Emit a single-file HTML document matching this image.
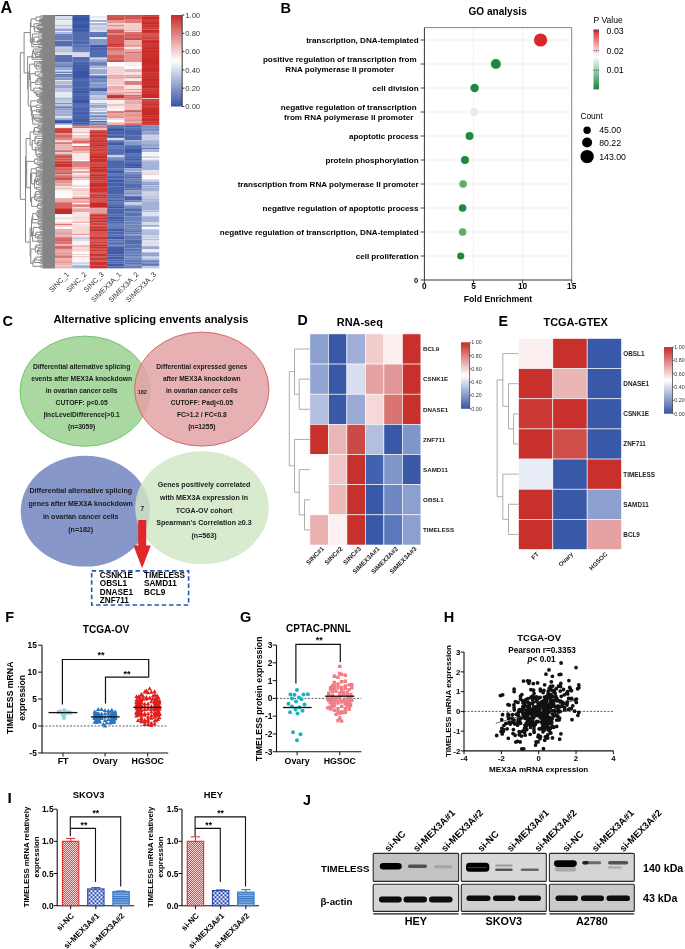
<!DOCTYPE html><html><head><meta charset="utf-8"><title>Figure</title><style>html,body{margin:0;padding:0;background:#fff;}body{width:685px;height:949px;overflow:hidden;font-family:"Liberation Sans",sans-serif;}svg{display:block;filter:blur(0.3px);}</style></head><body><svg width="685" height="949" viewBox="0 0 685 949" font-family="Liberation Sans, sans-serif" font-weight="bold"><text x="0.50" y="13.20" font-size="16.2">A</text>
<rect x="55.00" y="15.00" width="17.42" height="1.051" fill="#516bb0"/>
<rect x="55.00" y="16.00" width="17.42" height="2.052" fill="#d7dded"/>
<rect x="55.00" y="18.00" width="17.42" height="1.051" fill="#d5dbec"/>
<rect x="55.00" y="19.00" width="17.42" height="1.051" fill="#bdc7e1"/>
<rect x="55.00" y="20.01" width="17.42" height="1.051" fill="#eceff7"/>
<rect x="55.00" y="21.01" width="17.42" height="2.052" fill="#e5e9f3"/>
<rect x="55.00" y="23.01" width="17.42" height="2.052" fill="#e7eaf4"/>
<rect x="55.00" y="25.01" width="17.42" height="1.051" fill="#b7c1de"/>
<rect x="55.00" y="26.01" width="17.42" height="2.052" fill="#dee3f0"/>
<rect x="55.00" y="28.02" width="17.42" height="1.051" fill="#c0cae3"/>
<rect x="55.00" y="29.02" width="17.42" height="1.051" fill="#99a8d1"/>
<rect x="55.00" y="30.02" width="17.42" height="1.051" fill="#98a7d0"/>
<rect x="55.00" y="31.02" width="17.42" height="1.051" fill="#e9edf5"/>
<rect x="55.00" y="32.02" width="17.42" height="2.052" fill="#adb9da"/>
<rect x="55.00" y="34.02" width="17.42" height="1.051" fill="#677dba"/>
<rect x="55.00" y="35.02" width="17.42" height="1.051" fill="#6f84be"/>
<rect x="55.00" y="36.02" width="17.42" height="1.051" fill="#637ab8"/>
<rect x="55.00" y="37.03" width="17.42" height="3.054" fill="#667dba"/>
<rect x="55.00" y="40.03" width="17.42" height="1.051" fill="#95a5cf"/>
<rect x="55.00" y="41.03" width="17.42" height="5.056" fill="#536db1"/>
<rect x="55.00" y="46.04" width="17.42" height="1.051" fill="#97a7d0"/>
<rect x="55.00" y="47.04" width="17.42" height="2.052" fill="#c1cae3"/>
<rect x="55.00" y="49.04" width="17.42" height="3.054" fill="#b9c3df"/>
<rect x="55.00" y="52.04" width="17.42" height="2.052" fill="#d5dbec"/>
<rect x="55.00" y="54.05" width="17.42" height="1.051" fill="#e0e4f1"/>
<rect x="55.00" y="55.05" width="17.42" height="7.058" fill="#5770b3"/>
<rect x="55.00" y="62.06" width="17.42" height="1.051" fill="#8799c9"/>
<rect x="55.00" y="63.06" width="17.42" height="3.054" fill="#788cc2"/>
<rect x="55.00" y="66.06" width="17.42" height="1.051" fill="#5770b3"/>
<rect x="55.00" y="67.06" width="17.42" height="2.052" fill="#97a6d0"/>
<rect x="55.00" y="69.06" width="17.42" height="1.051" fill="#94a4cf"/>
<rect x="55.00" y="70.07" width="17.42" height="1.051" fill="#d1d8ea"/>
<rect x="55.00" y="71.07" width="17.42" height="1.051" fill="#b0bbdb"/>
<rect x="55.00" y="72.07" width="17.42" height="1.051" fill="#657cb9"/>
<rect x="55.00" y="73.07" width="17.42" height="1.051" fill="#c6cfe5"/>
<rect x="55.00" y="74.07" width="17.42" height="1.051" fill="#5770b3"/>
<rect x="55.00" y="75.07" width="17.42" height="2.052" fill="#6b81bc"/>
<rect x="55.00" y="77.07" width="17.42" height="1.051" fill="#99a8d1"/>
<rect x="55.00" y="78.07" width="17.42" height="2.052" fill="#8294c6"/>
<rect x="55.00" y="80.08" width="17.42" height="1.051" fill="#e6e9f4"/>
<rect x="55.00" y="81.08" width="17.42" height="3.054" fill="#b1bddc"/>
<rect x="55.00" y="84.08" width="17.42" height="1.051" fill="#c7d0e6"/>
<rect x="55.00" y="85.08" width="17.42" height="3.054" fill="#92a2ce"/>
<rect x="55.00" y="88.09" width="17.42" height="4.055" fill="#bac4e0"/>
<rect x="55.00" y="92.09" width="17.42" height="5.056" fill="#e7eaf4"/>
<rect x="55.00" y="97.10" width="17.42" height="1.051" fill="#cad2e7"/>
<rect x="55.00" y="98.10" width="17.42" height="1.051" fill="#a2b0d5"/>
<rect x="55.00" y="99.10" width="17.42" height="1.051" fill="#b8c3df"/>
<rect x="55.00" y="100.10" width="17.42" height="1.051" fill="#b4bfdd"/>
<rect x="55.00" y="101.10" width="17.42" height="2.052" fill="#c2cbe3"/>
<rect x="55.00" y="103.10" width="17.42" height="1.051" fill="#7287bf"/>
<rect x="55.00" y="104.11" width="17.42" height="2.052" fill="#b7c2de"/>
<rect x="55.00" y="106.11" width="17.42" height="1.051" fill="#7d91c4"/>
<rect x="55.00" y="107.11" width="17.42" height="1.051" fill="#6077b7"/>
<rect x="55.00" y="108.11" width="17.42" height="2.052" fill="#8d9ecb"/>
<rect x="55.00" y="110.11" width="17.42" height="3.054" fill="#a1afd4"/>
<rect x="55.00" y="113.12" width="17.42" height="1.051" fill="#9faed4"/>
<rect x="55.00" y="114.12" width="17.42" height="2.052" fill="#99a8d1"/>
<rect x="55.00" y="116.12" width="17.42" height="2.052" fill="#d9dfee"/>
<rect x="55.00" y="118.12" width="17.42" height="2.052" fill="#9baad2"/>
<rect x="55.00" y="120.12" width="17.42" height="3.054" fill="#3654a4"/>
<rect x="55.00" y="123.13" width="17.42" height="1.051" fill="#7e91c5"/>
<rect x="55.00" y="124.13" width="17.42" height="1.051" fill="#acb8d9"/>
<rect x="55.00" y="125.13" width="17.42" height="2.052" fill="#fcf5f5"/>
<rect x="55.00" y="127.13" width="17.42" height="1.051" fill="#f7dede"/>
<rect x="55.00" y="128.13" width="17.42" height="5.056" fill="#ce403c"/>
<rect x="55.00" y="133.14" width="17.42" height="2.052" fill="#e08886"/>
<rect x="55.00" y="135.14" width="17.42" height="1.051" fill="#d2504d"/>
<rect x="55.00" y="136.14" width="17.42" height="1.051" fill="#d35451"/>
<rect x="55.00" y="137.14" width="17.42" height="1.051" fill="#d76663"/>
<rect x="55.00" y="138.15" width="17.42" height="2.052" fill="#df827f"/>
<rect x="55.00" y="140.15" width="17.42" height="2.052" fill="#f4d4d3"/>
<rect x="55.00" y="142.15" width="17.42" height="1.051" fill="#dd7a78"/>
<rect x="55.00" y="143.15" width="17.42" height="1.051" fill="#d76663"/>
<rect x="55.00" y="144.15" width="17.42" height="5.056" fill="#ecb7b5"/>
<rect x="55.00" y="149.16" width="17.42" height="1.051" fill="#ecb6b4"/>
<rect x="55.00" y="150.16" width="17.42" height="2.052" fill="#da726f"/>
<rect x="55.00" y="152.16" width="17.42" height="2.052" fill="#cbd3e8"/>
<rect x="55.00" y="154.16" width="17.42" height="1.051" fill="#da726f"/>
<rect x="55.00" y="155.17" width="17.42" height="3.054" fill="#d2504d"/>
<rect x="55.00" y="158.17" width="17.42" height="1.051" fill="#d76562"/>
<rect x="55.00" y="159.17" width="17.42" height="1.051" fill="#cb3834"/>
<rect x="55.00" y="160.17" width="17.42" height="1.051" fill="#d65f5c"/>
<rect x="55.00" y="161.17" width="17.42" height="2.052" fill="#cd3c39"/>
<rect x="55.00" y="163.18" width="17.42" height="4.055" fill="#ca332f"/>
<rect x="55.00" y="167.18" width="17.42" height="1.051" fill="#d65e5b"/>
<rect x="55.00" y="168.18" width="17.42" height="2.052" fill="#d45855"/>
<rect x="55.00" y="170.18" width="17.42" height="3.054" fill="#da706d"/>
<rect x="55.00" y="173.19" width="17.42" height="1.051" fill="#cc3b37"/>
<rect x="55.00" y="174.19" width="17.42" height="1.051" fill="#e59b99"/>
<rect x="55.00" y="175.19" width="17.42" height="2.052" fill="#da716e"/>
<rect x="55.00" y="177.19" width="17.42" height="1.051" fill="#d2504d"/>
<rect x="55.00" y="178.19" width="17.42" height="1.051" fill="#cb3430"/>
<rect x="55.00" y="179.19" width="17.42" height="1.051" fill="#c9302c"/>
<rect x="55.00" y="180.20" width="17.42" height="3.054" fill="#e39290"/>
<rect x="55.00" y="183.20" width="17.42" height="3.054" fill="#e8a7a5"/>
<rect x="55.00" y="186.20" width="17.42" height="1.051" fill="#f7e1e0"/>
<rect x="55.00" y="187.20" width="17.42" height="2.052" fill="#f1cbca"/>
<rect x="55.00" y="189.21" width="17.42" height="1.051" fill="#f1c9c8"/>
<rect x="55.00" y="190.21" width="17.42" height="3.054" fill="#fcf4f3"/>
<rect x="55.00" y="193.21" width="17.42" height="2.052" fill="#ffffff"/>
<rect x="55.00" y="195.21" width="17.42" height="2.052" fill="#fefcfc"/>
<rect x="55.00" y="197.22" width="17.42" height="1.051" fill="#ffffff"/>
<rect x="55.00" y="198.22" width="17.42" height="4.055" fill="#eaacaa"/>
<rect x="55.00" y="202.22" width="17.42" height="6.057" fill="#d76461"/>
<rect x="55.00" y="208.23" width="17.42" height="6.057" fill="#c82a26"/>
<rect x="55.00" y="214.24" width="17.42" height="2.052" fill="#ffffff"/>
<rect x="55.00" y="216.24" width="17.42" height="1.051" fill="#fcf4f4"/>
<rect x="55.00" y="217.24" width="17.42" height="1.051" fill="#f7e2e1"/>
<rect x="55.00" y="218.24" width="17.42" height="1.051" fill="#f3cfcf"/>
<rect x="55.00" y="219.24" width="17.42" height="2.052" fill="#fcf3f3"/>
<rect x="55.00" y="221.24" width="17.42" height="1.051" fill="#ffffff"/>
<rect x="55.00" y="222.25" width="17.42" height="2.052" fill="#f2cccb"/>
<rect x="55.00" y="224.25" width="17.42" height="1.051" fill="#d14e4b"/>
<rect x="55.00" y="225.25" width="17.42" height="2.052" fill="#f4d4d3"/>
<rect x="55.00" y="227.25" width="17.42" height="2.052" fill="#ffffff"/>
<rect x="55.00" y="229.25" width="17.42" height="1.051" fill="#e18c8a"/>
<rect x="55.00" y="230.25" width="17.42" height="1.051" fill="#ecb5b4"/>
<rect x="55.00" y="231.26" width="17.42" height="1.051" fill="#e49896"/>
<rect x="55.00" y="232.26" width="17.42" height="2.052" fill="#e49694"/>
<rect x="55.00" y="234.26" width="17.42" height="1.051" fill="#e59c9a"/>
<rect x="55.00" y="235.26" width="17.42" height="2.052" fill="#eaadac"/>
<rect x="55.00" y="237.26" width="17.42" height="3.054" fill="#d86866"/>
<rect x="55.00" y="240.27" width="17.42" height="1.051" fill="#cd3e3a"/>
<rect x="55.00" y="241.27" width="17.42" height="2.052" fill="#d96b68"/>
<rect x="55.00" y="243.27" width="17.42" height="1.051" fill="#d6605d"/>
<rect x="55.00" y="244.27" width="17.42" height="2.052" fill="#ebb0af"/>
<rect x="55.00" y="246.27" width="17.42" height="1.051" fill="#cf4441"/>
<rect x="55.00" y="247.28" width="17.42" height="1.051" fill="#ce413d"/>
<rect x="55.00" y="248.28" width="17.42" height="1.051" fill="#d35653"/>
<rect x="55.00" y="249.28" width="17.42" height="1.051" fill="#e49694"/>
<rect x="55.00" y="250.28" width="17.42" height="1.051" fill="#e28e8b"/>
<rect x="55.00" y="251.28" width="17.42" height="4.055" fill="#e7a2a1"/>
<rect x="55.00" y="255.28" width="17.42" height="3.054" fill="#dc7774"/>
<rect x="55.00" y="258.29" width="17.42" height="3.054" fill="#ecb4b3"/>
<rect x="55.00" y="261.29" width="17.42" height="1.051" fill="#e18b89"/>
<rect x="55.00" y="262.29" width="17.42" height="1.051" fill="#e18a87"/>
<rect x="55.00" y="263.29" width="17.42" height="1.051" fill="#e7a4a2"/>
<rect x="55.00" y="264.30" width="17.42" height="1.051" fill="#e6a09e"/>
<rect x="55.00" y="265.30" width="17.42" height="1.051" fill="#eebfbd"/>
<rect x="55.00" y="266.30" width="17.42" height="2.052" fill="#ebb0af"/>
<rect x="72.37" y="15.00" width="17.42" height="1.051" fill="#3d5aa7"/>
<rect x="72.37" y="16.00" width="17.42" height="1.051" fill="#3f5ca8"/>
<rect x="72.37" y="17.00" width="17.42" height="1.051" fill="#3d5aa7"/>
<rect x="72.37" y="18.00" width="17.42" height="3.054" fill="#3654a4"/>
<rect x="72.37" y="21.01" width="17.42" height="3.054" fill="#425ea9"/>
<rect x="72.37" y="24.01" width="17.42" height="4.055" fill="#3654a4"/>
<rect x="72.37" y="28.02" width="17.42" height="2.052" fill="#4460aa"/>
<rect x="72.37" y="30.02" width="17.42" height="1.051" fill="#3654a4"/>
<rect x="72.37" y="31.02" width="17.42" height="1.051" fill="#425ea9"/>
<rect x="72.37" y="32.02" width="17.42" height="6.057" fill="#506ab0"/>
<rect x="72.37" y="38.03" width="17.42" height="1.051" fill="#516bb0"/>
<rect x="72.37" y="39.03" width="17.42" height="1.051" fill="#4c66ae"/>
<rect x="72.37" y="40.03" width="17.42" height="1.051" fill="#5770b3"/>
<rect x="72.37" y="41.03" width="17.42" height="3.054" fill="#4c67ae"/>
<rect x="72.37" y="44.03" width="17.42" height="2.052" fill="#637ab8"/>
<rect x="72.37" y="46.04" width="17.42" height="1.051" fill="#4e68af"/>
<rect x="72.37" y="47.04" width="17.42" height="3.054" fill="#677eba"/>
<rect x="72.37" y="50.04" width="17.42" height="1.051" fill="#647cb9"/>
<rect x="72.37" y="51.04" width="17.42" height="1.051" fill="#667dba"/>
<rect x="72.37" y="52.04" width="17.42" height="1.051" fill="#c7cfe6"/>
<rect x="72.37" y="53.05" width="17.42" height="1.051" fill="#d5dbec"/>
<rect x="72.37" y="54.05" width="17.42" height="3.054" fill="#d4daeb"/>
<rect x="72.37" y="57.05" width="17.42" height="3.054" fill="#4f69af"/>
<rect x="72.37" y="60.05" width="17.42" height="1.051" fill="#5972b4"/>
<rect x="72.37" y="61.05" width="17.42" height="1.051" fill="#536cb1"/>
<rect x="72.37" y="62.06" width="17.42" height="2.052" fill="#4762ac"/>
<rect x="72.37" y="64.06" width="17.42" height="6.057" fill="#425ea9"/>
<rect x="72.37" y="70.07" width="17.42" height="8.059" fill="#3956a5"/>
<rect x="72.37" y="78.07" width="17.42" height="1.051" fill="#415da9"/>
<rect x="72.37" y="79.08" width="17.42" height="1.051" fill="#4763ac"/>
<rect x="72.37" y="80.08" width="17.42" height="7.058" fill="#4863ac"/>
<rect x="72.37" y="87.09" width="17.42" height="4.055" fill="#4662ab"/>
<rect x="72.37" y="91.09" width="17.42" height="2.052" fill="#3654a4"/>
<rect x="72.37" y="93.09" width="17.42" height="2.052" fill="#4863ac"/>
<rect x="72.37" y="95.09" width="17.42" height="4.055" fill="#4561ab"/>
<rect x="72.37" y="99.10" width="17.42" height="4.055" fill="#3654a4"/>
<rect x="72.37" y="103.10" width="17.42" height="1.051" fill="#4460aa"/>
<rect x="72.37" y="104.11" width="17.42" height="1.051" fill="#425ea9"/>
<rect x="72.37" y="105.11" width="17.42" height="2.052" fill="#4f6aaf"/>
<rect x="72.37" y="107.11" width="17.42" height="4.055" fill="#4863ac"/>
<rect x="72.37" y="111.11" width="17.42" height="4.055" fill="#4460ab"/>
<rect x="72.37" y="115.12" width="17.42" height="3.054" fill="#4662ab"/>
<rect x="72.37" y="118.12" width="17.42" height="4.055" fill="#3f5ba8"/>
<rect x="72.37" y="122.13" width="17.42" height="2.052" fill="#415ea9"/>
<rect x="72.37" y="124.13" width="17.42" height="1.051" fill="#4863ac"/>
<rect x="72.37" y="125.13" width="17.42" height="1.051" fill="#d04844"/>
<rect x="72.37" y="126.13" width="17.42" height="1.051" fill="#df8381"/>
<rect x="72.37" y="127.13" width="17.42" height="1.051" fill="#d55c59"/>
<rect x="72.37" y="128.13" width="17.42" height="4.055" fill="#f7e2e1"/>
<rect x="72.37" y="132.14" width="17.42" height="1.051" fill="#ebb3b2"/>
<rect x="72.37" y="133.14" width="17.42" height="1.051" fill="#faeded"/>
<rect x="72.37" y="134.14" width="17.42" height="1.051" fill="#fefcfc"/>
<rect x="72.37" y="135.14" width="17.42" height="1.051" fill="#eebdbc"/>
<rect x="72.37" y="136.14" width="17.42" height="2.052" fill="#f3d1d0"/>
<rect x="72.37" y="138.15" width="17.42" height="2.052" fill="#e8a5a3"/>
<rect x="72.37" y="140.15" width="17.42" height="1.051" fill="#dd7a78"/>
<rect x="72.37" y="141.15" width="17.42" height="2.052" fill="#d6615e"/>
<rect x="72.37" y="143.15" width="17.42" height="1.051" fill="#eaaead"/>
<rect x="72.37" y="144.15" width="17.42" height="2.052" fill="#fefcfc"/>
<rect x="72.37" y="146.16" width="17.42" height="1.051" fill="#ce423e"/>
<rect x="72.37" y="147.16" width="17.42" height="1.051" fill="#e49694"/>
<rect x="72.37" y="148.16" width="17.42" height="2.052" fill="#e18987"/>
<rect x="72.37" y="150.16" width="17.42" height="1.051" fill="#e2918f"/>
<rect x="72.37" y="151.16" width="17.42" height="2.052" fill="#ecb5b3"/>
<rect x="72.37" y="153.16" width="17.42" height="7.058" fill="#f9e9e9"/>
<rect x="72.37" y="160.17" width="17.42" height="1.051" fill="#fffefe"/>
<rect x="72.37" y="161.17" width="17.42" height="5.056" fill="#de7e7c"/>
<rect x="72.37" y="166.18" width="17.42" height="1.051" fill="#da706e"/>
<rect x="72.37" y="167.18" width="17.42" height="2.052" fill="#e8a6a4"/>
<rect x="72.37" y="169.18" width="17.42" height="1.051" fill="#f3d1d0"/>
<rect x="72.37" y="170.18" width="17.42" height="1.051" fill="#f9e6e5"/>
<rect x="72.37" y="171.18" width="17.42" height="2.052" fill="#e59c9a"/>
<rect x="72.37" y="173.19" width="17.42" height="1.051" fill="#fdf6f6"/>
<rect x="72.37" y="174.19" width="17.42" height="1.051" fill="#f7e1e1"/>
<rect x="72.37" y="175.19" width="17.42" height="2.052" fill="#efc0bf"/>
<rect x="72.37" y="177.19" width="17.42" height="1.051" fill="#e08886"/>
<rect x="72.37" y="178.19" width="17.42" height="2.052" fill="#f1c8c7"/>
<rect x="72.37" y="180.20" width="17.42" height="1.051" fill="#f9fafc"/>
<rect x="72.37" y="181.20" width="17.42" height="1.051" fill="#fcfdfe"/>
<rect x="72.37" y="182.20" width="17.42" height="1.051" fill="#fffefe"/>
<rect x="72.37" y="183.20" width="17.42" height="2.052" fill="#f9fafc"/>
<rect x="72.37" y="185.20" width="17.42" height="2.052" fill="#f5d7d6"/>
<rect x="72.37" y="187.20" width="17.42" height="1.051" fill="#ffffff"/>
<rect x="72.37" y="188.21" width="17.42" height="1.051" fill="#f3cfce"/>
<rect x="72.37" y="189.21" width="17.42" height="2.052" fill="#f1cac9"/>
<rect x="72.37" y="191.21" width="17.42" height="4.055" fill="#f6dada"/>
<rect x="72.37" y="195.21" width="17.42" height="1.051" fill="#f9e9e9"/>
<rect x="72.37" y="196.21" width="17.42" height="1.051" fill="#f1cac9"/>
<rect x="72.37" y="197.22" width="17.42" height="1.051" fill="#e7a2a0"/>
<rect x="72.37" y="198.22" width="17.42" height="1.051" fill="#d2514e"/>
<rect x="72.37" y="199.22" width="17.42" height="1.051" fill="#e9a9a7"/>
<rect x="72.37" y="200.22" width="17.42" height="3.054" fill="#e9a8a6"/>
<rect x="72.37" y="203.22" width="17.42" height="1.051" fill="#ffffff"/>
<rect x="72.37" y="204.22" width="17.42" height="3.054" fill="#df8280"/>
<rect x="72.37" y="207.23" width="17.42" height="1.051" fill="#f6dddc"/>
<rect x="72.37" y="208.23" width="17.42" height="4.055" fill="#e8a6a5"/>
<rect x="72.37" y="212.23" width="17.42" height="4.055" fill="#f9e6e6"/>
<rect x="72.37" y="216.24" width="17.42" height="2.052" fill="#f6dbda"/>
<rect x="72.37" y="218.24" width="17.42" height="1.051" fill="#f3d1d0"/>
<rect x="72.37" y="219.24" width="17.42" height="1.051" fill="#e7ebf4"/>
<rect x="72.37" y="220.24" width="17.42" height="2.052" fill="#f4d5d4"/>
<rect x="72.37" y="222.25" width="17.42" height="1.051" fill="#e7a19f"/>
<rect x="72.37" y="223.25" width="17.42" height="1.051" fill="#ffffff"/>
<rect x="72.37" y="224.25" width="17.42" height="1.051" fill="#f6dcdb"/>
<rect x="72.37" y="225.25" width="17.42" height="1.051" fill="#f5d9d8"/>
<rect x="72.37" y="226.25" width="17.42" height="6.057" fill="#f5d8d7"/>
<rect x="72.37" y="232.26" width="17.42" height="2.052" fill="#f4d3d2"/>
<rect x="72.37" y="234.26" width="17.42" height="1.051" fill="#dc7876"/>
<rect x="72.37" y="235.26" width="17.42" height="1.051" fill="#ffffff"/>
<rect x="72.37" y="236.26" width="17.42" height="1.051" fill="#f4d4d3"/>
<rect x="72.37" y="237.26" width="17.42" height="1.051" fill="#c4cde4"/>
<rect x="72.37" y="238.26" width="17.42" height="1.051" fill="#a7b4d7"/>
<rect x="72.37" y="239.27" width="17.42" height="2.052" fill="#d8deed"/>
<rect x="72.37" y="241.27" width="17.42" height="4.055" fill="#fcf4f4"/>
<rect x="72.37" y="245.27" width="17.42" height="2.052" fill="#ecb6b4"/>
<rect x="72.37" y="247.28" width="17.42" height="1.051" fill="#f6dada"/>
<rect x="72.37" y="248.28" width="17.42" height="3.054" fill="#f3d2d2"/>
<rect x="72.37" y="251.28" width="17.42" height="1.051" fill="#fcf3f2"/>
<rect x="72.37" y="252.28" width="17.42" height="2.052" fill="#ffffff"/>
<rect x="72.37" y="254.28" width="17.42" height="1.051" fill="#edbab8"/>
<rect x="72.37" y="255.28" width="17.42" height="1.051" fill="#fffefe"/>
<rect x="72.37" y="256.29" width="17.42" height="1.051" fill="#ecb5b4"/>
<rect x="72.37" y="257.29" width="17.42" height="5.056" fill="#fcf3f2"/>
<rect x="72.37" y="262.29" width="17.42" height="1.051" fill="#ced6e9"/>
<rect x="72.37" y="263.29" width="17.42" height="1.051" fill="#bbc5e0"/>
<rect x="72.37" y="264.30" width="17.42" height="1.051" fill="#e3e7f2"/>
<rect x="72.37" y="265.30" width="17.42" height="2.052" fill="#98a8d1"/>
<rect x="72.37" y="267.30" width="17.42" height="1.051" fill="#99a8d1"/>
<rect x="89.73" y="15.00" width="17.42" height="1.051" fill="#fffdfd"/>
<rect x="89.73" y="16.00" width="17.42" height="2.052" fill="#e5e9f3"/>
<rect x="89.73" y="18.00" width="17.42" height="2.052" fill="#fcf3f3"/>
<rect x="89.73" y="20.01" width="17.42" height="2.052" fill="#a3b1d6"/>
<rect x="89.73" y="22.01" width="17.42" height="1.051" fill="#fcfdfe"/>
<rect x="89.73" y="23.01" width="17.42" height="2.052" fill="#aab7d9"/>
<rect x="89.73" y="25.01" width="17.42" height="1.051" fill="#d0d7ea"/>
<rect x="89.73" y="26.01" width="17.42" height="1.051" fill="#d2d8ea"/>
<rect x="89.73" y="27.01" width="17.42" height="3.054" fill="#c6cee5"/>
<rect x="89.73" y="30.02" width="17.42" height="2.052" fill="#d7dded"/>
<rect x="89.73" y="32.02" width="17.42" height="3.054" fill="#6077b7"/>
<rect x="89.73" y="35.02" width="17.42" height="2.052" fill="#5871b3"/>
<rect x="89.73" y="37.03" width="17.42" height="2.052" fill="#dbe1ef"/>
<rect x="89.73" y="39.03" width="17.42" height="5.056" fill="#8698c8"/>
<rect x="89.73" y="44.03" width="17.42" height="1.051" fill="#899bca"/>
<rect x="89.73" y="45.04" width="17.42" height="2.052" fill="#3654a4"/>
<rect x="89.73" y="47.04" width="17.42" height="1.051" fill="#516bb0"/>
<rect x="89.73" y="48.04" width="17.42" height="2.052" fill="#4661ab"/>
<rect x="89.73" y="50.04" width="17.42" height="6.057" fill="#526cb1"/>
<rect x="89.73" y="56.05" width="17.42" height="1.051" fill="#4b66ad"/>
<rect x="89.73" y="57.05" width="17.42" height="1.051" fill="#a1afd4"/>
<rect x="89.73" y="58.05" width="17.42" height="1.051" fill="#ccd4e8"/>
<rect x="89.73" y="59.05" width="17.42" height="1.051" fill="#afbbdb"/>
<rect x="89.73" y="60.05" width="17.42" height="1.051" fill="#95a5cf"/>
<rect x="89.73" y="61.05" width="17.42" height="1.051" fill="#92a2ce"/>
<rect x="89.73" y="62.06" width="17.42" height="3.054" fill="#6a80bb"/>
<rect x="89.73" y="65.06" width="17.42" height="1.051" fill="#7d90c4"/>
<rect x="89.73" y="66.06" width="17.42" height="2.052" fill="#a7b4d7"/>
<rect x="89.73" y="68.06" width="17.42" height="1.051" fill="#dadfee"/>
<rect x="89.73" y="69.06" width="17.42" height="5.056" fill="#99a9d1"/>
<rect x="89.73" y="74.07" width="17.42" height="1.051" fill="#dae0ee"/>
<rect x="89.73" y="75.07" width="17.42" height="1.051" fill="#8a9bca"/>
<rect x="89.73" y="76.07" width="17.42" height="2.052" fill="#546eb2"/>
<rect x="89.73" y="78.07" width="17.42" height="1.051" fill="#657cb9"/>
<rect x="89.73" y="79.08" width="17.42" height="3.054" fill="#7388c0"/>
<rect x="89.73" y="82.08" width="17.42" height="1.051" fill="#8698c8"/>
<rect x="89.73" y="83.08" width="17.42" height="1.051" fill="#9baad2"/>
<rect x="89.73" y="84.08" width="17.42" height="1.051" fill="#7086be"/>
<rect x="89.73" y="85.08" width="17.42" height="3.054" fill="#8497c8"/>
<rect x="89.73" y="88.09" width="17.42" height="3.054" fill="#4863ac"/>
<rect x="89.73" y="91.09" width="17.42" height="1.051" fill="#90a1cd"/>
<rect x="89.73" y="92.09" width="17.42" height="3.054" fill="#97a6d0"/>
<rect x="89.73" y="95.09" width="17.42" height="1.051" fill="#bfc8e2"/>
<rect x="89.73" y="96.10" width="17.42" height="2.052" fill="#bec7e1"/>
<rect x="89.73" y="98.10" width="17.42" height="2.052" fill="#abb7d9"/>
<rect x="89.73" y="100.10" width="17.42" height="3.054" fill="#eaedf5"/>
<rect x="89.73" y="103.10" width="17.42" height="1.051" fill="#a2b0d5"/>
<rect x="89.73" y="104.11" width="17.42" height="1.051" fill="#bcc6e1"/>
<rect x="89.73" y="105.11" width="17.42" height="1.051" fill="#8698c8"/>
<rect x="89.73" y="106.11" width="17.42" height="1.051" fill="#92a2cd"/>
<rect x="89.73" y="107.11" width="17.42" height="1.051" fill="#97a6d0"/>
<rect x="89.73" y="108.11" width="17.42" height="1.051" fill="#dce1ef"/>
<rect x="89.73" y="109.11" width="17.42" height="2.052" fill="#c0cae3"/>
<rect x="89.73" y="111.11" width="17.42" height="1.051" fill="#e9ecf5"/>
<rect x="89.73" y="112.12" width="17.42" height="2.052" fill="#8c9ecb"/>
<rect x="89.73" y="114.12" width="17.42" height="1.051" fill="#c9d1e7"/>
<rect x="89.73" y="115.12" width="17.42" height="1.051" fill="#7b8ec3"/>
<rect x="89.73" y="116.12" width="17.42" height="1.051" fill="#657cb9"/>
<rect x="89.73" y="117.12" width="17.42" height="2.052" fill="#a3b0d5"/>
<rect x="89.73" y="119.12" width="17.42" height="1.051" fill="#7e91c5"/>
<rect x="89.73" y="120.12" width="17.42" height="1.051" fill="#d2d9eb"/>
<rect x="89.73" y="121.13" width="17.42" height="1.051" fill="#3654a4"/>
<rect x="89.73" y="122.13" width="17.42" height="1.051" fill="#8396c7"/>
<rect x="89.73" y="123.13" width="17.42" height="2.052" fill="#7085be"/>
<rect x="89.73" y="125.13" width="17.42" height="3.054" fill="#df8582"/>
<rect x="89.73" y="128.13" width="17.42" height="1.051" fill="#ecb6b5"/>
<rect x="89.73" y="129.14" width="17.42" height="1.051" fill="#f0c6c5"/>
<rect x="89.73" y="130.14" width="17.42" height="1.051" fill="#cd3e3a"/>
<rect x="89.73" y="131.14" width="17.42" height="2.052" fill="#cb3633"/>
<rect x="89.73" y="133.14" width="17.42" height="1.051" fill="#cb3734"/>
<rect x="89.73" y="134.14" width="17.42" height="3.054" fill="#ca332f"/>
<rect x="89.73" y="137.14" width="17.42" height="2.052" fill="#ce423e"/>
<rect x="89.73" y="139.15" width="17.42" height="1.051" fill="#ca322e"/>
<rect x="89.73" y="140.15" width="17.42" height="2.052" fill="#c82a26"/>
<rect x="89.73" y="142.15" width="17.42" height="2.052" fill="#cc3b37"/>
<rect x="89.73" y="144.15" width="17.42" height="2.052" fill="#c82a26"/>
<rect x="89.73" y="146.16" width="17.42" height="2.052" fill="#cc3936"/>
<rect x="89.73" y="148.16" width="17.42" height="2.052" fill="#ce403d"/>
<rect x="89.73" y="150.16" width="17.42" height="1.051" fill="#c82a26"/>
<rect x="89.73" y="151.16" width="17.42" height="1.051" fill="#cc3b37"/>
<rect x="89.73" y="152.16" width="17.42" height="1.051" fill="#c92c29"/>
<rect x="89.73" y="153.16" width="17.42" height="2.052" fill="#ca322e"/>
<rect x="89.73" y="155.17" width="17.42" height="3.054" fill="#c82a26"/>
<rect x="89.73" y="158.17" width="17.42" height="4.055" fill="#ca302c"/>
<rect x="89.73" y="162.17" width="17.42" height="1.051" fill="#cb3632"/>
<rect x="89.73" y="163.18" width="17.42" height="2.052" fill="#cc3a37"/>
<rect x="89.73" y="165.18" width="17.42" height="1.051" fill="#cb3733"/>
<rect x="89.73" y="166.18" width="17.42" height="2.052" fill="#c82a26"/>
<rect x="89.73" y="168.18" width="17.42" height="4.055" fill="#ca312d"/>
<rect x="89.73" y="172.19" width="17.42" height="1.051" fill="#cb3733"/>
<rect x="89.73" y="173.19" width="17.42" height="1.051" fill="#ca322e"/>
<rect x="89.73" y="174.19" width="17.42" height="2.052" fill="#c82b27"/>
<rect x="89.73" y="176.19" width="17.42" height="2.052" fill="#c92e2a"/>
<rect x="89.73" y="178.19" width="17.42" height="2.052" fill="#cb3430"/>
<rect x="89.73" y="180.20" width="17.42" height="2.052" fill="#ce413e"/>
<rect x="89.73" y="182.20" width="17.42" height="5.056" fill="#c92e2a"/>
<rect x="89.73" y="187.20" width="17.42" height="5.056" fill="#cb3430"/>
<rect x="89.73" y="192.21" width="17.42" height="1.051" fill="#c92e2a"/>
<rect x="89.73" y="193.21" width="17.42" height="1.051" fill="#cf4642"/>
<rect x="89.73" y="194.21" width="17.42" height="2.052" fill="#ca322e"/>
<rect x="89.73" y="196.21" width="17.42" height="2.052" fill="#cb3834"/>
<rect x="89.73" y="198.22" width="17.42" height="1.051" fill="#cf4642"/>
<rect x="89.73" y="199.22" width="17.42" height="1.051" fill="#ca332f"/>
<rect x="89.73" y="200.22" width="17.42" height="1.051" fill="#cc3a36"/>
<rect x="89.73" y="201.22" width="17.42" height="1.051" fill="#ca332f"/>
<rect x="89.73" y="202.22" width="17.42" height="5.056" fill="#c82a26"/>
<rect x="89.73" y="207.23" width="17.42" height="1.051" fill="#cd3e3b"/>
<rect x="89.73" y="208.23" width="17.42" height="5.056" fill="#e69e9d"/>
<rect x="89.73" y="213.23" width="17.42" height="1.051" fill="#d6625f"/>
<rect x="89.73" y="214.24" width="17.42" height="2.052" fill="#ca332f"/>
<rect x="89.73" y="216.24" width="17.42" height="1.051" fill="#c82a26"/>
<rect x="89.73" y="217.24" width="17.42" height="2.052" fill="#ca332f"/>
<rect x="89.73" y="219.24" width="17.42" height="1.051" fill="#c92c28"/>
<rect x="89.73" y="220.24" width="17.42" height="2.052" fill="#c82a26"/>
<rect x="89.73" y="222.25" width="17.42" height="3.054" fill="#ce423f"/>
<rect x="89.73" y="225.25" width="17.42" height="1.051" fill="#cf4542"/>
<rect x="89.73" y="226.25" width="17.42" height="2.052" fill="#c92e2a"/>
<rect x="89.73" y="228.25" width="17.42" height="3.054" fill="#ca312e"/>
<rect x="89.73" y="231.26" width="17.42" height="1.051" fill="#ca312d"/>
<rect x="89.73" y="232.26" width="17.42" height="1.051" fill="#c82a26"/>
<rect x="89.73" y="233.26" width="17.42" height="1.051" fill="#cb3531"/>
<rect x="89.73" y="234.26" width="17.42" height="1.051" fill="#c92f2b"/>
<rect x="89.73" y="235.26" width="17.42" height="1.051" fill="#cd3c39"/>
<rect x="89.73" y="236.26" width="17.42" height="3.054" fill="#cc3834"/>
<rect x="89.73" y="239.27" width="17.42" height="1.051" fill="#c92d29"/>
<rect x="89.73" y="240.27" width="17.42" height="1.051" fill="#cb3531"/>
<rect x="89.73" y="241.27" width="17.42" height="2.052" fill="#cd3e3a"/>
<rect x="89.73" y="243.27" width="17.42" height="1.051" fill="#ce403c"/>
<rect x="89.73" y="244.27" width="17.42" height="2.052" fill="#c82a26"/>
<rect x="89.73" y="246.27" width="17.42" height="2.052" fill="#ca322e"/>
<rect x="89.73" y="248.28" width="17.42" height="1.051" fill="#c82a26"/>
<rect x="89.73" y="249.28" width="17.42" height="2.052" fill="#cc3834"/>
<rect x="89.73" y="251.28" width="17.42" height="1.051" fill="#cc3b37"/>
<rect x="89.73" y="252.28" width="17.42" height="1.051" fill="#cb3430"/>
<rect x="89.73" y="253.28" width="17.42" height="3.054" fill="#ca322e"/>
<rect x="89.73" y="256.29" width="17.42" height="1.051" fill="#cb3430"/>
<rect x="89.73" y="257.29" width="17.42" height="3.054" fill="#cc3a37"/>
<rect x="89.73" y="260.29" width="17.42" height="1.051" fill="#cc3935"/>
<rect x="89.73" y="261.29" width="17.42" height="4.055" fill="#ca3330"/>
<rect x="89.73" y="265.30" width="17.42" height="3.054" fill="#ca302c"/>
<rect x="107.10" y="15.00" width="17.42" height="3.054" fill="#d35551"/>
<rect x="107.10" y="18.00" width="17.42" height="1.051" fill="#d04a46"/>
<rect x="107.10" y="19.00" width="17.42" height="1.051" fill="#d14c49"/>
<rect x="107.10" y="20.01" width="17.42" height="3.054" fill="#e49593"/>
<rect x="107.10" y="23.01" width="17.42" height="2.052" fill="#f2cccb"/>
<rect x="107.10" y="25.01" width="17.42" height="1.051" fill="#e18a88"/>
<rect x="107.10" y="26.01" width="17.42" height="3.054" fill="#efbfbe"/>
<rect x="107.10" y="29.02" width="17.42" height="1.051" fill="#e2908e"/>
<rect x="107.10" y="30.02" width="17.42" height="1.051" fill="#d45754"/>
<rect x="107.10" y="31.02" width="17.42" height="2.052" fill="#d35653"/>
<rect x="107.10" y="33.02" width="17.42" height="2.052" fill="#df8380"/>
<rect x="107.10" y="35.02" width="17.42" height="9.061" fill="#d2524f"/>
<rect x="107.10" y="44.03" width="17.42" height="1.051" fill="#c82b27"/>
<rect x="107.10" y="45.04" width="17.42" height="2.052" fill="#cf4642"/>
<rect x="107.10" y="47.04" width="17.42" height="1.051" fill="#e08986"/>
<rect x="107.10" y="48.04" width="17.42" height="2.052" fill="#d76360"/>
<rect x="107.10" y="50.04" width="17.42" height="2.052" fill="#df8481"/>
<rect x="107.10" y="52.04" width="17.42" height="1.051" fill="#e39290"/>
<rect x="107.10" y="53.05" width="17.42" height="2.052" fill="#e18a88"/>
<rect x="107.10" y="55.05" width="17.42" height="3.054" fill="#d6605d"/>
<rect x="107.10" y="58.05" width="17.42" height="2.052" fill="#d86865"/>
<rect x="107.10" y="60.05" width="17.42" height="2.052" fill="#d14e4b"/>
<rect x="107.10" y="62.06" width="17.42" height="4.055" fill="#ffffff"/>
<rect x="107.10" y="66.06" width="17.42" height="1.051" fill="#f7e1e0"/>
<rect x="107.10" y="67.06" width="17.42" height="6.057" fill="#f4d4d4"/>
<rect x="107.10" y="73.07" width="17.42" height="2.052" fill="#f5d8d7"/>
<rect x="107.10" y="75.07" width="17.42" height="1.051" fill="#e7a09e"/>
<rect x="107.10" y="76.07" width="17.42" height="1.051" fill="#ebb0af"/>
<rect x="107.10" y="77.07" width="17.42" height="1.051" fill="#e8a6a5"/>
<rect x="107.10" y="78.07" width="17.42" height="1.051" fill="#ebb1b0"/>
<rect x="107.10" y="79.08" width="17.42" height="5.056" fill="#f2cccb"/>
<rect x="107.10" y="84.08" width="17.42" height="1.051" fill="#f2cbca"/>
<rect x="107.10" y="85.08" width="17.42" height="1.051" fill="#f7e0e0"/>
<rect x="107.10" y="86.08" width="17.42" height="3.054" fill="#e9aba9"/>
<rect x="107.10" y="89.09" width="17.42" height="2.052" fill="#ecb5b3"/>
<rect x="107.10" y="91.09" width="17.42" height="1.051" fill="#f2cbca"/>
<rect x="107.10" y="92.09" width="17.42" height="2.052" fill="#eaadab"/>
<rect x="107.10" y="94.09" width="17.42" height="1.051" fill="#df8482"/>
<rect x="107.10" y="95.09" width="17.42" height="3.054" fill="#c92f2b"/>
<rect x="107.10" y="98.10" width="17.42" height="2.052" fill="#e18b89"/>
<rect x="107.10" y="100.10" width="17.42" height="2.052" fill="#fdf5f5"/>
<rect x="107.10" y="102.10" width="17.42" height="2.052" fill="#faeaea"/>
<rect x="107.10" y="104.11" width="17.42" height="2.052" fill="#efc0bf"/>
<rect x="107.10" y="106.11" width="17.42" height="3.054" fill="#f9e9e9"/>
<rect x="107.10" y="109.11" width="17.42" height="1.051" fill="#ffffff"/>
<rect x="107.10" y="110.11" width="17.42" height="1.051" fill="#f9e6e5"/>
<rect x="107.10" y="111.11" width="17.42" height="2.052" fill="#dd7b79"/>
<rect x="107.10" y="113.12" width="17.42" height="3.054" fill="#e7a2a0"/>
<rect x="107.10" y="116.12" width="17.42" height="2.052" fill="#e28f8c"/>
<rect x="107.10" y="118.12" width="17.42" height="2.052" fill="#f4d5d4"/>
<rect x="107.10" y="120.12" width="17.42" height="2.052" fill="#ffffff"/>
<rect x="107.10" y="122.13" width="17.42" height="1.051" fill="#f1cac9"/>
<rect x="107.10" y="123.13" width="17.42" height="2.052" fill="#eaadac"/>
<rect x="107.10" y="125.13" width="17.42" height="1.051" fill="#4b66ad"/>
<rect x="107.10" y="126.13" width="17.42" height="1.051" fill="#4f69af"/>
<rect x="107.10" y="127.13" width="17.42" height="1.051" fill="#4460aa"/>
<rect x="107.10" y="128.13" width="17.42" height="3.054" fill="#3855a5"/>
<rect x="107.10" y="131.14" width="17.42" height="3.054" fill="#4560ab"/>
<rect x="107.10" y="134.14" width="17.42" height="1.051" fill="#4864ac"/>
<rect x="107.10" y="135.14" width="17.42" height="2.052" fill="#425eaa"/>
<rect x="107.10" y="137.14" width="17.42" height="1.051" fill="#4964ad"/>
<rect x="107.10" y="138.15" width="17.42" height="2.052" fill="#d1d8ea"/>
<rect x="107.10" y="140.15" width="17.42" height="2.052" fill="#627ab8"/>
<rect x="107.10" y="142.15" width="17.42" height="3.054" fill="#3d5aa7"/>
<rect x="107.10" y="145.15" width="17.42" height="1.051" fill="#5d76b6"/>
<rect x="107.10" y="146.16" width="17.42" height="1.051" fill="#4c66ae"/>
<rect x="107.10" y="147.16" width="17.42" height="1.051" fill="#4b66ae"/>
<rect x="107.10" y="148.16" width="17.42" height="6.057" fill="#566fb3"/>
<rect x="107.10" y="154.16" width="17.42" height="1.051" fill="#506ab0"/>
<rect x="107.10" y="155.17" width="17.42" height="1.051" fill="#cad2e7"/>
<rect x="107.10" y="156.17" width="17.42" height="1.051" fill="#bec8e2"/>
<rect x="107.10" y="157.17" width="17.42" height="3.054" fill="#788cc2"/>
<rect x="107.10" y="160.17" width="17.42" height="8.059" fill="#4c67ae"/>
<rect x="107.10" y="168.18" width="17.42" height="2.052" fill="#5770b3"/>
<rect x="107.10" y="170.18" width="17.42" height="3.054" fill="#3e5ba8"/>
<rect x="107.10" y="173.19" width="17.42" height="1.051" fill="#516bb0"/>
<rect x="107.10" y="174.19" width="17.42" height="1.051" fill="#3f5ca8"/>
<rect x="107.10" y="175.19" width="17.42" height="3.054" fill="#4d68af"/>
<rect x="107.10" y="178.19" width="17.42" height="1.051" fill="#425eaa"/>
<rect x="107.10" y="179.19" width="17.42" height="3.054" fill="#3f5ba8"/>
<rect x="107.10" y="182.20" width="17.42" height="4.055" fill="#4661ab"/>
<rect x="107.10" y="186.20" width="17.42" height="8.059" fill="#4964ad"/>
<rect x="107.10" y="194.21" width="17.42" height="2.052" fill="#4f6aaf"/>
<rect x="107.10" y="196.21" width="17.42" height="2.052" fill="#4864ac"/>
<rect x="107.10" y="198.22" width="17.42" height="1.051" fill="#526bb0"/>
<rect x="107.10" y="199.22" width="17.42" height="2.052" fill="#4964ad"/>
<rect x="107.10" y="201.22" width="17.42" height="1.051" fill="#4b66ad"/>
<rect x="107.10" y="202.22" width="17.42" height="1.051" fill="#4863ac"/>
<rect x="107.10" y="203.22" width="17.42" height="1.051" fill="#435faa"/>
<rect x="107.10" y="204.22" width="17.42" height="2.052" fill="#4964ad"/>
<rect x="107.10" y="206.23" width="17.42" height="2.052" fill="#3755a4"/>
<rect x="107.10" y="208.23" width="17.42" height="6.057" fill="#4b66ae"/>
<rect x="107.10" y="214.24" width="17.42" height="2.052" fill="#4e69af"/>
<rect x="107.10" y="216.24" width="17.42" height="3.054" fill="#415da9"/>
<rect x="107.10" y="219.24" width="17.42" height="2.052" fill="#3f5ba8"/>
<rect x="107.10" y="221.24" width="17.42" height="2.052" fill="#4e68af"/>
<rect x="107.10" y="223.25" width="17.42" height="1.051" fill="#4460aa"/>
<rect x="107.10" y="224.25" width="17.42" height="1.051" fill="#4a65ad"/>
<rect x="107.10" y="225.25" width="17.42" height="1.051" fill="#536cb1"/>
<rect x="107.10" y="226.25" width="17.42" height="1.051" fill="#4964ad"/>
<rect x="107.10" y="227.25" width="17.42" height="1.051" fill="#4460aa"/>
<rect x="107.10" y="228.25" width="17.42" height="3.054" fill="#425ea9"/>
<rect x="107.10" y="231.26" width="17.42" height="3.054" fill="#4b66ae"/>
<rect x="107.10" y="234.26" width="17.42" height="2.052" fill="#526cb1"/>
<rect x="107.10" y="236.26" width="17.42" height="3.054" fill="#3b58a6"/>
<rect x="107.10" y="239.27" width="17.42" height="2.052" fill="#5e76b6"/>
<rect x="107.10" y="241.27" width="17.42" height="1.051" fill="#4c66ae"/>
<rect x="107.10" y="242.27" width="17.42" height="2.052" fill="#4e68af"/>
<rect x="107.10" y="244.27" width="17.42" height="1.051" fill="#4f69af"/>
<rect x="107.10" y="245.27" width="17.42" height="1.051" fill="#566fb2"/>
<rect x="107.10" y="246.27" width="17.42" height="8.059" fill="#425ea9"/>
<rect x="107.10" y="254.28" width="17.42" height="2.052" fill="#4762ac"/>
<rect x="107.10" y="256.29" width="17.42" height="3.054" fill="#415da9"/>
<rect x="107.10" y="259.29" width="17.42" height="2.052" fill="#4b65ad"/>
<rect x="107.10" y="261.29" width="17.42" height="2.052" fill="#4e69af"/>
<rect x="107.10" y="263.29" width="17.42" height="3.054" fill="#415da9"/>
<rect x="107.10" y="266.30" width="17.42" height="2.052" fill="#4b66ad"/>
<rect x="124.47" y="15.00" width="17.42" height="4.055" fill="#d35551"/>
<rect x="124.47" y="19.00" width="17.42" height="1.051" fill="#de7f7d"/>
<rect x="124.47" y="20.01" width="17.42" height="3.054" fill="#dd7d7a"/>
<rect x="124.47" y="23.01" width="17.42" height="2.052" fill="#f4d4d3"/>
<rect x="124.47" y="25.01" width="17.42" height="5.056" fill="#f2cdcc"/>
<rect x="124.47" y="30.02" width="17.42" height="1.051" fill="#ecb4b2"/>
<rect x="124.47" y="31.02" width="17.42" height="1.051" fill="#f6dcdb"/>
<rect x="124.47" y="32.02" width="17.42" height="1.051" fill="#da6f6c"/>
<rect x="124.47" y="33.02" width="17.42" height="2.052" fill="#d96c69"/>
<rect x="124.47" y="35.02" width="17.42" height="1.051" fill="#d2514e"/>
<rect x="124.47" y="36.02" width="17.42" height="2.052" fill="#d96a67"/>
<rect x="124.47" y="38.03" width="17.42" height="2.052" fill="#d04946"/>
<rect x="124.47" y="40.03" width="17.42" height="5.056" fill="#ebb1b0"/>
<rect x="124.47" y="45.04" width="17.42" height="1.051" fill="#e49593"/>
<rect x="124.47" y="46.04" width="17.42" height="1.051" fill="#e7a3a1"/>
<rect x="124.47" y="47.04" width="17.42" height="2.052" fill="#f8e3e3"/>
<rect x="124.47" y="49.04" width="17.42" height="3.054" fill="#e8a7a5"/>
<rect x="124.47" y="52.04" width="17.42" height="1.051" fill="#d86764"/>
<rect x="124.47" y="53.05" width="17.42" height="1.051" fill="#e49694"/>
<rect x="124.47" y="54.05" width="17.42" height="8.059" fill="#e3918f"/>
<rect x="124.47" y="62.06" width="17.42" height="4.055" fill="#fbeeee"/>
<rect x="124.47" y="66.06" width="17.42" height="3.054" fill="#ffffff"/>
<rect x="124.47" y="69.06" width="17.42" height="3.054" fill="#ecb5b4"/>
<rect x="124.47" y="72.07" width="17.42" height="3.054" fill="#f8e4e3"/>
<rect x="124.47" y="75.07" width="17.42" height="1.051" fill="#e59b9a"/>
<rect x="124.47" y="76.07" width="17.42" height="1.051" fill="#ecb6b5"/>
<rect x="124.47" y="77.07" width="17.42" height="1.051" fill="#e08684"/>
<rect x="124.47" y="78.07" width="17.42" height="1.051" fill="#f7dfde"/>
<rect x="124.47" y="79.08" width="17.42" height="2.052" fill="#faebeb"/>
<rect x="124.47" y="81.08" width="17.42" height="3.054" fill="#dc7977"/>
<rect x="124.47" y="84.08" width="17.42" height="1.051" fill="#dd7d7b"/>
<rect x="124.47" y="85.08" width="17.42" height="4.055" fill="#f8e4e3"/>
<rect x="124.47" y="89.09" width="17.42" height="1.051" fill="#e6a09e"/>
<rect x="124.47" y="90.09" width="17.42" height="1.051" fill="#f2cece"/>
<rect x="124.47" y="91.09" width="17.42" height="1.051" fill="#f4d3d2"/>
<rect x="124.47" y="92.09" width="17.42" height="1.051" fill="#e08886"/>
<rect x="124.47" y="93.09" width="17.42" height="2.052" fill="#eebdbc"/>
<rect x="124.47" y="95.09" width="17.42" height="1.051" fill="#d55d5a"/>
<rect x="124.47" y="96.10" width="17.42" height="2.052" fill="#dc7875"/>
<rect x="124.47" y="98.10" width="17.42" height="1.051" fill="#d96c6a"/>
<rect x="124.47" y="99.10" width="17.42" height="1.051" fill="#de817f"/>
<rect x="124.47" y="100.10" width="17.42" height="4.055" fill="#e9acaa"/>
<rect x="124.47" y="104.11" width="17.42" height="3.054" fill="#eebcbb"/>
<rect x="124.47" y="107.11" width="17.42" height="3.054" fill="#eebebc"/>
<rect x="124.47" y="110.11" width="17.42" height="2.052" fill="#d6605d"/>
<rect x="124.47" y="112.12" width="17.42" height="1.051" fill="#e2908e"/>
<rect x="124.47" y="113.12" width="17.42" height="2.052" fill="#e49795"/>
<rect x="124.47" y="115.12" width="17.42" height="1.051" fill="#df8280"/>
<rect x="124.47" y="116.12" width="17.42" height="1.051" fill="#e49593"/>
<rect x="124.47" y="117.12" width="17.42" height="2.052" fill="#e7a2a0"/>
<rect x="124.47" y="119.12" width="17.42" height="2.052" fill="#e3918f"/>
<rect x="124.47" y="121.13" width="17.42" height="1.051" fill="#e69f9d"/>
<rect x="124.47" y="122.13" width="17.42" height="1.051" fill="#e8a8a6"/>
<rect x="124.47" y="123.13" width="17.42" height="2.052" fill="#d96c69"/>
<rect x="124.47" y="125.13" width="17.42" height="1.051" fill="#4e69af"/>
<rect x="124.47" y="126.13" width="17.42" height="1.051" fill="#3755a5"/>
<rect x="124.47" y="127.13" width="17.42" height="2.052" fill="#5670b3"/>
<rect x="124.47" y="129.14" width="17.42" height="5.056" fill="#4863ac"/>
<rect x="124.47" y="134.14" width="17.42" height="1.051" fill="#3b58a6"/>
<rect x="124.47" y="135.14" width="17.42" height="5.056" fill="#516bb0"/>
<rect x="124.47" y="140.15" width="17.42" height="1.051" fill="#a1afd4"/>
<rect x="124.47" y="141.15" width="17.42" height="4.055" fill="#8799c9"/>
<rect x="124.47" y="145.15" width="17.42" height="3.054" fill="#516bb0"/>
<rect x="124.47" y="148.16" width="17.42" height="5.056" fill="#3d5aa7"/>
<rect x="124.47" y="153.16" width="17.42" height="2.052" fill="#536db1"/>
<rect x="124.47" y="155.17" width="17.42" height="3.054" fill="#4f6aaf"/>
<rect x="124.47" y="158.17" width="17.42" height="2.052" fill="#415da9"/>
<rect x="124.47" y="160.17" width="17.42" height="1.051" fill="#435faa"/>
<rect x="124.47" y="161.17" width="17.42" height="2.052" fill="#4a65ad"/>
<rect x="124.47" y="163.18" width="17.42" height="3.054" fill="#3c59a7"/>
<rect x="124.47" y="166.18" width="17.42" height="2.052" fill="#3b58a6"/>
<rect x="124.47" y="168.18" width="17.42" height="3.054" fill="#97a6d0"/>
<rect x="124.47" y="171.18" width="17.42" height="1.051" fill="#b4bfdd"/>
<rect x="124.47" y="172.19" width="17.42" height="1.051" fill="#5e76b6"/>
<rect x="124.47" y="173.19" width="17.42" height="2.052" fill="#6c82bc"/>
<rect x="124.47" y="175.19" width="17.42" height="1.051" fill="#4863ac"/>
<rect x="124.47" y="176.19" width="17.42" height="2.052" fill="#516bb0"/>
<rect x="124.47" y="178.19" width="17.42" height="2.052" fill="#667dba"/>
<rect x="124.47" y="180.20" width="17.42" height="2.052" fill="#6279b8"/>
<rect x="124.47" y="182.20" width="17.42" height="1.051" fill="#4e69af"/>
<rect x="124.47" y="183.20" width="17.42" height="5.056" fill="#526cb1"/>
<rect x="124.47" y="188.21" width="17.42" height="2.052" fill="#566fb2"/>
<rect x="124.47" y="190.21" width="17.42" height="3.054" fill="#8d9ecb"/>
<rect x="124.47" y="193.21" width="17.42" height="1.051" fill="#637ab8"/>
<rect x="124.47" y="194.21" width="17.42" height="1.051" fill="#8d9ecb"/>
<rect x="124.47" y="195.21" width="17.42" height="1.051" fill="#9baad2"/>
<rect x="124.47" y="196.21" width="17.42" height="4.055" fill="#4661ab"/>
<rect x="124.47" y="200.22" width="17.42" height="2.052" fill="#6e84bd"/>
<rect x="124.47" y="202.22" width="17.42" height="1.051" fill="#c5cee5"/>
<rect x="124.47" y="203.22" width="17.42" height="2.052" fill="#c2cbe3"/>
<rect x="124.47" y="205.23" width="17.42" height="3.054" fill="#798dc3"/>
<rect x="124.47" y="208.23" width="17.42" height="3.054" fill="#506ab0"/>
<rect x="124.47" y="211.23" width="17.42" height="1.051" fill="#5e76b6"/>
<rect x="124.47" y="212.23" width="17.42" height="4.055" fill="#5a72b4"/>
<rect x="124.47" y="216.24" width="17.42" height="5.056" fill="#6b81bc"/>
<rect x="124.47" y="221.24" width="17.42" height="3.054" fill="#6d83bd"/>
<rect x="124.47" y="224.25" width="17.42" height="3.054" fill="#7287bf"/>
<rect x="124.47" y="227.25" width="17.42" height="1.051" fill="#546db2"/>
<rect x="124.47" y="228.25" width="17.42" height="2.052" fill="#677dba"/>
<rect x="124.47" y="230.25" width="17.42" height="2.052" fill="#5b73b5"/>
<rect x="124.47" y="232.26" width="17.42" height="2.052" fill="#647bb9"/>
<rect x="124.47" y="234.26" width="17.42" height="1.051" fill="#8395c7"/>
<rect x="124.47" y="235.26" width="17.42" height="4.055" fill="#637bb9"/>
<rect x="124.47" y="239.27" width="17.42" height="5.056" fill="#526cb1"/>
<rect x="124.47" y="244.27" width="17.42" height="4.055" fill="#5d75b6"/>
<rect x="124.47" y="248.28" width="17.42" height="3.054" fill="#5b74b5"/>
<rect x="124.47" y="251.28" width="17.42" height="2.052" fill="#6078b7"/>
<rect x="124.47" y="253.28" width="17.42" height="1.051" fill="#516bb0"/>
<rect x="124.47" y="254.28" width="17.42" height="2.052" fill="#6077b7"/>
<rect x="124.47" y="256.29" width="17.42" height="1.051" fill="#657cb9"/>
<rect x="124.47" y="257.29" width="17.42" height="2.052" fill="#6c82bd"/>
<rect x="124.47" y="259.29" width="17.42" height="3.054" fill="#6078b7"/>
<rect x="124.47" y="262.29" width="17.42" height="2.052" fill="#5972b4"/>
<rect x="124.47" y="264.30" width="17.42" height="1.051" fill="#5a72b4"/>
<rect x="124.47" y="265.30" width="17.42" height="3.054" fill="#667dba"/>
<rect x="141.83" y="15.00" width="17.42" height="1.051" fill="#ce3f3c"/>
<rect x="141.83" y="16.00" width="17.42" height="1.051" fill="#d04946"/>
<rect x="141.83" y="17.00" width="17.42" height="2.052" fill="#c82a26"/>
<rect x="141.83" y="19.00" width="17.42" height="2.052" fill="#cd3c38"/>
<rect x="141.83" y="21.01" width="17.42" height="1.051" fill="#ce403c"/>
<rect x="141.83" y="22.01" width="17.42" height="2.052" fill="#c82a26"/>
<rect x="141.83" y="24.01" width="17.42" height="1.051" fill="#cd3f3b"/>
<rect x="141.83" y="25.01" width="17.42" height="2.052" fill="#cb3430"/>
<rect x="141.83" y="27.01" width="17.42" height="1.051" fill="#cf4643"/>
<rect x="141.83" y="28.02" width="17.42" height="1.051" fill="#cc3b38"/>
<rect x="141.83" y="29.02" width="17.42" height="1.051" fill="#d55d5a"/>
<rect x="141.83" y="30.02" width="17.42" height="2.052" fill="#c82a26"/>
<rect x="141.83" y="32.02" width="17.42" height="1.051" fill="#ca322e"/>
<rect x="141.83" y="33.02" width="17.42" height="3.054" fill="#d35653"/>
<rect x="141.83" y="36.02" width="17.42" height="1.051" fill="#d35350"/>
<rect x="141.83" y="37.03" width="17.42" height="2.052" fill="#ce413e"/>
<rect x="141.83" y="39.03" width="17.42" height="1.051" fill="#d35350"/>
<rect x="141.83" y="40.03" width="17.42" height="1.051" fill="#ca332f"/>
<rect x="141.83" y="41.03" width="17.42" height="2.052" fill="#c82a26"/>
<rect x="141.83" y="43.03" width="17.42" height="4.055" fill="#cc3835"/>
<rect x="141.83" y="47.04" width="17.42" height="2.052" fill="#c82a26"/>
<rect x="141.83" y="49.04" width="17.42" height="1.051" fill="#ca322e"/>
<rect x="141.83" y="50.04" width="17.42" height="2.052" fill="#c82a26"/>
<rect x="141.83" y="52.04" width="17.42" height="4.055" fill="#c92e2a"/>
<rect x="141.83" y="56.05" width="17.42" height="9.061" fill="#c82a26"/>
<rect x="141.83" y="65.06" width="17.42" height="2.052" fill="#c92d29"/>
<rect x="141.83" y="67.06" width="17.42" height="5.056" fill="#c82a26"/>
<rect x="141.83" y="72.07" width="17.42" height="3.054" fill="#ca332f"/>
<rect x="141.83" y="75.07" width="17.42" height="3.054" fill="#ca312d"/>
<rect x="141.83" y="78.07" width="17.42" height="3.054" fill="#c82a26"/>
<rect x="141.83" y="81.08" width="17.42" height="3.054" fill="#c92e2a"/>
<rect x="141.83" y="84.08" width="17.42" height="4.055" fill="#c82a26"/>
<rect x="141.83" y="88.09" width="17.42" height="1.051" fill="#cd3c38"/>
<rect x="141.83" y="89.09" width="17.42" height="1.051" fill="#c82a26"/>
<rect x="141.83" y="90.09" width="17.42" height="3.054" fill="#ca332f"/>
<rect x="141.83" y="93.09" width="17.42" height="5.056" fill="#c82a26"/>
<rect x="141.83" y="98.10" width="17.42" height="1.051" fill="#f1c9c8"/>
<rect x="141.83" y="99.10" width="17.42" height="1.051" fill="#c82a26"/>
<rect x="141.83" y="100.10" width="17.42" height="2.052" fill="#ce3f3c"/>
<rect x="141.83" y="102.10" width="17.42" height="1.051" fill="#c92c28"/>
<rect x="141.83" y="103.10" width="17.42" height="2.052" fill="#c92f2c"/>
<rect x="141.83" y="105.11" width="17.42" height="1.051" fill="#ca302c"/>
<rect x="141.83" y="106.11" width="17.42" height="1.051" fill="#c82c28"/>
<rect x="141.83" y="107.11" width="17.42" height="8.059" fill="#c82a26"/>
<rect x="141.83" y="115.12" width="17.42" height="2.052" fill="#c92e2a"/>
<rect x="141.83" y="117.12" width="17.42" height="4.055" fill="#c92f2b"/>
<rect x="141.83" y="121.13" width="17.42" height="2.052" fill="#ca332f"/>
<rect x="141.83" y="123.13" width="17.42" height="1.051" fill="#c82b27"/>
<rect x="141.83" y="124.13" width="17.42" height="1.051" fill="#c92d29"/>
<rect x="141.83" y="125.13" width="17.42" height="3.054" fill="#7c90c4"/>
<rect x="141.83" y="128.13" width="17.42" height="3.054" fill="#798dc2"/>
<rect x="141.83" y="131.14" width="17.42" height="2.052" fill="#93a3ce"/>
<rect x="141.83" y="133.14" width="17.42" height="1.051" fill="#8093c6"/>
<rect x="141.83" y="134.14" width="17.42" height="1.051" fill="#9fadd4"/>
<rect x="141.83" y="135.14" width="17.42" height="5.056" fill="#c7d0e6"/>
<rect x="141.83" y="140.15" width="17.42" height="4.055" fill="#a5b3d6"/>
<rect x="141.83" y="144.15" width="17.42" height="1.051" fill="#8a9bca"/>
<rect x="141.83" y="145.15" width="17.42" height="1.051" fill="#7a8dc3"/>
<rect x="141.83" y="146.16" width="17.42" height="2.052" fill="#9baad2"/>
<rect x="141.83" y="148.16" width="17.42" height="1.051" fill="#4965ad"/>
<rect x="141.83" y="149.16" width="17.42" height="3.054" fill="#a9b6d8"/>
<rect x="141.83" y="152.16" width="17.42" height="2.052" fill="#fdf6f6"/>
<rect x="141.83" y="154.16" width="17.42" height="1.051" fill="#e9ecf5"/>
<rect x="141.83" y="155.17" width="17.42" height="1.051" fill="#fef9f9"/>
<rect x="141.83" y="156.17" width="17.42" height="1.051" fill="#d0d7ea"/>
<rect x="141.83" y="157.17" width="17.42" height="1.051" fill="#b7c2de"/>
<rect x="141.83" y="158.17" width="17.42" height="1.051" fill="#ffffff"/>
<rect x="141.83" y="159.17" width="17.42" height="1.051" fill="#f6dbda"/>
<rect x="141.83" y="160.17" width="17.42" height="1.051" fill="#b5c0dd"/>
<rect x="141.83" y="161.17" width="17.42" height="9.061" fill="#a4b2d6"/>
<rect x="141.83" y="170.18" width="17.42" height="3.054" fill="#e0e5f1"/>
<rect x="141.83" y="173.19" width="17.42" height="2.052" fill="#f4d4d3"/>
<rect x="141.83" y="175.19" width="17.42" height="4.055" fill="#fefafa"/>
<rect x="141.83" y="179.19" width="17.42" height="1.051" fill="#d2d9eb"/>
<rect x="141.83" y="180.20" width="17.42" height="2.052" fill="#bec7e1"/>
<rect x="141.83" y="182.20" width="17.42" height="1.051" fill="#8194c6"/>
<rect x="141.83" y="183.20" width="17.42" height="2.052" fill="#8a9cca"/>
<rect x="141.83" y="185.20" width="17.42" height="1.051" fill="#bac4e0"/>
<rect x="141.83" y="186.20" width="17.42" height="1.051" fill="#8fa0cc"/>
<rect x="141.83" y="187.20" width="17.42" height="4.055" fill="#a3b1d5"/>
<rect x="141.83" y="191.21" width="17.42" height="1.051" fill="#bac5e0"/>
<rect x="141.83" y="192.21" width="17.42" height="3.054" fill="#c9d1e7"/>
<rect x="141.83" y="195.21" width="17.42" height="4.055" fill="#c1cae3"/>
<rect x="141.83" y="199.22" width="17.42" height="1.051" fill="#98a7d0"/>
<rect x="141.83" y="200.22" width="17.42" height="1.051" fill="#abb7d9"/>
<rect x="141.83" y="201.22" width="17.42" height="9.061" fill="#a4b1d6"/>
<rect x="141.83" y="210.23" width="17.42" height="1.051" fill="#b8c3df"/>
<rect x="141.83" y="211.23" width="17.42" height="1.051" fill="#9eacd3"/>
<rect x="141.83" y="212.23" width="17.42" height="4.055" fill="#dee3f0"/>
<rect x="141.83" y="216.24" width="17.42" height="6.057" fill="#a2b0d5"/>
<rect x="141.83" y="222.25" width="17.42" height="3.054" fill="#d3daeb"/>
<rect x="141.83" y="225.25" width="17.42" height="1.051" fill="#7d90c4"/>
<rect x="141.83" y="226.25" width="17.42" height="1.051" fill="#afbbdb"/>
<rect x="141.83" y="227.25" width="17.42" height="2.052" fill="#fafbfd"/>
<rect x="141.83" y="229.25" width="17.42" height="6.057" fill="#b2bedc"/>
<rect x="141.83" y="235.26" width="17.42" height="3.054" fill="#cad2e7"/>
<rect x="141.83" y="238.26" width="17.42" height="1.051" fill="#d2d9eb"/>
<rect x="141.83" y="239.27" width="17.42" height="1.051" fill="#9baad2"/>
<rect x="141.83" y="240.27" width="17.42" height="3.054" fill="#dde2f0"/>
<rect x="141.83" y="243.27" width="17.42" height="1.051" fill="#ccd4e8"/>
<rect x="141.83" y="244.27" width="17.42" height="1.051" fill="#f6dddd"/>
<rect x="141.83" y="245.27" width="17.42" height="1.051" fill="#ced6e9"/>
<rect x="141.83" y="246.27" width="17.42" height="3.054" fill="#99a8d1"/>
<rect x="141.83" y="249.28" width="17.42" height="3.054" fill="#eceff7"/>
<rect x="141.83" y="252.28" width="17.42" height="3.054" fill="#95a5cf"/>
<rect x="141.83" y="255.28" width="17.42" height="1.051" fill="#798dc2"/>
<rect x="141.83" y="256.29" width="17.42" height="1.051" fill="#bac5e0"/>
<rect x="141.83" y="257.29" width="17.42" height="1.051" fill="#cbd2e7"/>
<rect x="141.83" y="258.29" width="17.42" height="2.052" fill="#aebadb"/>
<rect x="141.83" y="260.29" width="17.42" height="2.052" fill="#697fbb"/>
<rect x="141.83" y="262.29" width="17.42" height="1.051" fill="#7287bf"/>
<rect x="141.83" y="263.29" width="17.42" height="2.052" fill="#6078b7"/>
<rect x="141.83" y="265.30" width="17.42" height="1.051" fill="#4e69af"/>
<rect x="141.83" y="266.30" width="17.42" height="2.052" fill="#c1cae3"/>
<rect x="42.50" y="15.00" width="12.50" height="253.30" fill="#828282"/>
<path d="M55.0 15.50H43.8V16.50H55.0M55.0 17.50H42.6V18.50H55.0M43.8 16.00H40.1V18.00H42.6M55.0 19.51H39.7V20.51H55.0M39.7 20.01H39.1V21.51H55.0M40.1 17.00H36.0V20.76H39.1M55.0 22.51H41.3V23.51H55.0M41.3 23.01H38.7V24.51H55.0M55.0 26.51H43.7V27.51H55.0M43.7 27.01H38.1V28.52H55.0M38.1 27.77H37.5V29.52H55.0M55.0 25.51H36.9V28.64H37.5M55.0 30.52H39.3V31.52H55.0M39.3 31.02H38.7V32.52H55.0M36.9 27.08H34.7V31.77H38.7M38.7 23.76H34.1V29.42H34.7M36.0 18.88H31.0V26.59H34.1M55.0 33.52H42.8V34.52H55.0M55.0 35.52H41.4V36.53H55.0M55.0 37.53H42.1V38.53H55.0M41.4 36.02H38.4V38.03H42.1M55.0 39.53H39.3V40.53H55.0M39.3 40.03H38.1V41.53H55.0M55.0 42.53H40.5V43.53H55.0M38.1 40.78H37.5V43.03H40.5M38.4 37.03H34.0V41.91H37.5M34.0 39.47H33.0V44.53H55.0M42.8 34.02H32.4V42.00H33.0M55.0 45.54H42.8V46.54H55.0M42.8 46.04H38.2V47.54H55.0M32.4 38.01H31.8V46.79H38.2M31.0 22.74H30.4V42.40H31.8M55.0 48.54H41.8V49.54H55.0M55.0 50.54H40.1V51.54H55.0M55.0 53.55H40.3V54.55H55.0M40.3 54.05H39.7V55.55H55.0M55.0 52.54H36.9V54.80H39.7M36.9 53.67H35.6V56.55H55.0M40.1 51.04H35.0V55.11H35.6M41.8 49.04H33.3V53.08H35.0M33.3 51.06H32.7V57.55H55.0M55.0 59.55H43.7V60.55H55.0M55.0 58.55H41.4V60.05H43.7M32.7 54.30H32.1V59.30H41.4M55.0 62.56H39.4V63.56H55.0M55.0 64.56H41.3V65.56H55.0M55.0 66.56H40.9V67.56H55.0M41.3 65.06H38.5V67.06H40.9M39.4 63.06H36.7V66.06H38.5M55.0 68.56H41.4V69.56H55.0M36.7 64.56H36.1V69.06H41.4M55.0 61.56H34.7V66.81H36.1M55.0 70.57H41.2V71.57H55.0M41.2 71.07H40.6V72.57H55.0M55.0 73.57H43.8V74.57H55.0M55.0 75.57H43.6V76.57H55.0M43.6 76.07H39.2V77.57H55.0M43.8 74.07H38.1V76.82H39.2M40.6 71.82H35.3V75.45H38.1M55.0 79.58H40.5V80.58H55.0M55.0 78.58H37.6V80.08H40.5M55.0 81.58H41.6V82.58H55.0M37.6 79.33H37.0V82.08H41.6M55.0 84.58H42.3V85.58H55.0M55.0 83.58H40.5V85.08H42.3M37.0 80.70H35.7V84.33H40.5M55.0 86.58H43.8V87.59H55.0M55.0 88.59H40.2V89.59H55.0M43.8 87.09H39.6V89.09H40.2M55.0 90.59H42.7V91.59H55.0M55.0 92.59H40.4V93.59H55.0M55.0 96.60H39.7V97.60H55.0M55.0 95.60H39.1V97.10H39.7M55.0 94.59H37.0V96.35H39.1M40.4 93.09H36.4V95.47H37.0M42.7 91.09H35.8V94.28H36.4M39.6 88.09H33.9V92.69H35.8M35.7 82.52H30.8V90.39H33.9M35.3 73.63H30.2V86.45H30.8M34.7 64.18H29.6V80.04H30.2M55.0 99.60H39.7V100.60H55.0M55.0 98.60H39.1V100.10H39.7M55.0 102.60H40.7V103.60H55.0M55.0 101.60H38.3V103.10H40.7M39.1 99.35H37.7V102.35H38.3M55.0 104.61H42.5V105.61H55.0M55.0 107.61H41.8V108.61H55.0M55.0 106.61H40.3V108.11H41.8M42.5 105.11H35.9V107.36H40.3M55.0 110.61H39.0V111.61H55.0M39.0 111.11H38.4V112.62H55.0M55.0 109.61H36.5V111.86H38.4M55.0 113.62H40.6V114.62H55.0M40.6 114.12H39.8V115.62H55.0M55.0 116.62H42.8V117.62H55.0M55.0 119.62H39.8V120.63H55.0M55.0 121.63H39.4V122.63H55.0M39.8 120.12H37.8V122.13H39.4M55.0 118.62H35.8V121.13H37.8M42.8 117.12H34.7V119.87H35.8M39.8 114.87H33.4V118.50H34.7M55.0 123.63H43.8V124.63H55.0M33.4 116.68H32.8V124.13H43.8M36.5 110.74H32.2V120.41H32.8M35.9 106.23H31.6V115.57H32.2M37.7 100.85H30.8V110.90H31.6M29.6 72.11H28.2V105.88H30.8M32.1 56.80H27.6V88.99H28.2M30.4 32.57H24.1V72.90H27.6M55.0 126.63H41.2V127.63H55.0M55.0 125.63H38.3V127.13H41.2M38.3 126.38H37.7V128.63H55.0M55.0 129.64H39.8V130.64H55.0M39.8 130.14H39.2V131.64H55.0M39.2 130.89H38.2V132.64H55.0M37.7 127.51H34.4V131.76H38.2M55.0 133.64H42.5V134.64H55.0M34.4 129.64H33.8V134.14H42.5M55.0 135.64H43.9V136.64H55.0M55.0 138.65H43.3V139.65H55.0M55.0 137.65H42.0V139.15H43.3M43.9 136.14H35.6V138.40H42.0M55.0 141.65H42.3V142.65H55.0M55.0 143.65H40.7V144.65H55.0M42.3 142.15H38.4V144.15H40.7M55.0 140.65H37.8V143.15H38.4M37.8 141.90H37.2V145.65H55.0M35.6 137.27H35.0V143.78H37.2M55.0 146.66H40.3V147.66H55.0M55.0 150.66H40.9V151.66H55.0M55.0 149.66H38.5V151.16H40.9M55.0 148.66H37.9V150.41H38.5M55.0 152.66H42.0V153.66H55.0M55.0 154.67H40.4V155.67H55.0M42.0 153.16H39.2V155.17H40.4M39.2 154.16H37.0V156.67H55.0M37.9 149.53H36.0V155.42H37.0M40.3 147.16H35.4V152.48H36.0M35.0 140.52H32.2V149.82H35.4M33.8 131.89H30.1V145.17H32.2M55.0 157.67H39.2V158.67H55.0M55.0 159.67H39.4V160.67H55.0M39.2 158.17H37.3V160.17H39.4M55.0 161.67H43.3V162.67H55.0M55.0 163.68H39.5V164.68H55.0M39.5 164.18H38.4V165.68H55.0M43.3 162.17H37.1V164.93H38.4M37.3 159.17H34.6V163.55H37.1M55.0 167.68H40.0V168.68H55.0M55.0 166.68H39.4V168.18H40.0M55.0 169.68H43.4V170.68H55.0M39.4 167.43H36.1V170.18H43.4M55.0 173.69H40.5V174.69H55.0M55.0 172.69H38.2V174.19H40.5M38.2 173.44H36.5V175.69H55.0M55.0 171.69H35.9V174.56H36.5M55.0 177.69H40.2V178.69H55.0M40.2 178.19H37.7V179.70H55.0M55.0 181.70H41.1V182.70H55.0M55.0 180.70H38.2V182.20H41.1M37.7 178.94H37.1V181.45H38.2M55.0 184.70H40.8V185.70H55.0M55.0 183.70H38.6V185.20H40.8M37.1 180.20H36.3V184.45H38.6M55.0 176.69H35.7V182.32H36.3M55.0 186.70H41.8V187.70H55.0M55.0 188.71H41.4V189.71H55.0M41.8 187.20H36.4V189.21H41.4M35.7 179.51H34.5V188.21H36.4M35.9 173.12H31.7V183.86H34.5M36.1 168.81H31.1V178.49H31.7M55.0 191.71H39.4V192.71H55.0M55.0 190.71H38.8V192.21H39.4M55.0 193.71H40.2V194.71H55.0M38.8 191.46H35.9V194.21H40.2M55.0 195.71H40.3V196.72H55.0M40.3 196.21H39.7V197.72H55.0M35.9 192.84H35.3V196.97H39.7M55.0 199.72H42.7V200.72H55.0M42.7 200.22H38.9V201.72H55.0M55.0 198.72H36.5V200.97H38.9M35.3 194.90H34.7V199.84H36.5M55.0 202.72H41.0V203.72H55.0M55.0 205.73H43.8V206.73H55.0M55.0 204.72H40.0V206.23H43.8M41.0 203.22H38.5V205.48H40.0M55.0 207.73H42.1V208.73H55.0M38.5 204.35H37.6V208.23H42.1M34.7 197.37H31.6V206.29H37.6M31.1 173.65H30.5V201.83H31.6M34.6 161.36H26.7V187.74H30.5M30.1 138.53H26.1V174.55H26.7M55.0 209.73H39.6V210.73H55.0M55.0 212.73H39.1V213.74H55.0M55.0 211.73H38.5V213.23H39.1M39.6 210.23H37.9V212.48H38.5M55.0 215.74H39.1V216.74H55.0M39.1 216.24H38.1V217.74H55.0M55.0 214.74H37.5V216.99H38.1M37.9 211.36H36.9V215.86H37.5M55.0 219.74H40.4V220.74H55.0M55.0 218.74H38.1V220.24H40.4M36.9 213.61H32.7V219.49H38.1M55.0 222.75H41.8V223.75H55.0M41.8 223.25H38.7V224.75H55.0M55.0 221.74H38.1V224.00H38.7M32.7 216.55H32.1V222.87H38.1M55.0 225.75H40.5V226.75H55.0M55.0 228.75H41.7V229.75H55.0M55.0 227.75H39.9V229.25H41.7M40.5 226.25H39.3V228.50H39.9M55.0 230.76H43.3V231.76H55.0M55.0 232.76H40.6V233.76H55.0M43.3 231.26H40.0V233.26H40.6M40.0 232.26H36.0V234.76H55.0M55.0 236.76H42.0V237.76H55.0M55.0 235.76H38.5V237.26H42.0M38.5 236.51H37.5V238.77H55.0M36.0 233.51H35.4V237.64H37.5M39.3 227.38H33.2V235.57H35.4M55.0 239.77H42.6V240.77H55.0M55.0 241.77H39.1V242.77H55.0M42.6 240.27H37.9V242.27H39.1M33.2 231.48H32.6V241.27H37.9M32.1 219.71H31.5V236.37H32.6M55.0 243.77H43.0V244.77H55.0M43.0 244.27H39.2V245.77H55.0M55.0 246.77H43.0V247.78H55.0M39.2 245.02H36.0V247.28H43.0M55.0 249.78H42.2V250.78H55.0M42.2 250.28H38.8V251.78H55.0M55.0 248.78H38.2V251.03H38.8M55.0 252.78H41.6V253.78H55.0M41.6 253.28H40.8V254.78H55.0M38.2 249.90H37.6V254.03H40.8M36.0 246.15H35.4V251.97H37.6M55.0 255.79H42.6V256.79H55.0M42.6 256.29H40.5V257.79H55.0M55.0 258.79H41.4V259.79H55.0M41.4 259.29H40.8V260.79H55.0M40.5 257.04H35.9V260.04H40.8M55.0 262.79H41.9V263.79H55.0M55.0 261.79H39.7V263.29H41.9M35.9 258.54H34.4V262.54H39.7M55.0 264.80H43.3V265.80H55.0M55.0 266.80H43.4V267.80H55.0M43.3 265.30H40.7V267.30H43.4M34.4 260.54H33.0V266.30H40.7M35.4 249.06H30.8V263.42H33.0M31.5 228.04H30.2V256.24H30.8M26.1 156.54H25.5V242.14H30.2M24.1 52.73H20.3V199.34H25.5" stroke="#868686" stroke-width="1.0" fill="none"/>
<defs><linearGradient id="gA" x1="0" y1="0" x2="0" y2="1"><stop offset="0" stop-color="#c82a26"/><stop offset="0.5" stop-color="#fff"/><stop offset="1" stop-color="#3654a4"/></linearGradient></defs>
<rect x="171.00" y="15.00" width="11.00" height="91.50" fill="url(#gA)"/>
<line x1="182.20" y1="15.00" x2="182.20" y2="106.50" stroke="#222" stroke-width="0.9"/>
<line x1="182.20" y1="15.00" x2="184.30" y2="15.00" stroke="#222" stroke-width="0.9"/>
<text x="185.30" y="17.80" font-size="7.6" font-weight="normal" fill="#333">1.00</text>
<line x1="182.20" y1="33.30" x2="184.30" y2="33.30" stroke="#222" stroke-width="0.9"/>
<text x="185.30" y="36.10" font-size="7.6" font-weight="normal" fill="#333">0.80</text>
<line x1="182.20" y1="51.60" x2="184.30" y2="51.60" stroke="#222" stroke-width="0.9"/>
<text x="185.30" y="54.40" font-size="7.6" font-weight="normal" fill="#333">0.60</text>
<line x1="182.20" y1="69.90" x2="184.30" y2="69.90" stroke="#222" stroke-width="0.9"/>
<text x="185.30" y="72.70" font-size="7.6" font-weight="normal" fill="#333">0.40</text>
<line x1="182.20" y1="88.20" x2="184.30" y2="88.20" stroke="#222" stroke-width="0.9"/>
<text x="185.30" y="91.00" font-size="7.6" font-weight="normal" fill="#333">0.20</text>
<line x1="182.20" y1="106.50" x2="184.30" y2="106.50" stroke="#222" stroke-width="0.9"/>
<text x="185.30" y="109.30" font-size="7.6" font-weight="normal" fill="#333">0.00</text>
<text x="69.68" y="275.00" font-size="7.2" text-anchor="end" font-weight="normal" fill="#333" transform="rotate(-45 69.68 275.00)">SINC_1</text>
<text x="87.05" y="275.00" font-size="7.2" text-anchor="end" font-weight="normal" fill="#333" transform="rotate(-45 87.05 275.00)">SINC_2</text>
<text x="104.42" y="275.00" font-size="7.2" text-anchor="end" font-weight="normal" fill="#333" transform="rotate(-45 104.42 275.00)">SINC_3</text>
<text x="121.78" y="275.00" font-size="7.2" text-anchor="end" font-weight="normal" fill="#333" transform="rotate(-45 121.78 275.00)">SIMEX3A_1</text>
<text x="139.15" y="275.00" font-size="7.2" text-anchor="end" font-weight="normal" fill="#333" transform="rotate(-45 139.15 275.00)">SIMEX3A_2</text>
<text x="156.52" y="275.00" font-size="7.2" text-anchor="end" font-weight="normal" fill="#333" transform="rotate(-45 156.52 275.00)">SIMEX3A_3</text>
<text x="280.50" y="12.50" font-size="14.6">B</text>
<text x="497.60" y="14.50" font-size="10.1" text-anchor="middle">GO analysis</text>
<line x1="473.50" y1="27.60" x2="473.50" y2="280.00" stroke="#ececec" stroke-width="0.7"/>
<line x1="522.60" y1="27.60" x2="522.60" y2="280.00" stroke="#ececec" stroke-width="0.7"/>
<line x1="424.40" y1="256.00" x2="571.70" y2="256.00" stroke="#b8b8b8" stroke-width="0.7" stroke-dasharray="1 2"/>
<line x1="424.40" y1="232.00" x2="571.70" y2="232.00" stroke="#b8b8b8" stroke-width="0.7" stroke-dasharray="1 2"/>
<line x1="424.40" y1="208.00" x2="571.70" y2="208.00" stroke="#b8b8b8" stroke-width="0.7" stroke-dasharray="1 2"/>
<line x1="424.40" y1="184.00" x2="571.70" y2="184.00" stroke="#b8b8b8" stroke-width="0.7" stroke-dasharray="1 2"/>
<line x1="424.40" y1="160.00" x2="571.70" y2="160.00" stroke="#b8b8b8" stroke-width="0.7" stroke-dasharray="1 2"/>
<line x1="424.40" y1="136.00" x2="571.70" y2="136.00" stroke="#b8b8b8" stroke-width="0.7" stroke-dasharray="1 2"/>
<line x1="424.40" y1="112.00" x2="571.70" y2="112.00" stroke="#b8b8b8" stroke-width="0.7" stroke-dasharray="1 2"/>
<line x1="424.40" y1="88.00" x2="571.70" y2="88.00" stroke="#b8b8b8" stroke-width="0.7" stroke-dasharray="1 2"/>
<line x1="424.40" y1="64.00" x2="571.70" y2="64.00" stroke="#b8b8b8" stroke-width="0.7" stroke-dasharray="1 2"/>
<line x1="424.40" y1="40.00" x2="571.70" y2="40.00" stroke="#b8b8b8" stroke-width="0.7" stroke-dasharray="1 2"/>
<path d="M424.4 27.6H571.7V280.0" stroke="#777" stroke-width="0.9" fill="none"/>
<path d="M424.4 27.6V280.0H571.7" stroke="#333" stroke-width="1.0" fill="none"/>
<line x1="420.60" y1="280.00" x2="424.40" y2="280.00" stroke="#333" stroke-width="0.9"/>
<line x1="420.60" y1="256.00" x2="424.40" y2="256.00" stroke="#333" stroke-width="0.9"/>
<line x1="420.60" y1="232.00" x2="424.40" y2="232.00" stroke="#333" stroke-width="0.9"/>
<line x1="420.60" y1="208.00" x2="424.40" y2="208.00" stroke="#333" stroke-width="0.9"/>
<line x1="420.60" y1="184.00" x2="424.40" y2="184.00" stroke="#333" stroke-width="0.9"/>
<line x1="420.60" y1="160.00" x2="424.40" y2="160.00" stroke="#333" stroke-width="0.9"/>
<line x1="420.60" y1="136.00" x2="424.40" y2="136.00" stroke="#333" stroke-width="0.9"/>
<line x1="420.60" y1="112.00" x2="424.40" y2="112.00" stroke="#333" stroke-width="0.9"/>
<line x1="420.60" y1="88.00" x2="424.40" y2="88.00" stroke="#333" stroke-width="0.9"/>
<line x1="420.60" y1="64.00" x2="424.40" y2="64.00" stroke="#333" stroke-width="0.9"/>
<line x1="420.60" y1="40.00" x2="424.40" y2="40.00" stroke="#333" stroke-width="0.9"/>
<line x1="424.40" y1="280.00" x2="424.40" y2="283.50" stroke="#333" stroke-width="0.9"/>
<text x="424.40" y="289.00" font-size="8.3" text-anchor="middle">0</text>
<line x1="473.50" y1="280.00" x2="473.50" y2="283.50" stroke="#333" stroke-width="0.9"/>
<text x="473.50" y="289.00" font-size="8.3" text-anchor="middle">5</text>
<line x1="522.60" y1="280.00" x2="522.60" y2="283.50" stroke="#333" stroke-width="0.9"/>
<text x="522.60" y="289.00" font-size="8.3" text-anchor="middle">10</text>
<line x1="571.70" y1="280.00" x2="571.70" y2="283.50" stroke="#333" stroke-width="0.9"/>
<text x="571.70" y="289.00" font-size="8.3" text-anchor="middle">15</text>
<text x="418.30" y="282.80" font-size="7.6" text-anchor="end">0</text>
<text x="498.00" y="301.90" font-size="8.7" text-anchor="middle">Fold Enrichment</text>
<text x="418.60" y="42.80" font-size="8.1" text-anchor="end">transcription, DNA-templated</text>
<text x="339.79" y="62.20" font-size="8.1" text-anchor="middle">positive regulation of transcription from</text>
<text x="339.79" y="72.00" font-size="8.1" text-anchor="middle">RNA polymerase II promoter</text>
<text x="418.60" y="90.80" font-size="8.1" text-anchor="end">cell division</text>
<text x="348.68" y="110.20" font-size="8.1" text-anchor="middle">negative regulation of transcription</text>
<text x="348.68" y="120.00" font-size="8.1" text-anchor="middle">from RNA polymerase II promoter</text>
<text x="418.60" y="138.80" font-size="8.1" text-anchor="end">apoptotic process</text>
<text x="418.60" y="162.80" font-size="8.1" text-anchor="end">protein phosphorylation</text>
<text x="418.60" y="186.80" font-size="8.1" text-anchor="end">transcription from RNA polymerase II promoter</text>
<text x="418.60" y="210.80" font-size="8.1" text-anchor="end">negative regulation of apoptotic process</text>
<text x="418.60" y="234.80" font-size="8.1" text-anchor="end">negative regulation of transcription, DNA-templated</text>
<text x="418.60" y="258.80" font-size="8.1" text-anchor="end">cell proliferation</text>
<circle cx="540.57" cy="40.00" r="6.60" fill="#d8282a"/>
<circle cx="495.89" cy="64.00" r="5.00" fill="#1c8a3c"/>
<circle cx="474.58" cy="88.00" r="4.20" fill="#1c8a3c"/>
<circle cx="474.09" cy="112.00" r="4.20" fill="#e0f0df"/>
<circle cx="469.57" cy="136.00" r="4.00" fill="#1c8a3c"/>
<circle cx="464.96" cy="160.00" r="4.00" fill="#1c8a3c"/>
<circle cx="463.09" cy="184.00" r="3.80" fill="#5cae60"/>
<circle cx="462.60" cy="208.00" r="3.80" fill="#1c8a3c"/>
<circle cx="462.60" cy="232.00" r="3.80" fill="#5cae60"/>
<circle cx="460.73" cy="256.00" r="3.60" fill="#1c8a3c"/>
<text x="593.50" y="23.00" font-size="8.6" font-weight="normal">P Value</text>
<defs><linearGradient id="gP" x1="0" y1="0" x2="0" y2="1"><stop offset="0" stop-color="#d42a2e"/><stop offset="0.45" stop-color="#fff"/><stop offset="1" stop-color="#17853a"/></linearGradient></defs>
<rect x="593.50" y="29.40" width="5.50" height="60.00" fill="url(#gP)"/>
<line x1="593.50" y1="31.00" x2="599.00" y2="31.00" stroke="#333" stroke-width="0.8" stroke-dasharray="1.2 1"/>
<text x="606.60" y="34.10" font-size="8.8" font-weight="normal">0.03</text>
<line x1="593.50" y1="50.70" x2="599.00" y2="50.70" stroke="#333" stroke-width="0.8" stroke-dasharray="1.2 1"/>
<text x="606.60" y="53.80" font-size="8.8" font-weight="normal">0.02</text>
<line x1="593.50" y1="70.20" x2="599.00" y2="70.20" stroke="#333" stroke-width="0.8" stroke-dasharray="1.2 1"/>
<text x="606.60" y="73.30" font-size="8.8" font-weight="normal">0.01</text>
<text x="580.40" y="119.00" font-size="8.4" font-weight="normal">Count</text>
<circle cx="587.10" cy="130.20" r="3.70" fill="#000"/>
<text x="599.20" y="133.30" font-size="8.75" font-weight="normal">45.00</text>
<circle cx="587.10" cy="142.50" r="5.00" fill="#000"/>
<text x="599.20" y="145.60" font-size="8.75" font-weight="normal">80.22</text>
<circle cx="587.10" cy="156.60" r="6.70" fill="#000"/>
<text x="599.20" y="159.70" font-size="8.75" font-weight="normal">143.00</text>
<text x="2.60" y="325.80" font-size="14.5">C</text>
<text x="53.40" y="323.40" font-size="11.15">Alternative splicing envents analysis</text>
<ellipse cx="85" cy="391.2" rx="65" ry="55.1" fill="#a9d8a1" stroke="#78c470" stroke-width="1"/>
<ellipse cx="201.8" cy="389.1" rx="67.2" ry="57" fill="#e3a2a4" fill-opacity="0.85" stroke="#d26a6e" stroke-width="1"/>
<ellipse cx="85.3" cy="511.2" rx="64.6" ry="55.4" fill="#8897c9"/>
<ellipse cx="202" cy="507.7" rx="66.8" ry="56.5" fill="#cfe6c5" fill-opacity="0.82"/>
<text x="81.60" y="368.50" font-size="6.7" text-anchor="middle" fill="#1a1a1a">Differential alternative splicing</text>
<text x="201.80" y="368.50" font-size="6.7" text-anchor="middle" fill="#1a1a1a">Differential expressed genes</text>
<text x="81.60" y="380.52" font-size="6.7" text-anchor="middle" fill="#1a1a1a">events after MEX3A knockdown</text>
<text x="201.80" y="380.52" font-size="6.7" text-anchor="middle" fill="#1a1a1a">after MEX3A knockdown</text>
<text x="81.60" y="392.54" font-size="6.7" text-anchor="middle" fill="#1a1a1a">in ovarian cancer cells</text>
<text x="201.80" y="392.54" font-size="6.7" text-anchor="middle" fill="#1a1a1a">in ovarian cancer cells</text>
<text x="81.60" y="404.56" font-size="6.7" text-anchor="middle" fill="#1a1a1a">CUTOFF: p&lt;0.05</text>
<text x="201.80" y="404.56" font-size="6.7" text-anchor="middle" fill="#1a1a1a">CUTOFF: Padj&lt;0.05</text>
<text x="81.60" y="416.58" font-size="6.7" text-anchor="middle" fill="#1a1a1a">|IncLevelDifference|&gt;0.1</text>
<text x="201.80" y="416.58" font-size="6.7" text-anchor="middle" fill="#1a1a1a">FC&gt;1.2 / FC&lt;0.8</text>
<text x="81.60" y="428.60" font-size="6.7" text-anchor="middle" fill="#1a1a1a">(n=3059)</text>
<text x="201.80" y="428.60" font-size="6.7" text-anchor="middle" fill="#1a1a1a">(n=1255)</text>
<text x="142.30" y="394.00" font-size="5.6" text-anchor="middle" fill="#222">182</text>
<text x="80.70" y="493.20" font-size="7.05" text-anchor="middle" fill="#1a1a1a">Differential alternative splicing</text>
<text x="80.70" y="505.97" font-size="7.05" text-anchor="middle" fill="#1a1a1a">genes after MEX3A knockdown</text>
<text x="80.70" y="518.74" font-size="7.05" text-anchor="middle" fill="#1a1a1a">in ovarian cancer cells</text>
<text x="80.70" y="531.51" font-size="7.05" text-anchor="middle" fill="#1a1a1a">(n=182)</text>
<text x="204.00" y="487.40" font-size="7.1" text-anchor="middle" fill="#1a1a1a">Genes positively correlated</text>
<text x="204.00" y="500.08" font-size="7.1" text-anchor="middle" fill="#1a1a1a">with MEX3A expression in</text>
<text x="204.00" y="512.76" font-size="7.1" text-anchor="middle" fill="#1a1a1a">TCGA-OV cohort</text>
<text x="204.00" y="525.44" font-size="7.1" text-anchor="middle" fill="#1a1a1a">Spearman's Correlation ≥0.3</text>
<text x="204.00" y="538.12" font-size="7.1" text-anchor="middle" fill="#1a1a1a">(n=563)</text>
<text x="142.20" y="511.20" font-size="6.5" text-anchor="middle" fill="#222">7</text>
<path d="M138.2 519.9H146.2V545.6H150.8L142.1 568.2L133.5 545.6H138.2Z" fill="#e0282a"/>
<rect x="91.7" y="570.9" width="96.9" height="34.1" fill="none" stroke="#2c54b4" stroke-width="1.6" stroke-dasharray="4.5 2.8"/>
<text x="99.80" y="577.90" font-size="8.2">CSNK1E</text>
<text x="144.00" y="577.90" font-size="8.2">TIMELESS</text>
<text x="99.80" y="586.23" font-size="8.2">OBSL1</text>
<text x="144.00" y="586.23" font-size="8.2">SAMD11</text>
<text x="99.80" y="594.56" font-size="8.2">DNASE1</text>
<text x="144.00" y="594.56" font-size="8.2">BCL9</text>
<text x="99.80" y="602.89" font-size="8.2">ZNF711</text>
<text x="297.50" y="325.40" font-size="14.2">D</text>
<text x="336.80" y="326.40" font-size="10.9">RNA-seq</text>
<rect x="309.90" y="333.90" width="18.50" height="30.16" fill="#8ca0d0" stroke="#fff" stroke-width="0.6"/>
<rect x="328.40" y="333.90" width="18.50" height="30.16" fill="#3a58a8" stroke="#fff" stroke-width="0.6"/>
<rect x="346.90" y="333.90" width="18.50" height="30.16" fill="#9eaed6" stroke="#fff" stroke-width="0.6"/>
<rect x="365.40" y="333.90" width="18.50" height="30.16" fill="#f2cccb" stroke="#fff" stroke-width="0.6"/>
<rect x="383.90" y="333.90" width="18.50" height="30.16" fill="#fbeeee" stroke="#fff" stroke-width="0.6"/>
<rect x="402.40" y="333.90" width="18.50" height="30.16" fill="#c8302c" stroke="#fff" stroke-width="0.6"/>
<rect x="309.90" y="364.06" width="18.50" height="30.16" fill="#93a6d3" stroke="#fff" stroke-width="0.6"/>
<rect x="328.40" y="364.06" width="18.50" height="30.16" fill="#3a58a8" stroke="#fff" stroke-width="0.6"/>
<rect x="346.90" y="364.06" width="18.50" height="30.16" fill="#d8ddef" stroke="#fff" stroke-width="0.6"/>
<rect x="365.40" y="364.06" width="18.50" height="30.16" fill="#e6a2a2" stroke="#fff" stroke-width="0.6"/>
<rect x="383.90" y="364.06" width="18.50" height="30.16" fill="#e19797" stroke="#fff" stroke-width="0.6"/>
<rect x="402.40" y="364.06" width="18.50" height="30.16" fill="#c8302c" stroke="#fff" stroke-width="0.6"/>
<rect x="309.90" y="394.21" width="18.50" height="30.16" fill="#b2bfe0" stroke="#fff" stroke-width="0.6"/>
<rect x="328.40" y="394.21" width="18.50" height="30.16" fill="#3a58a8" stroke="#fff" stroke-width="0.6"/>
<rect x="346.90" y="394.21" width="18.50" height="30.16" fill="#9aaad5" stroke="#fff" stroke-width="0.6"/>
<rect x="365.40" y="394.21" width="18.50" height="30.16" fill="#f6d8d8" stroke="#fff" stroke-width="0.6"/>
<rect x="383.90" y="394.21" width="18.50" height="30.16" fill="#d87572" stroke="#fff" stroke-width="0.6"/>
<rect x="402.40" y="394.21" width="18.50" height="30.16" fill="#c8302c" stroke="#fff" stroke-width="0.6"/>
<rect x="309.90" y="424.37" width="18.50" height="30.16" fill="#c8302c" stroke="#fff" stroke-width="0.6"/>
<rect x="328.40" y="424.37" width="18.50" height="30.16" fill="#ebb6b6" stroke="#fff" stroke-width="0.6"/>
<rect x="346.90" y="424.37" width="18.50" height="30.16" fill="#cc4a45" stroke="#fff" stroke-width="0.6"/>
<rect x="365.40" y="424.37" width="18.50" height="30.16" fill="#b2bfe0" stroke="#fff" stroke-width="0.6"/>
<rect x="383.90" y="424.37" width="18.50" height="30.16" fill="#3a58a8" stroke="#fff" stroke-width="0.6"/>
<rect x="402.40" y="424.37" width="18.50" height="30.16" fill="#7f96cc" stroke="#fff" stroke-width="0.6"/>
<rect x="309.90" y="454.53" width="18.50" height="30.16" fill="#ffffff" stroke="#fff" stroke-width="0.6"/>
<rect x="328.40" y="454.53" width="18.50" height="30.16" fill="#f2c6c6" stroke="#fff" stroke-width="0.6"/>
<rect x="346.90" y="454.53" width="18.50" height="30.16" fill="#c8302c" stroke="#fff" stroke-width="0.6"/>
<rect x="365.40" y="454.53" width="18.50" height="30.16" fill="#4262b0" stroke="#fff" stroke-width="0.6"/>
<rect x="383.90" y="454.53" width="18.50" height="30.16" fill="#7f96cc" stroke="#fff" stroke-width="0.6"/>
<rect x="402.40" y="454.53" width="18.50" height="30.16" fill="#3a58a8" stroke="#fff" stroke-width="0.6"/>
<rect x="309.90" y="484.69" width="18.50" height="30.16" fill="#ffffff" stroke="#fff" stroke-width="0.6"/>
<rect x="328.40" y="484.69" width="18.50" height="30.16" fill="#eeb9b9" stroke="#fff" stroke-width="0.6"/>
<rect x="346.90" y="484.69" width="18.50" height="30.16" fill="#c8302c" stroke="#fff" stroke-width="0.6"/>
<rect x="365.40" y="484.69" width="18.50" height="30.16" fill="#3a58a8" stroke="#fff" stroke-width="0.6"/>
<rect x="383.90" y="484.69" width="18.50" height="30.16" fill="#6f88c4" stroke="#fff" stroke-width="0.6"/>
<rect x="402.40" y="484.69" width="18.50" height="30.16" fill="#8ca0d0" stroke="#fff" stroke-width="0.6"/>
<rect x="309.90" y="514.84" width="18.50" height="30.16" fill="#eab0b0" stroke="#fff" stroke-width="0.6"/>
<rect x="328.40" y="514.84" width="18.50" height="30.16" fill="#fcf0f0" stroke="#fff" stroke-width="0.6"/>
<rect x="346.90" y="514.84" width="18.50" height="30.16" fill="#c8302c" stroke="#fff" stroke-width="0.6"/>
<rect x="365.40" y="514.84" width="18.50" height="30.16" fill="#3a58a8" stroke="#fff" stroke-width="0.6"/>
<rect x="383.90" y="514.84" width="18.50" height="30.16" fill="#5a78bc" stroke="#fff" stroke-width="0.6"/>
<rect x="402.40" y="514.84" width="18.50" height="30.16" fill="#8ca0d0" stroke="#fff" stroke-width="0.6"/>
<text x="423.10" y="351.28" font-size="6.2" fill="#222">BCL9</text>
<text x="423.10" y="381.44" font-size="6.2" fill="#222">CSNK1E</text>
<text x="423.10" y="411.59" font-size="6.2" fill="#222">DNASE1</text>
<text x="423.10" y="441.75" font-size="6.2" fill="#222">ZNF711</text>
<text x="423.10" y="471.91" font-size="6.2" fill="#222">SAMD11</text>
<text x="423.10" y="502.06" font-size="6.2" fill="#222">OBSL1</text>
<text x="423.10" y="532.22" font-size="6.2" fill="#222">TIMELESS</text>
<text x="324.65" y="549.30" font-size="6.4" text-anchor="end" fill="#222" transform="rotate(-45 324.65 549.30)">SINC#1</text>
<text x="343.15" y="549.30" font-size="6.4" text-anchor="end" fill="#222" transform="rotate(-45 343.15 549.30)">SINC#2</text>
<text x="361.65" y="549.30" font-size="6.4" text-anchor="end" fill="#222" transform="rotate(-45 361.65 549.30)">SINC#3</text>
<text x="380.15" y="549.30" font-size="6.4" text-anchor="end" fill="#222" transform="rotate(-45 380.15 549.30)">SIMEX3A#1</text>
<text x="398.65" y="549.30" font-size="6.4" text-anchor="end" fill="#222" transform="rotate(-45 398.65 549.30)">SIMEX3A#2</text>
<text x="417.15" y="549.30" font-size="6.4" text-anchor="end" fill="#222" transform="rotate(-45 417.15 549.30)">SIMEX3A#3</text>
<path d="M309.9 379.14H299.2V409.29H309.9M309.9 348.98H294.5V394.21H299.2M309.9 499.76H304.5V529.92H309.9M309.9 469.61H299.2V514.84H304.5M309.9 439.45H294.5V492.23H299.2M294.5 371.60H289.3V465.84H294.5" stroke="#999" stroke-width="0.8" fill="none"/>
<defs><linearGradient id="gD" x1="0" y1="0" x2="0" y2="1"><stop offset="0" stop-color="#c82a26"/><stop offset="0.5" stop-color="#fff"/><stop offset="1" stop-color="#3654a4"/></linearGradient></defs>
<rect x="461.00" y="342.30" width="8.60" height="66.50" fill="url(#gD)"/>
<line x1="469.60" y1="342.30" x2="469.60" y2="408.80" stroke="#333" stroke-width="0.7"/>
<line x1="469.60" y1="342.30" x2="471.00" y2="342.30" stroke="#333" stroke-width="0.7"/>
<text x="471.30" y="344.20" font-size="5.3" font-weight="normal" fill="#333">1.00</text>
<line x1="469.60" y1="355.60" x2="471.00" y2="355.60" stroke="#333" stroke-width="0.7"/>
<text x="471.30" y="357.50" font-size="5.3" font-weight="normal" fill="#333">0.80</text>
<line x1="469.60" y1="368.90" x2="471.00" y2="368.90" stroke="#333" stroke-width="0.7"/>
<text x="471.30" y="370.80" font-size="5.3" font-weight="normal" fill="#333">0.60</text>
<line x1="469.60" y1="382.20" x2="471.00" y2="382.20" stroke="#333" stroke-width="0.7"/>
<text x="471.30" y="384.10" font-size="5.3" font-weight="normal" fill="#333">0.40</text>
<line x1="469.60" y1="395.50" x2="471.00" y2="395.50" stroke="#333" stroke-width="0.7"/>
<text x="471.30" y="397.40" font-size="5.3" font-weight="normal" fill="#333">0.20</text>
<line x1="469.60" y1="408.80" x2="471.00" y2="408.80" stroke="#333" stroke-width="0.7"/>
<text x="471.30" y="410.70" font-size="5.3" font-weight="normal" fill="#333">0.00</text>
<text x="498.50" y="325.70" font-size="14.2">E</text>
<text x="543.50" y="325.70" font-size="10.95">TCGA-GTEX</text>
<rect x="518.50" y="338.50" width="34.33" height="30.14" fill="#fbeeee" stroke="#fff" stroke-width="0.6"/>
<rect x="552.83" y="338.50" width="34.33" height="30.14" fill="#c8302c" stroke="#fff" stroke-width="0.6"/>
<rect x="587.17" y="338.50" width="34.33" height="30.14" fill="#3a58a8" stroke="#fff" stroke-width="0.6"/>
<rect x="518.50" y="368.64" width="34.33" height="30.14" fill="#c8302c" stroke="#fff" stroke-width="0.6"/>
<rect x="552.83" y="368.64" width="34.33" height="30.14" fill="#eab5b5" stroke="#fff" stroke-width="0.6"/>
<rect x="587.17" y="368.64" width="34.33" height="30.14" fill="#3a58a8" stroke="#fff" stroke-width="0.6"/>
<rect x="518.50" y="398.79" width="34.33" height="30.14" fill="#cb3934" stroke="#fff" stroke-width="0.6"/>
<rect x="552.83" y="398.79" width="34.33" height="30.14" fill="#c8302c" stroke="#fff" stroke-width="0.6"/>
<rect x="587.17" y="398.79" width="34.33" height="30.14" fill="#3a58a8" stroke="#fff" stroke-width="0.6"/>
<rect x="518.50" y="428.93" width="34.33" height="30.14" fill="#c8302c" stroke="#fff" stroke-width="0.6"/>
<rect x="552.83" y="428.93" width="34.33" height="30.14" fill="#d04f4b" stroke="#fff" stroke-width="0.6"/>
<rect x="587.17" y="428.93" width="34.33" height="30.14" fill="#3a58a8" stroke="#fff" stroke-width="0.6"/>
<rect x="518.50" y="459.07" width="34.33" height="30.14" fill="#e8ecf6" stroke="#fff" stroke-width="0.6"/>
<rect x="552.83" y="459.07" width="34.33" height="30.14" fill="#3a58a8" stroke="#fff" stroke-width="0.6"/>
<rect x="587.17" y="459.07" width="34.33" height="30.14" fill="#c8302c" stroke="#fff" stroke-width="0.6"/>
<rect x="518.50" y="489.21" width="34.33" height="30.14" fill="#c8302c" stroke="#fff" stroke-width="0.6"/>
<rect x="552.83" y="489.21" width="34.33" height="30.14" fill="#3a58a8" stroke="#fff" stroke-width="0.6"/>
<rect x="587.17" y="489.21" width="34.33" height="30.14" fill="#8ca0d0" stroke="#fff" stroke-width="0.6"/>
<rect x="518.50" y="519.36" width="34.33" height="30.14" fill="#c8302c" stroke="#fff" stroke-width="0.6"/>
<rect x="552.83" y="519.36" width="34.33" height="30.14" fill="#3a58a8" stroke="#fff" stroke-width="0.6"/>
<rect x="587.17" y="519.36" width="34.33" height="30.14" fill="#e6a2a2" stroke="#fff" stroke-width="0.6"/>
<text x="623.30" y="355.97" font-size="6.35" fill="#222">OBSL1</text>
<text x="623.30" y="386.11" font-size="6.35" fill="#222">DNASE1</text>
<text x="623.30" y="416.26" font-size="6.35" fill="#222">CSNK1E</text>
<text x="623.30" y="446.40" font-size="6.35" fill="#222">ZNF711</text>
<text x="623.30" y="476.54" font-size="6.35" fill="#222">TIMELESS</text>
<text x="623.30" y="506.69" font-size="6.35" fill="#222">SAMD11</text>
<text x="623.30" y="536.83" font-size="6.35" fill="#222">BCL9</text>
<text x="539.17" y="554.60" font-size="6.2" text-anchor="end" fill="#222" transform="rotate(-45 539.17 554.60)">FT</text>
<text x="573.50" y="554.60" font-size="6.2" text-anchor="end" fill="#222" transform="rotate(-45 573.50 554.60)">Ovary</text>
<text x="607.83" y="554.60" font-size="6.2" text-anchor="end" fill="#222" transform="rotate(-45 607.83 554.60)">HGSOC</text>
<path d="M518.5 413.86H513.6V444.00H518.5M518.5 383.71H508.5V428.93H513.6M518.5 353.57H502.8V406.32H508.5M518.5 504.29H508.5V534.43H518.5M518.5 474.14H502.8V519.36H508.5M502.8 379.95H497.1V496.75H502.8" stroke="#999" stroke-width="0.8" fill="none"/>
<rect x="664.00" y="347.10" width="8.50" height="66.60" fill="url(#gD)"/>
<line x1="672.50" y1="347.10" x2="672.50" y2="413.70" stroke="#333" stroke-width="0.7"/>
<line x1="672.50" y1="347.10" x2="673.90" y2="347.10" stroke="#333" stroke-width="0.7"/>
<text x="674.30" y="349.00" font-size="5.3" font-weight="normal" fill="#333">1.00</text>
<line x1="672.50" y1="360.42" x2="673.90" y2="360.42" stroke="#333" stroke-width="0.7"/>
<text x="674.30" y="362.32" font-size="5.3" font-weight="normal" fill="#333">0.80</text>
<line x1="672.50" y1="373.74" x2="673.90" y2="373.74" stroke="#333" stroke-width="0.7"/>
<text x="674.30" y="375.64" font-size="5.3" font-weight="normal" fill="#333">0.60</text>
<line x1="672.50" y1="387.06" x2="673.90" y2="387.06" stroke="#333" stroke-width="0.7"/>
<text x="674.30" y="388.96" font-size="5.3" font-weight="normal" fill="#333">0.40</text>
<line x1="672.50" y1="400.38" x2="673.90" y2="400.38" stroke="#333" stroke-width="0.7"/>
<text x="674.30" y="402.28" font-size="5.3" font-weight="normal" fill="#333">0.20</text>
<line x1="672.50" y1="413.70" x2="673.90" y2="413.70" stroke="#333" stroke-width="0.7"/>
<text x="674.30" y="415.60" font-size="5.3" font-weight="normal" fill="#333">0.00</text>
<text x="5.30" y="622.30" font-size="14.5">F</text>
<text x="106.00" y="632.80" font-size="10.1" text-anchor="middle">TCGA-OV</text>
<path d="M42.0 645.21V752.93H168.2" stroke="#111" stroke-width="1.1" fill="none"/>
<line x1="38.20" y1="645.21" x2="42.00" y2="645.21" stroke="#111" stroke-width="1.0"/>
<text x="36.80" y="648.21" font-size="8.4" text-anchor="end">15</text>
<line x1="38.20" y1="672.14" x2="42.00" y2="672.14" stroke="#111" stroke-width="1.0"/>
<text x="36.80" y="675.14" font-size="8.4" text-anchor="end">10</text>
<line x1="38.20" y1="699.07" x2="42.00" y2="699.07" stroke="#111" stroke-width="1.0"/>
<text x="36.80" y="702.07" font-size="8.4" text-anchor="end">5</text>
<line x1="38.20" y1="726.00" x2="42.00" y2="726.00" stroke="#111" stroke-width="1.0"/>
<text x="36.80" y="729.00" font-size="8.4" text-anchor="end">0</text>
<line x1="38.20" y1="752.93" x2="42.00" y2="752.93" stroke="#111" stroke-width="1.0"/>
<text x="36.80" y="755.93" font-size="8.4" text-anchor="end">-5</text>
<line x1="63.00" y1="752.93" x2="63.00" y2="756.53" stroke="#111" stroke-width="1.0"/>
<text x="63.00" y="764.30" font-size="8.8" text-anchor="middle">FT</text>
<line x1="105.10" y1="752.93" x2="105.10" y2="756.53" stroke="#111" stroke-width="1.0"/>
<text x="105.10" y="764.30" font-size="8.8" text-anchor="middle">Ovary</text>
<line x1="147.70" y1="752.93" x2="147.70" y2="756.53" stroke="#111" stroke-width="1.0"/>
<text x="147.70" y="764.30" font-size="8.8" text-anchor="middle">HGSOC</text>
<text x="13.40" y="697.80" font-size="8.7" text-anchor="middle" transform="rotate(-90 13.40 697.80)">TIMELESS mRNA</text>
<text x="25.20" y="697.80" font-size="8.7" text-anchor="middle" transform="rotate(-90 25.20 697.80)">expression</text>
<line x1="42.00" y1="726.00" x2="168.20" y2="726.00" stroke="#333" stroke-width="0.8" stroke-dasharray="2 1.5"/>
<rect x="58.70" y="709.39" width="3.60" height="3.60" fill="#8fd2db"/>
<rect x="62.70" y="708.58" width="3.60" height="3.60" fill="#8fd2db"/>
<rect x="66.70" y="710.20" width="3.60" height="3.60" fill="#8fd2db"/>
<rect x="60.70" y="712.35" width="3.60" height="3.60" fill="#8fd2db"/>
<rect x="64.70" y="711.27" width="3.60" height="3.60" fill="#8fd2db"/>
<rect x="68.70" y="711.00" width="3.60" height="3.60" fill="#8fd2db"/>
<rect x="62.20" y="716.12" width="3.60" height="3.60" fill="#8fd2db"/>
<rect x="62.20" y="713.97" width="3.60" height="3.60" fill="#8fd2db"/>
<rect x="56.70" y="710.47" width="3.60" height="3.60" fill="#8fd2db"/>
<path d="M96.62 723.60L98.82 719.80L101.02 723.60ZM94.56 723.99L96.76 720.19L98.96 723.99ZM92.50 723.57L94.70 719.77L96.90 723.57ZM94.30 723.86L96.50 720.06L98.70 723.86ZM97.70 723.27L99.90 719.47L102.10 723.27ZM101.10 725.73L103.30 721.93L105.50 725.73ZM104.50 724.33L106.70 720.53L108.90 724.33ZM107.90 724.54L110.10 720.74L112.30 724.54ZM111.30 723.97L113.50 720.17L115.70 723.97ZM112.07 722.78L114.27 718.98L116.47 722.78ZM108.98 722.81L111.18 719.01L113.38 722.81ZM111.04 723.26L113.24 719.46L115.44 723.26ZM96.62 717.56L98.82 713.76L101.02 717.56ZM94.56 719.23L96.76 715.43L98.96 719.23ZM92.50 717.18L94.70 713.38L96.90 717.18ZM95.59 716.32L97.79 712.52L99.99 716.32ZM93.53 717.20L95.73 713.40L97.93 717.20ZM96.62 718.62L98.82 714.82L101.02 718.62ZM94.56 718.43L96.76 714.63L98.96 718.43ZM92.50 719.22L94.70 715.42L96.90 719.22ZM95.59 717.95L97.79 714.15L99.99 717.95ZM93.53 716.37L95.73 712.57L97.93 716.37ZM96.62 718.19L98.82 714.39L101.02 718.19ZM94.56 716.34L96.76 712.54L98.96 716.34ZM92.50 718.97L94.70 715.17L96.90 718.97ZM95.59 718.18L97.79 714.38L99.99 718.18ZM93.53 719.17L95.73 715.37L97.93 719.17ZM92.60 716.48L94.80 712.68L97.00 716.48ZM96.00 719.33L98.20 715.53L100.40 719.33ZM99.40 717.59L101.60 713.79L103.80 717.59ZM102.80 718.59L105.00 714.79L107.20 718.59ZM106.20 716.86L108.40 713.06L110.60 716.86ZM109.60 716.40L111.80 712.60L114.00 716.40ZM113.00 718.97L115.20 715.17L117.40 718.97ZM113.10 716.63L115.30 712.83L117.50 716.63ZM110.01 718.45L112.21 714.65L114.41 718.45ZM112.07 716.09L114.27 712.29L116.47 716.09ZM108.98 717.22L111.18 713.42L113.38 717.22ZM111.04 716.89L113.24 713.09L115.44 716.89ZM113.10 717.07L115.30 713.27L117.50 717.07ZM110.01 717.92L112.21 714.12L114.41 717.92ZM112.07 718.20L114.27 714.40L116.47 718.20ZM108.98 718.30L111.18 714.50L113.38 718.30ZM111.04 716.75L113.24 712.95L115.44 716.75ZM113.10 716.05L115.30 712.25L117.50 716.05ZM110.01 716.35L112.21 712.55L114.41 716.35ZM112.07 718.29L114.27 714.49L116.47 718.29ZM108.98 716.07L111.18 712.27L113.38 716.07ZM111.04 718.06L113.24 714.26L115.44 718.06ZM96.62 715.23L98.82 711.43L101.02 715.23ZM94.56 714.84L96.76 711.04L98.96 714.84ZM92.50 713.20L94.70 709.40L96.90 713.20ZM95.59 715.28L97.79 711.48L99.99 715.28ZM92.60 714.85L94.80 711.05L97.00 714.85ZM96.00 715.81L98.20 712.01L100.40 715.81ZM99.40 715.39L101.60 711.59L103.80 715.39ZM102.80 715.22L105.00 711.42L107.20 715.22ZM106.20 714.22L108.40 710.42L110.60 714.22ZM109.60 712.79L111.80 708.99L114.00 712.79ZM113.00 713.28L115.20 709.48L117.40 713.28ZM111.04 715.30L113.24 711.50L115.44 715.30ZM113.10 715.01L115.30 711.21L117.50 715.01ZM110.01 715.32L112.21 711.52L114.41 715.32ZM112.07 715.69L114.27 711.89L116.47 715.69ZM96.62 720.92L98.82 717.12L101.02 720.92ZM94.56 719.37L96.76 715.57L98.96 719.37ZM92.50 720.02L94.70 716.22L96.90 720.02ZM95.59 720.07L97.79 716.27L99.99 720.07ZM93.53 721.94L95.73 718.14L97.93 721.94ZM96.62 720.28L98.82 716.48L101.02 720.28ZM92.60 719.63L94.80 715.83L97.00 719.63ZM96.00 721.92L98.20 718.12L100.40 721.92ZM99.40 720.07L101.60 716.27L103.80 720.07ZM102.80 722.04L105.00 718.24L107.20 722.04ZM106.20 720.89L108.40 717.09L110.60 720.89ZM109.60 721.25L111.80 717.45L114.00 721.25ZM113.00 719.45L115.20 715.65L117.40 719.45ZM110.01 721.92L112.21 718.12L114.41 721.92ZM112.07 720.40L114.27 716.60L116.47 720.40ZM108.98 721.24L111.18 717.44L113.38 721.24ZM111.04 720.48L113.24 716.68L115.44 720.48ZM113.10 720.22L115.30 716.42L117.50 720.22ZM110.01 721.60L112.21 717.80L114.41 721.60ZM96.00 710.90L98.20 707.10L100.40 710.90ZM99.40 710.90L101.60 707.10L103.80 710.90ZM102.80 711.93L105.00 708.13L107.20 711.93ZM106.20 712.30L108.40 708.50L110.60 712.30ZM109.60 711.59L111.80 707.79L114.00 711.59ZM102.80 727.60L105.00 723.80L107.20 727.60Z" fill="#2f74bf"/>
<path d="M138.90 696.44L141.10 692.64L143.30 696.44ZM136.60 698.15L138.80 694.35L141.00 698.15ZM134.30 698.08L136.50 694.28L138.70 698.08ZM137.55 699.09L139.75 695.29L141.95 699.09ZM140.85 697.73L143.05 693.93L145.25 697.73ZM144.15 698.88L146.35 695.08L148.55 698.88ZM147.45 699.20L149.65 695.40L151.85 699.20ZM150.75 697.43L152.95 693.63L155.15 697.43ZM154.05 698.97L156.25 695.17L158.45 698.97ZM156.15 699.05L158.35 695.25L160.55 699.05ZM152.70 696.61L154.90 692.81L157.10 696.61ZM155.00 697.38L157.20 693.58L159.40 697.38ZM138.90 708.49L141.10 704.69L143.30 708.49ZM136.60 708.87L138.80 705.07L141.00 708.87ZM134.30 707.01L136.50 703.21L138.70 707.01ZM137.75 709.38L139.95 705.58L142.15 709.38ZM135.45 708.04L137.65 704.24L139.85 708.04ZM138.90 708.15L141.10 704.35L143.30 708.15ZM136.60 708.97L138.80 705.17L141.00 708.97ZM134.30 707.55L136.50 703.75L138.70 707.55ZM137.75 709.21L139.95 705.41L142.15 709.21ZM135.45 708.94L137.65 705.14L139.85 708.94ZM138.90 706.59L141.10 702.79L143.30 706.59ZM136.60 708.55L138.80 704.75L141.00 708.55ZM135.90 708.27L138.10 704.47L140.30 708.27ZM139.20 707.97L141.40 704.17L143.60 707.97ZM142.50 708.40L144.70 704.60L146.90 708.40ZM145.80 708.47L148.00 704.67L150.20 708.47ZM149.10 707.92L151.30 704.12L153.50 707.92ZM152.40 709.18L154.60 705.38L156.80 709.18ZM155.70 708.69L157.90 704.89L160.10 708.69ZM156.15 708.48L158.35 704.68L160.55 708.48ZM152.70 707.28L154.90 703.48L157.10 707.28ZM155.00 707.98L157.20 704.18L159.40 707.98ZM157.30 708.08L159.50 704.28L161.70 708.08ZM153.85 708.12L156.05 704.32L158.25 708.12ZM156.15 708.96L158.35 705.16L160.55 708.96ZM152.70 708.30L154.90 704.50L157.10 708.30ZM155.00 709.34L157.20 705.54L159.40 709.34ZM157.30 709.35L159.50 705.55L161.70 709.35ZM153.85 707.16L156.05 703.36L158.25 707.16ZM156.15 708.35L158.35 704.55L160.55 708.35ZM152.70 708.02L154.90 704.22L157.10 708.02ZM138.90 704.15L141.10 700.35L143.30 704.15ZM136.60 704.48L138.80 700.68L141.00 704.48ZM134.30 703.85L136.50 700.05L138.70 703.85ZM137.75 705.85L139.95 702.05L142.15 705.85ZM135.45 704.93L137.65 701.13L139.85 704.93ZM138.90 703.75L141.10 699.95L143.30 703.75ZM136.60 705.17L138.80 701.37L141.00 705.17ZM134.30 704.39L136.50 700.59L138.70 704.39ZM137.75 704.90L139.95 701.10L142.15 704.90ZM135.45 705.40L137.65 701.60L139.85 705.40ZM135.90 703.89L138.10 700.09L140.30 703.89ZM139.20 703.36L141.40 699.56L143.60 703.36ZM142.50 705.51L144.70 701.71L146.90 705.51ZM145.80 705.33L148.00 701.53L150.20 705.33ZM149.10 703.20L151.30 699.40L153.50 703.20ZM152.40 703.39L154.60 699.59L156.80 703.39ZM155.70 704.63L157.90 700.83L160.10 704.63ZM157.30 704.57L159.50 700.77L161.70 704.57ZM153.85 703.52L156.05 699.72L158.25 703.52ZM156.15 705.43L158.35 701.63L160.55 705.43ZM152.70 704.15L154.90 700.35L157.10 704.15ZM155.00 704.07L157.20 700.27L159.40 704.07ZM157.30 704.40L159.50 700.60L161.70 704.40ZM153.85 704.03L156.05 700.23L158.25 704.03ZM156.15 703.16L158.35 699.36L160.55 703.16ZM152.70 705.30L154.90 701.50L157.10 705.30ZM155.00 705.78L157.20 701.98L159.40 705.78ZM138.90 716.49L141.10 712.69L143.30 716.49ZM136.60 716.66L138.80 712.86L141.00 716.66ZM134.30 717.40L136.50 713.60L138.70 717.40ZM135.90 716.74L138.10 712.94L140.30 716.74ZM139.20 719.15L141.40 715.35L143.60 719.15ZM142.50 716.67L144.70 712.87L146.90 716.67ZM145.80 718.73L148.00 714.93L150.20 718.73ZM149.10 717.27L151.30 713.47L153.50 717.27ZM152.40 718.79L154.60 714.99L156.80 718.79ZM155.70 717.23L157.90 713.43L160.10 717.23ZM152.70 718.21L154.90 714.41L157.10 718.21ZM155.00 716.08L157.20 712.28L159.40 716.08ZM157.30 719.30L159.50 715.50L161.70 719.30ZM138.90 710.67L141.10 706.87L143.30 710.67ZM136.60 712.03L138.80 708.23L141.00 712.03ZM134.30 709.81L136.50 706.01L138.70 709.81ZM137.75 711.02L139.95 707.22L142.15 711.02ZM135.45 710.44L137.65 706.64L139.85 710.44ZM138.90 712.35L141.10 708.55L143.30 712.35ZM136.60 712.34L138.80 708.54L141.00 712.34ZM135.90 711.58L138.10 707.78L140.30 711.58ZM139.20 711.17L141.40 707.37L143.60 711.17ZM142.50 711.15L144.70 707.35L146.90 711.15ZM145.80 710.78L148.00 706.98L150.20 710.78ZM149.10 710.48L151.30 706.68L153.50 710.48ZM152.40 710.85L154.60 707.05L156.80 710.85ZM155.70 710.76L157.90 706.96L160.10 710.76ZM156.15 712.65L158.35 708.85L160.55 712.65ZM152.70 709.87L154.90 706.07L157.10 709.87ZM155.00 710.60L157.20 706.80L159.40 710.60ZM157.30 710.76L159.50 706.96L161.70 710.76ZM153.85 711.40L156.05 707.60L158.25 711.40ZM156.15 712.35L158.35 708.55L160.55 712.35ZM152.70 711.45L154.90 707.65L157.10 711.45ZM138.90 701.41L141.10 697.61L143.30 701.41ZM136.60 699.61L138.80 695.81L141.00 699.61ZM134.30 701.44L136.50 697.64L138.70 701.44ZM137.75 702.25L139.95 698.45L142.15 702.25ZM137.55 701.39L139.75 697.59L141.95 701.39ZM140.85 700.63L143.05 696.83L145.25 700.63ZM144.15 700.40L146.35 696.60L148.55 700.40ZM147.45 699.78L149.65 695.98L151.85 699.78ZM150.75 700.64L152.95 696.84L155.15 700.64ZM154.05 699.94L156.25 696.14L158.45 699.94ZM152.70 702.24L154.90 698.44L157.10 702.24ZM155.00 702.20L157.20 698.40L159.40 702.20ZM157.30 702.23L159.50 698.43L161.70 702.23ZM153.85 701.60L156.05 697.80L158.25 701.60ZM138.90 715.56L141.10 711.76L143.30 715.56ZM136.60 712.94L138.80 709.14L141.00 712.94ZM134.30 714.99L136.50 711.19L138.70 714.99ZM137.75 713.41L139.95 709.61L142.15 713.41ZM135.45 715.20L137.65 711.40L139.85 715.20ZM138.90 714.43L141.10 710.63L143.30 714.43ZM136.60 713.85L138.80 710.05L141.00 713.85ZM134.30 713.43L136.50 709.63L138.70 713.43ZM137.75 713.43L139.95 709.63L142.15 713.43ZM135.45 715.69L137.65 711.89L139.85 715.69ZM135.90 715.06L138.10 711.26L140.30 715.06ZM139.20 715.06L141.40 711.26L143.60 715.06ZM142.50 714.96L144.70 711.16L146.90 714.96ZM145.80 715.24L148.00 711.44L150.20 715.24ZM149.10 713.40L151.30 709.60L153.50 713.40ZM152.40 716.01L154.60 712.21L156.80 716.01ZM155.70 715.02L157.90 711.22L160.10 715.02ZM157.30 714.90L159.50 711.10L161.70 714.90ZM153.85 715.53L156.05 711.73L158.25 715.53ZM156.15 713.11L158.35 709.31L160.55 713.11ZM152.70 714.28L154.90 710.48L157.10 714.28ZM155.00 715.59L157.20 711.79L159.40 715.59ZM157.30 716.02L159.50 712.22L161.70 716.02ZM153.85 715.58L156.05 711.78L158.25 715.58ZM156.15 714.67L158.35 710.87L160.55 714.67ZM152.70 714.70L154.90 710.90L157.10 714.70ZM155.00 715.47L157.20 711.67L159.40 715.47ZM139.20 723.33L141.40 719.53L143.60 723.33ZM142.50 723.56L144.70 719.76L146.90 723.56ZM145.80 723.23L148.00 719.43L150.20 723.23ZM149.10 724.68L151.30 720.88L153.50 724.68ZM152.40 725.51L154.60 721.71L156.80 725.51ZM144.15 692.39L146.35 688.59L148.55 692.39ZM147.45 690.17L149.65 686.37L151.85 690.17ZM139.20 695.79L141.40 691.99L143.60 695.79ZM142.50 693.38L144.70 689.58L146.90 693.38ZM145.80 694.32L148.00 690.52L150.20 694.32ZM149.10 693.67L151.30 689.87L153.50 693.67ZM152.40 693.13L154.60 689.33L156.80 693.13ZM138.90 720.11L141.10 716.31L143.30 720.11ZM135.90 721.96L138.10 718.16L140.30 721.96ZM139.20 721.96L141.40 718.16L143.60 721.96ZM142.50 721.55L144.70 717.75L146.90 721.55ZM145.80 721.39L148.00 717.59L150.20 721.39ZM149.10 719.73L151.30 715.93L153.50 719.73ZM152.40 722.59L154.60 718.79L156.80 722.59ZM155.70 721.01L157.90 717.21L160.10 721.01ZM153.85 722.34L156.05 718.54L158.25 722.34ZM142.50 725.96L144.70 722.16L146.90 725.96ZM145.80 725.95L148.00 722.15L150.20 725.95ZM149.10 727.06L151.30 723.26L153.50 727.06Z" fill="#e0201d"/>
<line x1="48.50" y1="712.60" x2="77.40" y2="712.60" stroke="#111" stroke-width="1.3"/>
<line x1="90.90" y1="716.90" x2="119.70" y2="716.90" stroke="#111" stroke-width="1.3"/>
<line x1="133.40" y1="707.40" x2="161.50" y2="707.40" stroke="#111" stroke-width="1.3"/>
<path d="M62.4 704.5V659.5H148.7V677.2" stroke="#111" stroke-width="1.2" fill="none"/>
<path d="M105.5 703.6V677.2H148.7" stroke="#111" stroke-width="1.2" fill="none"/>
<text x="101.10" y="658.00" font-size="9.0" text-anchor="middle">**</text>
<text x="126.90" y="677.30" font-size="9.0" text-anchor="middle">**</text>
<text x="239.90" y="621.70" font-size="14.5">G</text>
<text x="318.40" y="632.00" font-size="10.1" text-anchor="middle">CPTAC-PNNL</text>
<path d="M276.5 645.06V751.74H361.3" stroke="#111" stroke-width="1.1" fill="none"/>
<line x1="272.70" y1="645.06" x2="276.50" y2="645.06" stroke="#111" stroke-width="1.0"/>
<text x="272.40" y="648.06" font-size="8.4" text-anchor="end">3</text>
<line x1="272.70" y1="662.84" x2="276.50" y2="662.84" stroke="#111" stroke-width="1.0"/>
<text x="272.40" y="665.84" font-size="8.4" text-anchor="end">2</text>
<line x1="272.70" y1="680.62" x2="276.50" y2="680.62" stroke="#111" stroke-width="1.0"/>
<text x="272.40" y="683.62" font-size="8.4" text-anchor="end">1</text>
<line x1="272.70" y1="698.40" x2="276.50" y2="698.40" stroke="#111" stroke-width="1.0"/>
<text x="272.40" y="701.40" font-size="8.4" text-anchor="end">0</text>
<line x1="272.70" y1="716.18" x2="276.50" y2="716.18" stroke="#111" stroke-width="1.0"/>
<text x="272.40" y="719.18" font-size="8.4" text-anchor="end">-1</text>
<line x1="272.70" y1="733.96" x2="276.50" y2="733.96" stroke="#111" stroke-width="1.0"/>
<text x="272.40" y="736.96" font-size="8.4" text-anchor="end">-2</text>
<line x1="272.70" y1="751.74" x2="276.50" y2="751.74" stroke="#111" stroke-width="1.0"/>
<text x="272.40" y="754.74" font-size="8.4" text-anchor="end">-3</text>
<line x1="297.10" y1="751.74" x2="297.10" y2="755.34" stroke="#111" stroke-width="1.0"/>
<text x="297.10" y="763.50" font-size="8.8" text-anchor="middle">Ovary</text>
<line x1="339.80" y1="751.74" x2="339.80" y2="755.34" stroke="#111" stroke-width="1.0"/>
<text x="339.80" y="763.50" font-size="8.8" text-anchor="middle">HGSOC</text>
<text x="261.60" y="698.70" font-size="8.75" text-anchor="middle" transform="rotate(-90 261.60 698.70)">TIMELESS protein expression</text>
<line x1="276.50" y1="698.40" x2="361.30" y2="698.40" stroke="#333" stroke-width="0.8" stroke-dasharray="2 1.5"/>
<circle cx="297.00" cy="690.04" r="2.00" fill="#1fb1b8"/>
<circle cx="290.50" cy="694.49" r="2.00" fill="#1fb1b8"/>
<circle cx="294.50" cy="694.84" r="2.00" fill="#1fb1b8"/>
<circle cx="303.50" cy="694.49" r="2.00" fill="#1fb1b8"/>
<circle cx="307.80" cy="694.31" r="2.00" fill="#1fb1b8"/>
<circle cx="299.00" cy="697.51" r="2.00" fill="#1fb1b8"/>
<circle cx="292.00" cy="698.40" r="2.00" fill="#1fb1b8"/>
<circle cx="301.50" cy="699.29" r="2.00" fill="#1fb1b8"/>
<circle cx="296.00" cy="701.60" r="2.00" fill="#1fb1b8"/>
<circle cx="288.50" cy="703.73" r="2.00" fill="#1fb1b8"/>
<circle cx="304.50" cy="704.62" r="2.00" fill="#1fb1b8"/>
<circle cx="292.00" cy="706.40" r="2.00" fill="#1fb1b8"/>
<circle cx="299.50" cy="707.29" r="2.00" fill="#1fb1b8"/>
<circle cx="295.50" cy="709.42" r="2.00" fill="#1fb1b8"/>
<circle cx="302.50" cy="710.85" r="2.00" fill="#1fb1b8"/>
<circle cx="290.00" cy="712.27" r="2.00" fill="#1fb1b8"/>
<circle cx="297.50" cy="713.51" r="2.00" fill="#1fb1b8"/>
<circle cx="293.00" cy="732.18" r="2.00" fill="#1fb1b8"/>
<circle cx="300.50" cy="734.32" r="2.00" fill="#1fb1b8"/>
<circle cx="297.00" cy="740.18" r="2.00" fill="#1fb1b8"/>
<path d="M330.90 702.64h3.4v3.4h-3.4ZM328.50 700.90h3.4v3.4h-3.4ZM328.85 700.98h3.4v3.4h-3.4ZM332.55 700.91h3.4v3.4h-3.4ZM336.25 701.36h3.4v3.4h-3.4ZM339.95 700.31h3.4v3.4h-3.4ZM343.65 702.05h3.4v3.4h-3.4ZM347.35 700.12h3.4v3.4h-3.4ZM346.50 700.65h3.4v3.4h-3.4ZM348.90 702.57h3.4v3.4h-3.4ZM330.90 704.69h3.4v3.4h-3.4ZM328.50 705.32h3.4v3.4h-3.4ZM326.10 706.13h3.4v3.4h-3.4ZM328.85 705.74h3.4v3.4h-3.4ZM332.55 703.99h3.4v3.4h-3.4ZM336.25 706.93h3.4v3.4h-3.4ZM339.95 704.71h3.4v3.4h-3.4ZM343.65 707.01h3.4v3.4h-3.4ZM347.35 704.11h3.4v3.4h-3.4ZM348.90 703.69h3.4v3.4h-3.4ZM345.30 704.03h3.4v3.4h-3.4ZM347.70 705.35h3.4v3.4h-3.4ZM330.90 686.22h3.4v3.4h-3.4ZM328.85 687.56h3.4v3.4h-3.4ZM332.55 687.09h3.4v3.4h-3.4ZM336.25 686.06h3.4v3.4h-3.4ZM339.95 689.34h3.4v3.4h-3.4ZM343.65 686.91h3.4v3.4h-3.4ZM347.35 687.97h3.4v3.4h-3.4ZM350.10 686.05h3.4v3.4h-3.4ZM338.10 716.26h3.4v3.4h-3.4ZM330.90 697.53h3.4v3.4h-3.4ZM328.50 698.78h3.4v3.4h-3.4ZM326.10 697.24h3.4v3.4h-3.4ZM327.00 698.67h3.4v3.4h-3.4ZM330.70 698.77h3.4v3.4h-3.4ZM334.40 698.09h3.4v3.4h-3.4ZM338.10 698.21h3.4v3.4h-3.4ZM341.80 698.90h3.4v3.4h-3.4ZM345.50 697.26h3.4v3.4h-3.4ZM349.20 698.24h3.4v3.4h-3.4ZM345.30 698.73h3.4v3.4h-3.4ZM347.70 698.87h3.4v3.4h-3.4ZM350.10 698.54h3.4v3.4h-3.4ZM330.90 693.97h3.4v3.4h-3.4ZM327.00 694.17h3.4v3.4h-3.4ZM330.70 696.29h3.4v3.4h-3.4ZM334.40 696.18h3.4v3.4h-3.4ZM338.10 694.74h3.4v3.4h-3.4ZM341.80 693.63h3.4v3.4h-3.4ZM345.50 693.07h3.4v3.4h-3.4ZM349.20 696.55h3.4v3.4h-3.4ZM346.50 696.22h3.4v3.4h-3.4ZM330.90 683.89h3.4v3.4h-3.4ZM328.85 686.00h3.4v3.4h-3.4ZM332.55 684.17h3.4v3.4h-3.4ZM336.25 684.67h3.4v3.4h-3.4ZM339.95 685.77h3.4v3.4h-3.4ZM343.65 684.19h3.4v3.4h-3.4ZM347.35 683.15h3.4v3.4h-3.4ZM350.10 683.08h3.4v3.4h-3.4ZM328.85 707.28h3.4v3.4h-3.4ZM332.55 708.51h3.4v3.4h-3.4ZM336.25 710.04h3.4v3.4h-3.4ZM339.95 710.15h3.4v3.4h-3.4ZM343.65 710.52h3.4v3.4h-3.4ZM347.35 707.55h3.4v3.4h-3.4ZM327.00 691.45h3.4v3.4h-3.4ZM330.70 690.13h3.4v3.4h-3.4ZM334.40 689.68h3.4v3.4h-3.4ZM338.10 691.40h3.4v3.4h-3.4ZM341.80 690.64h3.4v3.4h-3.4ZM345.50 690.98h3.4v3.4h-3.4ZM349.20 692.79h3.4v3.4h-3.4ZM332.55 680.65h3.4v3.4h-3.4ZM336.25 682.25h3.4v3.4h-3.4ZM339.95 680.10h3.4v3.4h-3.4ZM343.65 679.62h3.4v3.4h-3.4ZM334.40 712.70h3.4v3.4h-3.4ZM338.10 711.76h3.4v3.4h-3.4ZM341.80 710.82h3.4v3.4h-3.4ZM332.55 674.49h3.4v3.4h-3.4ZM336.25 675.53h3.4v3.4h-3.4ZM339.95 672.70h3.4v3.4h-3.4ZM343.65 673.59h3.4v3.4h-3.4ZM338.10 671.81h3.4v3.4h-3.4ZM338.10 664.70h3.4v3.4h-3.4ZM336.25 718.92h3.4v3.4h-3.4ZM339.95 719.46h3.4v3.4h-3.4Z" fill="#f07d86"/>
<line x1="283.00" y1="707.50" x2="311.60" y2="707.50" stroke="#111" stroke-width="1.3"/>
<line x1="325.10" y1="696.20" x2="354.30" y2="696.20" stroke="#111" stroke-width="1.3"/>
<path d="M295.9 683.6V644.4H340.3V661.9" stroke="#111" stroke-width="1.2" fill="none"/>
<text x="319.30" y="643.40" font-size="9.0" text-anchor="middle">**</text>
<text x="443.70" y="621.80" font-size="14.5">H</text>
<text x="539.20" y="640.50" font-size="9.5" text-anchor="middle">TCGA-OV</text>
<text x="542.00" y="652.90" font-size="8.2" text-anchor="middle">Pearson r=0.3353</text>
<text x="541.6" y="662" font-size="8.2" text-anchor="middle"><tspan font-style="italic">p</tspan>&lt; 0.01</text>
<path d="M464.0 652.12V750.92H613.4" stroke="#111" stroke-width="1.1" fill="none"/>
<line x1="460.70" y1="652.12" x2="464.00" y2="652.12" stroke="#111" stroke-width="1.0"/>
<text x="460.30" y="654.82" font-size="7.8" text-anchor="end">3</text>
<line x1="460.70" y1="671.88" x2="464.00" y2="671.88" stroke="#111" stroke-width="1.0"/>
<text x="460.30" y="674.58" font-size="7.8" text-anchor="end">2</text>
<line x1="460.70" y1="691.64" x2="464.00" y2="691.64" stroke="#111" stroke-width="1.0"/>
<text x="460.30" y="694.34" font-size="7.8" text-anchor="end">1</text>
<line x1="460.70" y1="711.40" x2="464.00" y2="711.40" stroke="#111" stroke-width="1.0"/>
<text x="460.30" y="714.10" font-size="7.8" text-anchor="end">0</text>
<line x1="460.70" y1="731.16" x2="464.00" y2="731.16" stroke="#111" stroke-width="1.0"/>
<text x="460.30" y="733.86" font-size="7.8" text-anchor="end">-1</text>
<line x1="460.70" y1="750.92" x2="464.00" y2="750.92" stroke="#111" stroke-width="1.0"/>
<text x="460.30" y="753.62" font-size="7.8" text-anchor="end">-2</text>
<line x1="464.02" y1="750.92" x2="464.02" y2="754.22" stroke="#111" stroke-width="1.0"/>
<text x="464.02" y="760.90" font-size="7.8" text-anchor="middle">-4</text>
<line x1="501.36" y1="750.92" x2="501.36" y2="754.22" stroke="#111" stroke-width="1.0"/>
<text x="501.36" y="760.90" font-size="7.8" text-anchor="middle">-2</text>
<line x1="538.70" y1="750.92" x2="538.70" y2="754.22" stroke="#111" stroke-width="1.0"/>
<text x="538.70" y="760.90" font-size="7.8" text-anchor="middle">0</text>
<line x1="576.04" y1="750.92" x2="576.04" y2="754.22" stroke="#111" stroke-width="1.0"/>
<text x="576.04" y="760.90" font-size="7.8" text-anchor="middle">2</text>
<line x1="613.38" y1="750.92" x2="613.38" y2="754.22" stroke="#111" stroke-width="1.0"/>
<text x="613.38" y="760.90" font-size="7.8" text-anchor="middle">4</text>
<text x="538.70" y="772.40" font-size="8.1" text-anchor="middle">MEX3A mRNA expression</text>
<text x="450.60" y="701.00" font-size="8.1" text-anchor="middle" transform="rotate(-90 450.60 701.00)">TIMELESS mRNA expression</text>
<line x1="464.00" y1="711.40" x2="613.40" y2="711.40" stroke="#333" stroke-width="0.8" stroke-dasharray="2 1.5"/>
<path d="M517.76 732.87a1.9 1.9 0 1 0 3.8 0a1.9 1.9 0 1 0 -3.8 0ZM550.54 737.86a1.9 1.9 0 1 0 3.8 0a1.9 1.9 0 1 0 -3.8 0ZM536.12 741.93a1.9 1.9 0 1 0 3.8 0a1.9 1.9 0 1 0 -3.8 0ZM558.19 701.88a1.9 1.9 0 1 0 3.8 0a1.9 1.9 0 1 0 -3.8 0ZM562.72 709.94a1.9 1.9 0 1 0 3.8 0a1.9 1.9 0 1 0 -3.8 0ZM545.73 712.41a1.9 1.9 0 1 0 3.8 0a1.9 1.9 0 1 0 -3.8 0ZM525.57 713.01a1.9 1.9 0 1 0 3.8 0a1.9 1.9 0 1 0 -3.8 0ZM516.37 722.65a1.9 1.9 0 1 0 3.8 0a1.9 1.9 0 1 0 -3.8 0ZM551.02 706.11a1.9 1.9 0 1 0 3.8 0a1.9 1.9 0 1 0 -3.8 0ZM531.39 683.70a1.9 1.9 0 1 0 3.8 0a1.9 1.9 0 1 0 -3.8 0ZM539.70 718.36a1.9 1.9 0 1 0 3.8 0a1.9 1.9 0 1 0 -3.8 0ZM541.50 716.93a1.9 1.9 0 1 0 3.8 0a1.9 1.9 0 1 0 -3.8 0ZM531.84 717.68a1.9 1.9 0 1 0 3.8 0a1.9 1.9 0 1 0 -3.8 0ZM574.59 699.10a1.9 1.9 0 1 0 3.8 0a1.9 1.9 0 1 0 -3.8 0ZM541.78 700.76a1.9 1.9 0 1 0 3.8 0a1.9 1.9 0 1 0 -3.8 0ZM574.44 702.45a1.9 1.9 0 1 0 3.8 0a1.9 1.9 0 1 0 -3.8 0ZM527.60 681.07a1.9 1.9 0 1 0 3.8 0a1.9 1.9 0 1 0 -3.8 0ZM512.78 723.96a1.9 1.9 0 1 0 3.8 0a1.9 1.9 0 1 0 -3.8 0ZM550.50 676.37a1.9 1.9 0 1 0 3.8 0a1.9 1.9 0 1 0 -3.8 0ZM521.82 748.78a1.9 1.9 0 1 0 3.8 0a1.9 1.9 0 1 0 -3.8 0ZM550.40 714.09a1.9 1.9 0 1 0 3.8 0a1.9 1.9 0 1 0 -3.8 0ZM531.79 706.79a1.9 1.9 0 1 0 3.8 0a1.9 1.9 0 1 0 -3.8 0ZM542.63 705.64a1.9 1.9 0 1 0 3.8 0a1.9 1.9 0 1 0 -3.8 0ZM531.02 695.91a1.9 1.9 0 1 0 3.8 0a1.9 1.9 0 1 0 -3.8 0ZM565.36 701.90a1.9 1.9 0 1 0 3.8 0a1.9 1.9 0 1 0 -3.8 0ZM530.65 703.50a1.9 1.9 0 1 0 3.8 0a1.9 1.9 0 1 0 -3.8 0ZM547.14 722.10a1.9 1.9 0 1 0 3.8 0a1.9 1.9 0 1 0 -3.8 0ZM530.50 699.30a1.9 1.9 0 1 0 3.8 0a1.9 1.9 0 1 0 -3.8 0ZM536.96 715.77a1.9 1.9 0 1 0 3.8 0a1.9 1.9 0 1 0 -3.8 0ZM542.44 710.06a1.9 1.9 0 1 0 3.8 0a1.9 1.9 0 1 0 -3.8 0ZM538.62 736.76a1.9 1.9 0 1 0 3.8 0a1.9 1.9 0 1 0 -3.8 0ZM569.69 698.28a1.9 1.9 0 1 0 3.8 0a1.9 1.9 0 1 0 -3.8 0ZM523.12 702.58a1.9 1.9 0 1 0 3.8 0a1.9 1.9 0 1 0 -3.8 0ZM544.15 708.83a1.9 1.9 0 1 0 3.8 0a1.9 1.9 0 1 0 -3.8 0ZM557.26 674.53a1.9 1.9 0 1 0 3.8 0a1.9 1.9 0 1 0 -3.8 0ZM548.49 686.39a1.9 1.9 0 1 0 3.8 0a1.9 1.9 0 1 0 -3.8 0ZM576.93 712.38a1.9 1.9 0 1 0 3.8 0a1.9 1.9 0 1 0 -3.8 0ZM529.39 703.32a1.9 1.9 0 1 0 3.8 0a1.9 1.9 0 1 0 -3.8 0ZM508.37 724.02a1.9 1.9 0 1 0 3.8 0a1.9 1.9 0 1 0 -3.8 0ZM561.60 689.51a1.9 1.9 0 1 0 3.8 0a1.9 1.9 0 1 0 -3.8 0ZM548.95 733.01a1.9 1.9 0 1 0 3.8 0a1.9 1.9 0 1 0 -3.8 0ZM548.44 697.40a1.9 1.9 0 1 0 3.8 0a1.9 1.9 0 1 0 -3.8 0ZM547.44 731.08a1.9 1.9 0 1 0 3.8 0a1.9 1.9 0 1 0 -3.8 0ZM513.22 735.23a1.9 1.9 0 1 0 3.8 0a1.9 1.9 0 1 0 -3.8 0ZM572.69 711.17a1.9 1.9 0 1 0 3.8 0a1.9 1.9 0 1 0 -3.8 0ZM534.37 715.59a1.9 1.9 0 1 0 3.8 0a1.9 1.9 0 1 0 -3.8 0ZM548.79 700.87a1.9 1.9 0 1 0 3.8 0a1.9 1.9 0 1 0 -3.8 0ZM543.42 726.25a1.9 1.9 0 1 0 3.8 0a1.9 1.9 0 1 0 -3.8 0ZM541.62 706.27a1.9 1.9 0 1 0 3.8 0a1.9 1.9 0 1 0 -3.8 0ZM560.49 705.26a1.9 1.9 0 1 0 3.8 0a1.9 1.9 0 1 0 -3.8 0ZM527.83 708.73a1.9 1.9 0 1 0 3.8 0a1.9 1.9 0 1 0 -3.8 0ZM511.10 733.56a1.9 1.9 0 1 0 3.8 0a1.9 1.9 0 1 0 -3.8 0ZM520.82 712.61a1.9 1.9 0 1 0 3.8 0a1.9 1.9 0 1 0 -3.8 0ZM575.76 688.77a1.9 1.9 0 1 0 3.8 0a1.9 1.9 0 1 0 -3.8 0ZM558.92 701.18a1.9 1.9 0 1 0 3.8 0a1.9 1.9 0 1 0 -3.8 0ZM543.62 715.27a1.9 1.9 0 1 0 3.8 0a1.9 1.9 0 1 0 -3.8 0ZM533.68 745.04a1.9 1.9 0 1 0 3.8 0a1.9 1.9 0 1 0 -3.8 0ZM517.34 734.87a1.9 1.9 0 1 0 3.8 0a1.9 1.9 0 1 0 -3.8 0ZM553.51 697.18a1.9 1.9 0 1 0 3.8 0a1.9 1.9 0 1 0 -3.8 0ZM558.92 683.47a1.9 1.9 0 1 0 3.8 0a1.9 1.9 0 1 0 -3.8 0ZM533.25 698.34a1.9 1.9 0 1 0 3.8 0a1.9 1.9 0 1 0 -3.8 0ZM573.35 699.91a1.9 1.9 0 1 0 3.8 0a1.9 1.9 0 1 0 -3.8 0ZM557.94 706.90a1.9 1.9 0 1 0 3.8 0a1.9 1.9 0 1 0 -3.8 0ZM510.06 718.27a1.9 1.9 0 1 0 3.8 0a1.9 1.9 0 1 0 -3.8 0ZM524.08 713.97a1.9 1.9 0 1 0 3.8 0a1.9 1.9 0 1 0 -3.8 0ZM530.45 709.12a1.9 1.9 0 1 0 3.8 0a1.9 1.9 0 1 0 -3.8 0ZM500.76 694.84a1.9 1.9 0 1 0 3.8 0a1.9 1.9 0 1 0 -3.8 0ZM562.79 707.86a1.9 1.9 0 1 0 3.8 0a1.9 1.9 0 1 0 -3.8 0ZM522.54 715.87a1.9 1.9 0 1 0 3.8 0a1.9 1.9 0 1 0 -3.8 0ZM550.65 701.31a1.9 1.9 0 1 0 3.8 0a1.9 1.9 0 1 0 -3.8 0ZM545.79 735.01a1.9 1.9 0 1 0 3.8 0a1.9 1.9 0 1 0 -3.8 0ZM518.61 699.12a1.9 1.9 0 1 0 3.8 0a1.9 1.9 0 1 0 -3.8 0ZM542.92 729.90a1.9 1.9 0 1 0 3.8 0a1.9 1.9 0 1 0 -3.8 0ZM523.26 735.16a1.9 1.9 0 1 0 3.8 0a1.9 1.9 0 1 0 -3.8 0ZM520.56 700.68a1.9 1.9 0 1 0 3.8 0a1.9 1.9 0 1 0 -3.8 0ZM534.73 696.85a1.9 1.9 0 1 0 3.8 0a1.9 1.9 0 1 0 -3.8 0ZM542.03 730.17a1.9 1.9 0 1 0 3.8 0a1.9 1.9 0 1 0 -3.8 0ZM527.03 683.31a1.9 1.9 0 1 0 3.8 0a1.9 1.9 0 1 0 -3.8 0ZM524.89 729.49a1.9 1.9 0 1 0 3.8 0a1.9 1.9 0 1 0 -3.8 0ZM560.93 702.51a1.9 1.9 0 1 0 3.8 0a1.9 1.9 0 1 0 -3.8 0ZM538.55 690.79a1.9 1.9 0 1 0 3.8 0a1.9 1.9 0 1 0 -3.8 0ZM506.88 715.19a1.9 1.9 0 1 0 3.8 0a1.9 1.9 0 1 0 -3.8 0ZM519.62 736.06a1.9 1.9 0 1 0 3.8 0a1.9 1.9 0 1 0 -3.8 0ZM523.96 699.70a1.9 1.9 0 1 0 3.8 0a1.9 1.9 0 1 0 -3.8 0ZM536.12 736.76a1.9 1.9 0 1 0 3.8 0a1.9 1.9 0 1 0 -3.8 0ZM518.60 696.27a1.9 1.9 0 1 0 3.8 0a1.9 1.9 0 1 0 -3.8 0ZM557.20 719.89a1.9 1.9 0 1 0 3.8 0a1.9 1.9 0 1 0 -3.8 0ZM532.03 729.30a1.9 1.9 0 1 0 3.8 0a1.9 1.9 0 1 0 -3.8 0ZM536.19 698.74a1.9 1.9 0 1 0 3.8 0a1.9 1.9 0 1 0 -3.8 0ZM567.85 687.41a1.9 1.9 0 1 0 3.8 0a1.9 1.9 0 1 0 -3.8 0ZM530.92 720.98a1.9 1.9 0 1 0 3.8 0a1.9 1.9 0 1 0 -3.8 0ZM512.27 720.20a1.9 1.9 0 1 0 3.8 0a1.9 1.9 0 1 0 -3.8 0ZM527.86 710.88a1.9 1.9 0 1 0 3.8 0a1.9 1.9 0 1 0 -3.8 0ZM515.70 725.20a1.9 1.9 0 1 0 3.8 0a1.9 1.9 0 1 0 -3.8 0ZM522.68 732.42a1.9 1.9 0 1 0 3.8 0a1.9 1.9 0 1 0 -3.8 0ZM517.19 731.62a1.9 1.9 0 1 0 3.8 0a1.9 1.9 0 1 0 -3.8 0ZM517.21 709.80a1.9 1.9 0 1 0 3.8 0a1.9 1.9 0 1 0 -3.8 0ZM540.48 728.39a1.9 1.9 0 1 0 3.8 0a1.9 1.9 0 1 0 -3.8 0ZM547.97 703.90a1.9 1.9 0 1 0 3.8 0a1.9 1.9 0 1 0 -3.8 0ZM565.15 705.07a1.9 1.9 0 1 0 3.8 0a1.9 1.9 0 1 0 -3.8 0ZM534.87 721.48a1.9 1.9 0 1 0 3.8 0a1.9 1.9 0 1 0 -3.8 0ZM540.92 703.31a1.9 1.9 0 1 0 3.8 0a1.9 1.9 0 1 0 -3.8 0ZM541.84 713.29a1.9 1.9 0 1 0 3.8 0a1.9 1.9 0 1 0 -3.8 0ZM548.90 706.30a1.9 1.9 0 1 0 3.8 0a1.9 1.9 0 1 0 -3.8 0ZM543.15 722.22a1.9 1.9 0 1 0 3.8 0a1.9 1.9 0 1 0 -3.8 0ZM542.42 723.32a1.9 1.9 0 1 0 3.8 0a1.9 1.9 0 1 0 -3.8 0ZM523.36 713.45a1.9 1.9 0 1 0 3.8 0a1.9 1.9 0 1 0 -3.8 0ZM576.88 684.97a1.9 1.9 0 1 0 3.8 0a1.9 1.9 0 1 0 -3.8 0ZM538.74 713.24a1.9 1.9 0 1 0 3.8 0a1.9 1.9 0 1 0 -3.8 0ZM556.60 686.10a1.9 1.9 0 1 0 3.8 0a1.9 1.9 0 1 0 -3.8 0ZM560.81 706.33a1.9 1.9 0 1 0 3.8 0a1.9 1.9 0 1 0 -3.8 0ZM542.09 714.25a1.9 1.9 0 1 0 3.8 0a1.9 1.9 0 1 0 -3.8 0ZM533.49 724.20a1.9 1.9 0 1 0 3.8 0a1.9 1.9 0 1 0 -3.8 0ZM534.14 741.83a1.9 1.9 0 1 0 3.8 0a1.9 1.9 0 1 0 -3.8 0ZM516.91 711.87a1.9 1.9 0 1 0 3.8 0a1.9 1.9 0 1 0 -3.8 0ZM521.87 708.71a1.9 1.9 0 1 0 3.8 0a1.9 1.9 0 1 0 -3.8 0ZM515.20 723.33a1.9 1.9 0 1 0 3.8 0a1.9 1.9 0 1 0 -3.8 0ZM545.85 722.79a1.9 1.9 0 1 0 3.8 0a1.9 1.9 0 1 0 -3.8 0ZM525.71 680.93a1.9 1.9 0 1 0 3.8 0a1.9 1.9 0 1 0 -3.8 0ZM526.31 724.43a1.9 1.9 0 1 0 3.8 0a1.9 1.9 0 1 0 -3.8 0ZM528.26 713.65a1.9 1.9 0 1 0 3.8 0a1.9 1.9 0 1 0 -3.8 0ZM538.19 697.44a1.9 1.9 0 1 0 3.8 0a1.9 1.9 0 1 0 -3.8 0ZM553.04 711.79a1.9 1.9 0 1 0 3.8 0a1.9 1.9 0 1 0 -3.8 0ZM532.20 732.31a1.9 1.9 0 1 0 3.8 0a1.9 1.9 0 1 0 -3.8 0ZM511.52 729.58a1.9 1.9 0 1 0 3.8 0a1.9 1.9 0 1 0 -3.8 0ZM551.93 704.94a1.9 1.9 0 1 0 3.8 0a1.9 1.9 0 1 0 -3.8 0ZM553.23 693.25a1.9 1.9 0 1 0 3.8 0a1.9 1.9 0 1 0 -3.8 0ZM535.68 682.89a1.9 1.9 0 1 0 3.8 0a1.9 1.9 0 1 0 -3.8 0ZM529.17 722.41a1.9 1.9 0 1 0 3.8 0a1.9 1.9 0 1 0 -3.8 0ZM530.88 697.66a1.9 1.9 0 1 0 3.8 0a1.9 1.9 0 1 0 -3.8 0ZM536.19 721.75a1.9 1.9 0 1 0 3.8 0a1.9 1.9 0 1 0 -3.8 0ZM546.54 692.75a1.9 1.9 0 1 0 3.8 0a1.9 1.9 0 1 0 -3.8 0ZM536.63 714.92a1.9 1.9 0 1 0 3.8 0a1.9 1.9 0 1 0 -3.8 0ZM558.33 691.06a1.9 1.9 0 1 0 3.8 0a1.9 1.9 0 1 0 -3.8 0ZM555.81 715.86a1.9 1.9 0 1 0 3.8 0a1.9 1.9 0 1 0 -3.8 0ZM543.80 704.20a1.9 1.9 0 1 0 3.8 0a1.9 1.9 0 1 0 -3.8 0ZM506.11 704.63a1.9 1.9 0 1 0 3.8 0a1.9 1.9 0 1 0 -3.8 0ZM540.48 714.91a1.9 1.9 0 1 0 3.8 0a1.9 1.9 0 1 0 -3.8 0ZM541.32 719.85a1.9 1.9 0 1 0 3.8 0a1.9 1.9 0 1 0 -3.8 0ZM537.53 703.43a1.9 1.9 0 1 0 3.8 0a1.9 1.9 0 1 0 -3.8 0ZM553.41 706.91a1.9 1.9 0 1 0 3.8 0a1.9 1.9 0 1 0 -3.8 0ZM523.00 725.35a1.9 1.9 0 1 0 3.8 0a1.9 1.9 0 1 0 -3.8 0ZM523.86 729.95a1.9 1.9 0 1 0 3.8 0a1.9 1.9 0 1 0 -3.8 0ZM538.30 717.66a1.9 1.9 0 1 0 3.8 0a1.9 1.9 0 1 0 -3.8 0ZM539.65 721.84a1.9 1.9 0 1 0 3.8 0a1.9 1.9 0 1 0 -3.8 0ZM522.97 718.33a1.9 1.9 0 1 0 3.8 0a1.9 1.9 0 1 0 -3.8 0ZM532.35 697.01a1.9 1.9 0 1 0 3.8 0a1.9 1.9 0 1 0 -3.8 0ZM522.30 713.18a1.9 1.9 0 1 0 3.8 0a1.9 1.9 0 1 0 -3.8 0ZM537.92 729.00a1.9 1.9 0 1 0 3.8 0a1.9 1.9 0 1 0 -3.8 0ZM551.84 704.30a1.9 1.9 0 1 0 3.8 0a1.9 1.9 0 1 0 -3.8 0ZM500.66 714.63a1.9 1.9 0 1 0 3.8 0a1.9 1.9 0 1 0 -3.8 0ZM555.65 716.34a1.9 1.9 0 1 0 3.8 0a1.9 1.9 0 1 0 -3.8 0ZM569.33 698.94a1.9 1.9 0 1 0 3.8 0a1.9 1.9 0 1 0 -3.8 0ZM517.80 709.72a1.9 1.9 0 1 0 3.8 0a1.9 1.9 0 1 0 -3.8 0ZM532.15 731.23a1.9 1.9 0 1 0 3.8 0a1.9 1.9 0 1 0 -3.8 0ZM499.84 719.77a1.9 1.9 0 1 0 3.8 0a1.9 1.9 0 1 0 -3.8 0ZM525.36 706.20a1.9 1.9 0 1 0 3.8 0a1.9 1.9 0 1 0 -3.8 0ZM545.68 715.71a1.9 1.9 0 1 0 3.8 0a1.9 1.9 0 1 0 -3.8 0ZM529.06 689.63a1.9 1.9 0 1 0 3.8 0a1.9 1.9 0 1 0 -3.8 0ZM569.54 690.70a1.9 1.9 0 1 0 3.8 0a1.9 1.9 0 1 0 -3.8 0ZM532.23 726.30a1.9 1.9 0 1 0 3.8 0a1.9 1.9 0 1 0 -3.8 0ZM531.67 690.23a1.9 1.9 0 1 0 3.8 0a1.9 1.9 0 1 0 -3.8 0ZM547.00 712.13a1.9 1.9 0 1 0 3.8 0a1.9 1.9 0 1 0 -3.8 0ZM516.49 715.56a1.9 1.9 0 1 0 3.8 0a1.9 1.9 0 1 0 -3.8 0ZM522.77 715.68a1.9 1.9 0 1 0 3.8 0a1.9 1.9 0 1 0 -3.8 0ZM552.08 691.88a1.9 1.9 0 1 0 3.8 0a1.9 1.9 0 1 0 -3.8 0ZM541.20 714.69a1.9 1.9 0 1 0 3.8 0a1.9 1.9 0 1 0 -3.8 0ZM542.78 684.83a1.9 1.9 0 1 0 3.8 0a1.9 1.9 0 1 0 -3.8 0ZM545.46 727.81a1.9 1.9 0 1 0 3.8 0a1.9 1.9 0 1 0 -3.8 0ZM566.71 698.46a1.9 1.9 0 1 0 3.8 0a1.9 1.9 0 1 0 -3.8 0ZM530.20 714.78a1.9 1.9 0 1 0 3.8 0a1.9 1.9 0 1 0 -3.8 0ZM533.31 707.34a1.9 1.9 0 1 0 3.8 0a1.9 1.9 0 1 0 -3.8 0ZM528.22 734.32a1.9 1.9 0 1 0 3.8 0a1.9 1.9 0 1 0 -3.8 0ZM503.98 723.51a1.9 1.9 0 1 0 3.8 0a1.9 1.9 0 1 0 -3.8 0ZM529.39 721.68a1.9 1.9 0 1 0 3.8 0a1.9 1.9 0 1 0 -3.8 0ZM576.93 687.79a1.9 1.9 0 1 0 3.8 0a1.9 1.9 0 1 0 -3.8 0ZM558.35 711.39a1.9 1.9 0 1 0 3.8 0a1.9 1.9 0 1 0 -3.8 0ZM544.08 711.97a1.9 1.9 0 1 0 3.8 0a1.9 1.9 0 1 0 -3.8 0ZM534.99 701.77a1.9 1.9 0 1 0 3.8 0a1.9 1.9 0 1 0 -3.8 0ZM549.56 703.19a1.9 1.9 0 1 0 3.8 0a1.9 1.9 0 1 0 -3.8 0ZM541.34 729.66a1.9 1.9 0 1 0 3.8 0a1.9 1.9 0 1 0 -3.8 0ZM525.36 709.82a1.9 1.9 0 1 0 3.8 0a1.9 1.9 0 1 0 -3.8 0ZM532.08 723.52a1.9 1.9 0 1 0 3.8 0a1.9 1.9 0 1 0 -3.8 0ZM545.08 721.36a1.9 1.9 0 1 0 3.8 0a1.9 1.9 0 1 0 -3.8 0ZM526.55 702.60a1.9 1.9 0 1 0 3.8 0a1.9 1.9 0 1 0 -3.8 0ZM532.20 693.35a1.9 1.9 0 1 0 3.8 0a1.9 1.9 0 1 0 -3.8 0ZM548.08 696.77a1.9 1.9 0 1 0 3.8 0a1.9 1.9 0 1 0 -3.8 0ZM559.04 733.83a1.9 1.9 0 1 0 3.8 0a1.9 1.9 0 1 0 -3.8 0ZM537.24 728.87a1.9 1.9 0 1 0 3.8 0a1.9 1.9 0 1 0 -3.8 0ZM530.32 714.87a1.9 1.9 0 1 0 3.8 0a1.9 1.9 0 1 0 -3.8 0ZM561.06 704.29a1.9 1.9 0 1 0 3.8 0a1.9 1.9 0 1 0 -3.8 0ZM568.21 708.59a1.9 1.9 0 1 0 3.8 0a1.9 1.9 0 1 0 -3.8 0ZM537.65 709.86a1.9 1.9 0 1 0 3.8 0a1.9 1.9 0 1 0 -3.8 0ZM555.67 706.11a1.9 1.9 0 1 0 3.8 0a1.9 1.9 0 1 0 -3.8 0ZM527.55 718.82a1.9 1.9 0 1 0 3.8 0a1.9 1.9 0 1 0 -3.8 0ZM513.48 701.65a1.9 1.9 0 1 0 3.8 0a1.9 1.9 0 1 0 -3.8 0ZM552.11 700.71a1.9 1.9 0 1 0 3.8 0a1.9 1.9 0 1 0 -3.8 0ZM543.63 717.47a1.9 1.9 0 1 0 3.8 0a1.9 1.9 0 1 0 -3.8 0ZM531.38 702.12a1.9 1.9 0 1 0 3.8 0a1.9 1.9 0 1 0 -3.8 0ZM524.49 725.96a1.9 1.9 0 1 0 3.8 0a1.9 1.9 0 1 0 -3.8 0ZM567.02 680.58a1.9 1.9 0 1 0 3.8 0a1.9 1.9 0 1 0 -3.8 0ZM543.91 701.89a1.9 1.9 0 1 0 3.8 0a1.9 1.9 0 1 0 -3.8 0ZM542.02 690.34a1.9 1.9 0 1 0 3.8 0a1.9 1.9 0 1 0 -3.8 0ZM530.71 712.21a1.9 1.9 0 1 0 3.8 0a1.9 1.9 0 1 0 -3.8 0ZM547.35 688.47a1.9 1.9 0 1 0 3.8 0a1.9 1.9 0 1 0 -3.8 0ZM534.19 709.06a1.9 1.9 0 1 0 3.8 0a1.9 1.9 0 1 0 -3.8 0ZM529.88 722.50a1.9 1.9 0 1 0 3.8 0a1.9 1.9 0 1 0 -3.8 0ZM526.95 713.39a1.9 1.9 0 1 0 3.8 0a1.9 1.9 0 1 0 -3.8 0ZM554.57 715.16a1.9 1.9 0 1 0 3.8 0a1.9 1.9 0 1 0 -3.8 0ZM527.90 719.71a1.9 1.9 0 1 0 3.8 0a1.9 1.9 0 1 0 -3.8 0ZM544.99 699.33a1.9 1.9 0 1 0 3.8 0a1.9 1.9 0 1 0 -3.8 0ZM516.30 713.10a1.9 1.9 0 1 0 3.8 0a1.9 1.9 0 1 0 -3.8 0ZM520.86 706.80a1.9 1.9 0 1 0 3.8 0a1.9 1.9 0 1 0 -3.8 0ZM521.47 730.92a1.9 1.9 0 1 0 3.8 0a1.9 1.9 0 1 0 -3.8 0ZM525.94 715.68a1.9 1.9 0 1 0 3.8 0a1.9 1.9 0 1 0 -3.8 0ZM520.90 713.59a1.9 1.9 0 1 0 3.8 0a1.9 1.9 0 1 0 -3.8 0ZM541.30 708.85a1.9 1.9 0 1 0 3.8 0a1.9 1.9 0 1 0 -3.8 0ZM543.48 697.47a1.9 1.9 0 1 0 3.8 0a1.9 1.9 0 1 0 -3.8 0ZM525.65 714.92a1.9 1.9 0 1 0 3.8 0a1.9 1.9 0 1 0 -3.8 0ZM538.14 738.70a1.9 1.9 0 1 0 3.8 0a1.9 1.9 0 1 0 -3.8 0ZM545.60 719.00a1.9 1.9 0 1 0 3.8 0a1.9 1.9 0 1 0 -3.8 0ZM525.87 720.89a1.9 1.9 0 1 0 3.8 0a1.9 1.9 0 1 0 -3.8 0ZM540.41 705.79a1.9 1.9 0 1 0 3.8 0a1.9 1.9 0 1 0 -3.8 0ZM547.29 717.43a1.9 1.9 0 1 0 3.8 0a1.9 1.9 0 1 0 -3.8 0ZM551.08 701.23a1.9 1.9 0 1 0 3.8 0a1.9 1.9 0 1 0 -3.8 0ZM531.71 713.29a1.9 1.9 0 1 0 3.8 0a1.9 1.9 0 1 0 -3.8 0ZM552.96 700.44a1.9 1.9 0 1 0 3.8 0a1.9 1.9 0 1 0 -3.8 0ZM551.06 705.44a1.9 1.9 0 1 0 3.8 0a1.9 1.9 0 1 0 -3.8 0ZM558.92 674.45a1.9 1.9 0 1 0 3.8 0a1.9 1.9 0 1 0 -3.8 0ZM546.74 729.78a1.9 1.9 0 1 0 3.8 0a1.9 1.9 0 1 0 -3.8 0ZM569.34 708.74a1.9 1.9 0 1 0 3.8 0a1.9 1.9 0 1 0 -3.8 0ZM546.22 693.67a1.9 1.9 0 1 0 3.8 0a1.9 1.9 0 1 0 -3.8 0ZM556.46 710.30a1.9 1.9 0 1 0 3.8 0a1.9 1.9 0 1 0 -3.8 0ZM564.36 703.69a1.9 1.9 0 1 0 3.8 0a1.9 1.9 0 1 0 -3.8 0ZM528.17 713.23a1.9 1.9 0 1 0 3.8 0a1.9 1.9 0 1 0 -3.8 0ZM542.47 708.94a1.9 1.9 0 1 0 3.8 0a1.9 1.9 0 1 0 -3.8 0ZM545.77 738.00a1.9 1.9 0 1 0 3.8 0a1.9 1.9 0 1 0 -3.8 0ZM566.51 709.61a1.9 1.9 0 1 0 3.8 0a1.9 1.9 0 1 0 -3.8 0ZM550.22 717.88a1.9 1.9 0 1 0 3.8 0a1.9 1.9 0 1 0 -3.8 0ZM541.55 712.26a1.9 1.9 0 1 0 3.8 0a1.9 1.9 0 1 0 -3.8 0ZM510.62 714.55a1.9 1.9 0 1 0 3.8 0a1.9 1.9 0 1 0 -3.8 0ZM549.92 722.22a1.9 1.9 0 1 0 3.8 0a1.9 1.9 0 1 0 -3.8 0ZM501.47 731.30a1.9 1.9 0 1 0 3.8 0a1.9 1.9 0 1 0 -3.8 0ZM523.73 714.06a1.9 1.9 0 1 0 3.8 0a1.9 1.9 0 1 0 -3.8 0ZM538.36 689.23a1.9 1.9 0 1 0 3.8 0a1.9 1.9 0 1 0 -3.8 0ZM550.17 710.60a1.9 1.9 0 1 0 3.8 0a1.9 1.9 0 1 0 -3.8 0ZM541.54 748.64a1.9 1.9 0 1 0 3.8 0a1.9 1.9 0 1 0 -3.8 0ZM522.61 728.29a1.9 1.9 0 1 0 3.8 0a1.9 1.9 0 1 0 -3.8 0ZM536.71 707.13a1.9 1.9 0 1 0 3.8 0a1.9 1.9 0 1 0 -3.8 0ZM542.46 697.04a1.9 1.9 0 1 0 3.8 0a1.9 1.9 0 1 0 -3.8 0ZM526.42 710.59a1.9 1.9 0 1 0 3.8 0a1.9 1.9 0 1 0 -3.8 0ZM536.35 711.37a1.9 1.9 0 1 0 3.8 0a1.9 1.9 0 1 0 -3.8 0ZM544.37 712.78a1.9 1.9 0 1 0 3.8 0a1.9 1.9 0 1 0 -3.8 0ZM542.42 710.08a1.9 1.9 0 1 0 3.8 0a1.9 1.9 0 1 0 -3.8 0ZM556.80 706.55a1.9 1.9 0 1 0 3.8 0a1.9 1.9 0 1 0 -3.8 0ZM544.07 674.22a1.9 1.9 0 1 0 3.8 0a1.9 1.9 0 1 0 -3.8 0ZM549.75 700.41a1.9 1.9 0 1 0 3.8 0a1.9 1.9 0 1 0 -3.8 0ZM557.76 718.27a1.9 1.9 0 1 0 3.8 0a1.9 1.9 0 1 0 -3.8 0ZM551.24 696.75a1.9 1.9 0 1 0 3.8 0a1.9 1.9 0 1 0 -3.8 0ZM546.45 695.26a1.9 1.9 0 1 0 3.8 0a1.9 1.9 0 1 0 -3.8 0ZM552.58 690.42a1.9 1.9 0 1 0 3.8 0a1.9 1.9 0 1 0 -3.8 0ZM527.30 708.61a1.9 1.9 0 1 0 3.8 0a1.9 1.9 0 1 0 -3.8 0ZM529.02 697.24a1.9 1.9 0 1 0 3.8 0a1.9 1.9 0 1 0 -3.8 0ZM541.08 727.47a1.9 1.9 0 1 0 3.8 0a1.9 1.9 0 1 0 -3.8 0ZM540.62 723.63a1.9 1.9 0 1 0 3.8 0a1.9 1.9 0 1 0 -3.8 0ZM556.05 709.81a1.9 1.9 0 1 0 3.8 0a1.9 1.9 0 1 0 -3.8 0ZM499.93 728.30a1.9 1.9 0 1 0 3.8 0a1.9 1.9 0 1 0 -3.8 0ZM556.78 700.64a1.9 1.9 0 1 0 3.8 0a1.9 1.9 0 1 0 -3.8 0ZM527.46 705.69a1.9 1.9 0 1 0 3.8 0a1.9 1.9 0 1 0 -3.8 0ZM548.85 687.87a1.9 1.9 0 1 0 3.8 0a1.9 1.9 0 1 0 -3.8 0ZM554.63 700.82a1.9 1.9 0 1 0 3.8 0a1.9 1.9 0 1 0 -3.8 0ZM524.74 711.42a1.9 1.9 0 1 0 3.8 0a1.9 1.9 0 1 0 -3.8 0ZM544.01 708.93a1.9 1.9 0 1 0 3.8 0a1.9 1.9 0 1 0 -3.8 0ZM546.11 724.33a1.9 1.9 0 1 0 3.8 0a1.9 1.9 0 1 0 -3.8 0ZM548.75 707.47a1.9 1.9 0 1 0 3.8 0a1.9 1.9 0 1 0 -3.8 0ZM544.98 710.09a1.9 1.9 0 1 0 3.8 0a1.9 1.9 0 1 0 -3.8 0ZM533.37 709.07a1.9 1.9 0 1 0 3.8 0a1.9 1.9 0 1 0 -3.8 0ZM552.51 710.71a1.9 1.9 0 1 0 3.8 0a1.9 1.9 0 1 0 -3.8 0ZM544.42 719.22a1.9 1.9 0 1 0 3.8 0a1.9 1.9 0 1 0 -3.8 0ZM546.04 708.22a1.9 1.9 0 1 0 3.8 0a1.9 1.9 0 1 0 -3.8 0ZM516.06 702.43a1.9 1.9 0 1 0 3.8 0a1.9 1.9 0 1 0 -3.8 0ZM522.97 714.72a1.9 1.9 0 1 0 3.8 0a1.9 1.9 0 1 0 -3.8 0ZM515.52 741.30a1.9 1.9 0 1 0 3.8 0a1.9 1.9 0 1 0 -3.8 0ZM550.28 725.83a1.9 1.9 0 1 0 3.8 0a1.9 1.9 0 1 0 -3.8 0ZM502.09 725.29a1.9 1.9 0 1 0 3.8 0a1.9 1.9 0 1 0 -3.8 0ZM511.36 722.20a1.9 1.9 0 1 0 3.8 0a1.9 1.9 0 1 0 -3.8 0ZM570.90 705.82a1.9 1.9 0 1 0 3.8 0a1.9 1.9 0 1 0 -3.8 0ZM544.98 701.31a1.9 1.9 0 1 0 3.8 0a1.9 1.9 0 1 0 -3.8 0ZM543.02 711.02a1.9 1.9 0 1 0 3.8 0a1.9 1.9 0 1 0 -3.8 0ZM565.21 703.46a1.9 1.9 0 1 0 3.8 0a1.9 1.9 0 1 0 -3.8 0ZM544.93 707.33a1.9 1.9 0 1 0 3.8 0a1.9 1.9 0 1 0 -3.8 0ZM516.11 713.70a1.9 1.9 0 1 0 3.8 0a1.9 1.9 0 1 0 -3.8 0ZM539.65 701.86a1.9 1.9 0 1 0 3.8 0a1.9 1.9 0 1 0 -3.8 0ZM550.83 686.07a1.9 1.9 0 1 0 3.8 0a1.9 1.9 0 1 0 -3.8 0ZM505.27 728.84a1.9 1.9 0 1 0 3.8 0a1.9 1.9 0 1 0 -3.8 0ZM530.35 724.95a1.9 1.9 0 1 0 3.8 0a1.9 1.9 0 1 0 -3.8 0ZM545.94 709.53a1.9 1.9 0 1 0 3.8 0a1.9 1.9 0 1 0 -3.8 0ZM541.12 731.74a1.9 1.9 0 1 0 3.8 0a1.9 1.9 0 1 0 -3.8 0ZM521.86 717.02a1.9 1.9 0 1 0 3.8 0a1.9 1.9 0 1 0 -3.8 0ZM530.81 721.39a1.9 1.9 0 1 0 3.8 0a1.9 1.9 0 1 0 -3.8 0ZM536.61 715.14a1.9 1.9 0 1 0 3.8 0a1.9 1.9 0 1 0 -3.8 0ZM520.01 694.58a1.9 1.9 0 1 0 3.8 0a1.9 1.9 0 1 0 -3.8 0ZM526.78 705.94a1.9 1.9 0 1 0 3.8 0a1.9 1.9 0 1 0 -3.8 0ZM549.14 694.62a1.9 1.9 0 1 0 3.8 0a1.9 1.9 0 1 0 -3.8 0ZM528.63 727.27a1.9 1.9 0 1 0 3.8 0a1.9 1.9 0 1 0 -3.8 0ZM546.36 704.90a1.9 1.9 0 1 0 3.8 0a1.9 1.9 0 1 0 -3.8 0ZM529.13 719.01a1.9 1.9 0 1 0 3.8 0a1.9 1.9 0 1 0 -3.8 0ZM533.96 706.80a1.9 1.9 0 1 0 3.8 0a1.9 1.9 0 1 0 -3.8 0ZM521.66 681.07a1.9 1.9 0 1 0 3.8 0a1.9 1.9 0 1 0 -3.8 0ZM554.49 688.53a1.9 1.9 0 1 0 3.8 0a1.9 1.9 0 1 0 -3.8 0ZM543.44 736.88a1.9 1.9 0 1 0 3.8 0a1.9 1.9 0 1 0 -3.8 0ZM542.80 716.81a1.9 1.9 0 1 0 3.8 0a1.9 1.9 0 1 0 -3.8 0ZM546.38 709.88a1.9 1.9 0 1 0 3.8 0a1.9 1.9 0 1 0 -3.8 0ZM550.38 718.76a1.9 1.9 0 1 0 3.8 0a1.9 1.9 0 1 0 -3.8 0ZM532.29 712.76a1.9 1.9 0 1 0 3.8 0a1.9 1.9 0 1 0 -3.8 0ZM525.48 721.05a1.9 1.9 0 1 0 3.8 0a1.9 1.9 0 1 0 -3.8 0ZM549.42 681.82a1.9 1.9 0 1 0 3.8 0a1.9 1.9 0 1 0 -3.8 0ZM534.92 701.05a1.9 1.9 0 1 0 3.8 0a1.9 1.9 0 1 0 -3.8 0ZM518.74 723.20a1.9 1.9 0 1 0 3.8 0a1.9 1.9 0 1 0 -3.8 0ZM544.42 701.32a1.9 1.9 0 1 0 3.8 0a1.9 1.9 0 1 0 -3.8 0ZM520.73 708.54a1.9 1.9 0 1 0 3.8 0a1.9 1.9 0 1 0 -3.8 0ZM541.21 692.61a1.9 1.9 0 1 0 3.8 0a1.9 1.9 0 1 0 -3.8 0ZM555.06 698.35a1.9 1.9 0 1 0 3.8 0a1.9 1.9 0 1 0 -3.8 0ZM531.73 709.55a1.9 1.9 0 1 0 3.8 0a1.9 1.9 0 1 0 -3.8 0ZM523.65 726.54a1.9 1.9 0 1 0 3.8 0a1.9 1.9 0 1 0 -3.8 0ZM506.39 738.31a1.9 1.9 0 1 0 3.8 0a1.9 1.9 0 1 0 -3.8 0ZM516.42 719.23a1.9 1.9 0 1 0 3.8 0a1.9 1.9 0 1 0 -3.8 0ZM540.44 728.06a1.9 1.9 0 1 0 3.8 0a1.9 1.9 0 1 0 -3.8 0ZM536.93 706.04a1.9 1.9 0 1 0 3.8 0a1.9 1.9 0 1 0 -3.8 0ZM554.82 706.97a1.9 1.9 0 1 0 3.8 0a1.9 1.9 0 1 0 -3.8 0ZM542.46 714.62a1.9 1.9 0 1 0 3.8 0a1.9 1.9 0 1 0 -3.8 0ZM554.78 726.40a1.9 1.9 0 1 0 3.8 0a1.9 1.9 0 1 0 -3.8 0ZM542.80 740.26a1.9 1.9 0 1 0 3.8 0a1.9 1.9 0 1 0 -3.8 0ZM568.53 689.12a1.9 1.9 0 1 0 3.8 0a1.9 1.9 0 1 0 -3.8 0ZM501.78 729.56a1.9 1.9 0 1 0 3.8 0a1.9 1.9 0 1 0 -3.8 0ZM513.94 742.08a1.9 1.9 0 1 0 3.8 0a1.9 1.9 0 1 0 -3.8 0ZM531.41 724.85a1.9 1.9 0 1 0 3.8 0a1.9 1.9 0 1 0 -3.8 0ZM556.74 712.07a1.9 1.9 0 1 0 3.8 0a1.9 1.9 0 1 0 -3.8 0ZM519.19 718.14a1.9 1.9 0 1 0 3.8 0a1.9 1.9 0 1 0 -3.8 0ZM545.64 697.84a1.9 1.9 0 1 0 3.8 0a1.9 1.9 0 1 0 -3.8 0ZM547.34 727.91a1.9 1.9 0 1 0 3.8 0a1.9 1.9 0 1 0 -3.8 0ZM524.17 717.96a1.9 1.9 0 1 0 3.8 0a1.9 1.9 0 1 0 -3.8 0ZM523.86 705.79a1.9 1.9 0 1 0 3.8 0a1.9 1.9 0 1 0 -3.8 0ZM532.55 713.85a1.9 1.9 0 1 0 3.8 0a1.9 1.9 0 1 0 -3.8 0ZM531.96 712.51a1.9 1.9 0 1 0 3.8 0a1.9 1.9 0 1 0 -3.8 0ZM512.26 691.58a1.9 1.9 0 1 0 3.8 0a1.9 1.9 0 1 0 -3.8 0ZM528.55 723.81a1.9 1.9 0 1 0 3.8 0a1.9 1.9 0 1 0 -3.8 0ZM507.37 722.06a1.9 1.9 0 1 0 3.8 0a1.9 1.9 0 1 0 -3.8 0ZM514.36 714.37a1.9 1.9 0 1 0 3.8 0a1.9 1.9 0 1 0 -3.8 0ZM559.34 696.35a1.9 1.9 0 1 0 3.8 0a1.9 1.9 0 1 0 -3.8 0ZM530.70 696.71a1.9 1.9 0 1 0 3.8 0a1.9 1.9 0 1 0 -3.8 0ZM535.14 712.74a1.9 1.9 0 1 0 3.8 0a1.9 1.9 0 1 0 -3.8 0ZM539.51 717.03a1.9 1.9 0 1 0 3.8 0a1.9 1.9 0 1 0 -3.8 0ZM545.74 725.04a1.9 1.9 0 1 0 3.8 0a1.9 1.9 0 1 0 -3.8 0ZM507.48 705.06a1.9 1.9 0 1 0 3.8 0a1.9 1.9 0 1 0 -3.8 0ZM525.58 719.85a1.9 1.9 0 1 0 3.8 0a1.9 1.9 0 1 0 -3.8 0ZM544.23 715.44a1.9 1.9 0 1 0 3.8 0a1.9 1.9 0 1 0 -3.8 0ZM517.79 720.25a1.9 1.9 0 1 0 3.8 0a1.9 1.9 0 1 0 -3.8 0ZM521.91 709.09a1.9 1.9 0 1 0 3.8 0a1.9 1.9 0 1 0 -3.8 0ZM530.66 716.98a1.9 1.9 0 1 0 3.8 0a1.9 1.9 0 1 0 -3.8 0ZM551.82 727.26a1.9 1.9 0 1 0 3.8 0a1.9 1.9 0 1 0 -3.8 0ZM512.39 709.72a1.9 1.9 0 1 0 3.8 0a1.9 1.9 0 1 0 -3.8 0ZM560.47 702.89a1.9 1.9 0 1 0 3.8 0a1.9 1.9 0 1 0 -3.8 0ZM526.08 698.77a1.9 1.9 0 1 0 3.8 0a1.9 1.9 0 1 0 -3.8 0ZM547.46 694.68a1.9 1.9 0 1 0 3.8 0a1.9 1.9 0 1 0 -3.8 0ZM506.78 722.85a1.9 1.9 0 1 0 3.8 0a1.9 1.9 0 1 0 -3.8 0ZM520.42 731.31a1.9 1.9 0 1 0 3.8 0a1.9 1.9 0 1 0 -3.8 0ZM548.50 698.27a1.9 1.9 0 1 0 3.8 0a1.9 1.9 0 1 0 -3.8 0ZM530.19 717.02a1.9 1.9 0 1 0 3.8 0a1.9 1.9 0 1 0 -3.8 0ZM562.40 694.81a1.9 1.9 0 1 0 3.8 0a1.9 1.9 0 1 0 -3.8 0ZM536.29 705.03a1.9 1.9 0 1 0 3.8 0a1.9 1.9 0 1 0 -3.8 0ZM540.34 727.16a1.9 1.9 0 1 0 3.8 0a1.9 1.9 0 1 0 -3.8 0ZM529.42 710.22a1.9 1.9 0 1 0 3.8 0a1.9 1.9 0 1 0 -3.8 0ZM549.21 723.52a1.9 1.9 0 1 0 3.8 0a1.9 1.9 0 1 0 -3.8 0ZM524.36 723.31a1.9 1.9 0 1 0 3.8 0a1.9 1.9 0 1 0 -3.8 0ZM512.01 704.94a1.9 1.9 0 1 0 3.8 0a1.9 1.9 0 1 0 -3.8 0ZM546.35 691.26a1.9 1.9 0 1 0 3.8 0a1.9 1.9 0 1 0 -3.8 0ZM500.29 733.91a1.9 1.9 0 1 0 3.8 0a1.9 1.9 0 1 0 -3.8 0ZM570.09 719.63a1.9 1.9 0 1 0 3.8 0a1.9 1.9 0 1 0 -3.8 0ZM506.60 718.27a1.9 1.9 0 1 0 3.8 0a1.9 1.9 0 1 0 -3.8 0ZM565.83 693.93a1.9 1.9 0 1 0 3.8 0a1.9 1.9 0 1 0 -3.8 0ZM521.67 709.10a1.9 1.9 0 1 0 3.8 0a1.9 1.9 0 1 0 -3.8 0ZM545.55 705.34a1.9 1.9 0 1 0 3.8 0a1.9 1.9 0 1 0 -3.8 0ZM545.19 698.00a1.9 1.9 0 1 0 3.8 0a1.9 1.9 0 1 0 -3.8 0ZM558.69 686.55a1.9 1.9 0 1 0 3.8 0a1.9 1.9 0 1 0 -3.8 0ZM556.97 707.14a1.9 1.9 0 1 0 3.8 0a1.9 1.9 0 1 0 -3.8 0ZM506.13 714.11a1.9 1.9 0 1 0 3.8 0a1.9 1.9 0 1 0 -3.8 0ZM512.22 689.27a1.9 1.9 0 1 0 3.8 0a1.9 1.9 0 1 0 -3.8 0ZM518.25 741.89a1.9 1.9 0 1 0 3.8 0a1.9 1.9 0 1 0 -3.8 0ZM506.16 716.14a1.9 1.9 0 1 0 3.8 0a1.9 1.9 0 1 0 -3.8 0ZM543.66 700.82a1.9 1.9 0 1 0 3.8 0a1.9 1.9 0 1 0 -3.8 0ZM543.42 719.79a1.9 1.9 0 1 0 3.8 0a1.9 1.9 0 1 0 -3.8 0ZM552.61 715.75a1.9 1.9 0 1 0 3.8 0a1.9 1.9 0 1 0 -3.8 0ZM512.18 707.41a1.9 1.9 0 1 0 3.8 0a1.9 1.9 0 1 0 -3.8 0ZM547.72 720.48a1.9 1.9 0 1 0 3.8 0a1.9 1.9 0 1 0 -3.8 0ZM534.03 698.88a1.9 1.9 0 1 0 3.8 0a1.9 1.9 0 1 0 -3.8 0ZM554.77 720.06a1.9 1.9 0 1 0 3.8 0a1.9 1.9 0 1 0 -3.8 0ZM557.77 739.19a1.9 1.9 0 1 0 3.8 0a1.9 1.9 0 1 0 -3.8 0ZM539.95 705.51a1.9 1.9 0 1 0 3.8 0a1.9 1.9 0 1 0 -3.8 0ZM536.34 710.22a1.9 1.9 0 1 0 3.8 0a1.9 1.9 0 1 0 -3.8 0ZM510.37 721.70a1.9 1.9 0 1 0 3.8 0a1.9 1.9 0 1 0 -3.8 0ZM547.14 720.57a1.9 1.9 0 1 0 3.8 0a1.9 1.9 0 1 0 -3.8 0ZM540.85 712.51a1.9 1.9 0 1 0 3.8 0a1.9 1.9 0 1 0 -3.8 0ZM499.09 731.59a1.9 1.9 0 1 0 3.8 0a1.9 1.9 0 1 0 -3.8 0ZM548.59 728.42a1.9 1.9 0 1 0 3.8 0a1.9 1.9 0 1 0 -3.8 0ZM538.88 706.47a1.9 1.9 0 1 0 3.8 0a1.9 1.9 0 1 0 -3.8 0ZM516.14 721.43a1.9 1.9 0 1 0 3.8 0a1.9 1.9 0 1 0 -3.8 0ZM554.08 696.52a1.9 1.9 0 1 0 3.8 0a1.9 1.9 0 1 0 -3.8 0ZM521.14 703.03a1.9 1.9 0 1 0 3.8 0a1.9 1.9 0 1 0 -3.8 0ZM544.44 707.46a1.9 1.9 0 1 0 3.8 0a1.9 1.9 0 1 0 -3.8 0ZM564.86 692.92a1.9 1.9 0 1 0 3.8 0a1.9 1.9 0 1 0 -3.8 0ZM544.94 696.21a1.9 1.9 0 1 0 3.8 0a1.9 1.9 0 1 0 -3.8 0ZM550.13 690.47a1.9 1.9 0 1 0 3.8 0a1.9 1.9 0 1 0 -3.8 0ZM536.53 735.15a1.9 1.9 0 1 0 3.8 0a1.9 1.9 0 1 0 -3.8 0ZM565.76 691.64a1.9 1.9 0 1 0 3.8 0a1.9 1.9 0 1 0 -3.8 0ZM547.74 707.42a1.9 1.9 0 1 0 3.8 0a1.9 1.9 0 1 0 -3.8 0ZM537.00 710.07a1.9 1.9 0 1 0 3.8 0a1.9 1.9 0 1 0 -3.8 0ZM521.96 705.95a1.9 1.9 0 1 0 3.8 0a1.9 1.9 0 1 0 -3.8 0ZM540.05 723.12a1.9 1.9 0 1 0 3.8 0a1.9 1.9 0 1 0 -3.8 0ZM543.19 713.79a1.9 1.9 0 1 0 3.8 0a1.9 1.9 0 1 0 -3.8 0ZM538.05 703.87a1.9 1.9 0 1 0 3.8 0a1.9 1.9 0 1 0 -3.8 0ZM519.91 711.41a1.9 1.9 0 1 0 3.8 0a1.9 1.9 0 1 0 -3.8 0ZM559.20 662.99a1.9 1.9 0 1 0 3.8 0a1.9 1.9 0 1 0 -3.8 0ZM574.14 667.53a1.9 1.9 0 1 0 3.8 0a1.9 1.9 0 1 0 -3.8 0ZM547.07 669.90a1.9 1.9 0 1 0 3.8 0a1.9 1.9 0 1 0 -3.8 0ZM520.00 748.94a1.9 1.9 0 1 0 3.8 0a1.9 1.9 0 1 0 -3.8 0ZM494.79 735.51a1.9 1.9 0 1 0 3.8 0a1.9 1.9 0 1 0 -3.8 0ZM498.53 695.59a1.9 1.9 0 1 0 3.8 0a1.9 1.9 0 1 0 -3.8 0ZM576.01 715.35a1.9 1.9 0 1 0 3.8 0a1.9 1.9 0 1 0 -3.8 0Z" fill="#111"/>
<line x1="495.76" y1="723.26" x2="576.97" y2="699.54" stroke="#111" stroke-width="0.6"/>
<text x="7.60" y="802.60" font-size="15.5">I</text>
<defs><pattern id="pRed" width="2" height="2" patternUnits="userSpaceOnUse"><rect width="2" height="2" fill="#e64646"/><rect width="1" height="1" fill="#fad2d2"/><rect x="1" y="1" width="1" height="1" fill="#fad2d2"/></pattern><pattern id="pChk" width="4" height="4" patternUnits="userSpaceOnUse" x="0.5" y="0.3"><rect width="4" height="4" fill="#2445b0"/><rect width="2" height="2" fill="#f6f7fd"/><rect x="2" y="2" width="2" height="2" fill="#f6f7fd"/></pattern><pattern id="pStr" width="3" height="2.25" patternUnits="userSpaceOnUse" y="0.4"><rect width="3" height="2.25" fill="#3372c2"/><rect y="1.2" width="3" height="0.9" fill="#a5c4ea"/></pattern></defs>
<text x="88.60" y="797.50" font-size="9.3" text-anchor="middle">SKOV3</text>
<path d="M57.2 809.18V905.70H134.30" stroke="#111" stroke-width="1.1" fill="none"/>
<line x1="53.70" y1="809.18" x2="57.20" y2="809.18" stroke="#111" stroke-width="1.0"/>
<text x="53.60" y="812.18" font-size="8.4" text-anchor="end">1.5</text>
<line x1="53.70" y1="841.35" x2="57.20" y2="841.35" stroke="#111" stroke-width="1.0"/>
<text x="53.60" y="844.35" font-size="8.4" text-anchor="end">1.0</text>
<line x1="53.70" y1="873.53" x2="57.20" y2="873.53" stroke="#111" stroke-width="1.0"/>
<text x="53.60" y="876.53" font-size="8.4" text-anchor="end">0.5</text>
<line x1="53.70" y1="905.70" x2="57.20" y2="905.70" stroke="#111" stroke-width="1.0"/>
<text x="53.60" y="908.70" font-size="8.4" text-anchor="end">0.0</text>
<text x="28.60" y="857.00" font-size="7.8" text-anchor="middle" transform="rotate(-90 28.60 857.00)">TIMELESS mRNA relatively</text>
<text x="38.60" y="857.00" font-size="7.8" text-anchor="middle" transform="rotate(-90 38.60 857.00)">expression</text>
<rect x="62.50" y="841.35" width="16.30" height="64.35" fill="url(#pRed)" stroke="#e23a36" stroke-width="1.2"/>
<line x1="70.65" y1="841.35" x2="70.65" y2="838.45" stroke="#e23a36" stroke-width="1.1"/>
<line x1="66.05" y1="838.45" x2="75.25" y2="838.45" stroke="#e23a36" stroke-width="1.1"/>
<line x1="70.65" y1="905.70" x2="70.65" y2="909.20" stroke="#111" stroke-width="1.0"/>
<text x="74.65" y="916.30" font-size="8.1" text-anchor="end" transform="rotate(-45 74.65 916.30)">si-NC</text>
<rect x="87.70" y="888.97" width="16.30" height="16.73" fill="url(#pChk)" stroke="#2b4fb5" stroke-width="1.2"/>
<line x1="95.85" y1="888.97" x2="95.85" y2="887.68" stroke="#2b4fb5" stroke-width="1.1"/>
<line x1="91.25" y1="887.68" x2="100.45" y2="887.68" stroke="#2b4fb5" stroke-width="1.1"/>
<line x1="95.85" y1="905.70" x2="95.85" y2="909.20" stroke="#111" stroke-width="1.0"/>
<text x="99.85" y="916.30" font-size="8.1" text-anchor="end" transform="rotate(-45 99.85 916.30)">si-MEX3A#1</text>
<rect x="112.90" y="891.54" width="16.30" height="14.16" fill="url(#pStr)" stroke="#3d7ac6" stroke-width="1.2"/>
<line x1="121.05" y1="891.54" x2="121.05" y2="890.90" stroke="#3d7ac6" stroke-width="1.1"/>
<line x1="116.45" y1="890.90" x2="125.65" y2="890.90" stroke="#3d7ac6" stroke-width="1.1"/>
<line x1="121.05" y1="905.70" x2="121.05" y2="909.20" stroke="#111" stroke-width="1.0"/>
<text x="125.05" y="916.30" font-size="8.1" text-anchor="end" transform="rotate(-45 125.05 916.30)">si-MEX3A#2</text>
<path d="M70.30 836.20V816.9H120.70V886.40" stroke="#111" stroke-width="1.1" fill="none"/>
<path d="M70.30 828.4H95.50V881.89" stroke="#111" stroke-width="1.1" fill="none"/>
<text x="95.80" y="816.30" font-size="8.6" text-anchor="middle">**</text>
<text x="83.90" y="827.80" font-size="8.6" text-anchor="middle">**</text>
<text x="213.40" y="797.50" font-size="9.3" text-anchor="middle">HEY</text>
<path d="M182.0 809.18V905.70H259.10" stroke="#111" stroke-width="1.1" fill="none"/>
<line x1="178.50" y1="809.18" x2="182.00" y2="809.18" stroke="#111" stroke-width="1.0"/>
<text x="178.40" y="812.18" font-size="8.4" text-anchor="end">1.5</text>
<line x1="178.50" y1="841.35" x2="182.00" y2="841.35" stroke="#111" stroke-width="1.0"/>
<text x="178.40" y="844.35" font-size="8.4" text-anchor="end">1.0</text>
<line x1="178.50" y1="873.53" x2="182.00" y2="873.53" stroke="#111" stroke-width="1.0"/>
<text x="178.40" y="876.53" font-size="8.4" text-anchor="end">0.5</text>
<line x1="178.50" y1="905.70" x2="182.00" y2="905.70" stroke="#111" stroke-width="1.0"/>
<text x="178.40" y="908.70" font-size="8.4" text-anchor="end">0.0</text>
<text x="152.70" y="857.00" font-size="7.8" text-anchor="middle" transform="rotate(-90 152.70 857.00)">TIMELESS mRNA relatively</text>
<text x="162.70" y="857.00" font-size="7.8" text-anchor="middle" transform="rotate(-90 162.70 857.00)">expression</text>
<rect x="187.30" y="841.35" width="16.30" height="64.35" fill="url(#pRed)" stroke="#e23a36" stroke-width="1.2"/>
<line x1="195.45" y1="841.35" x2="195.45" y2="836.85" stroke="#e23a36" stroke-width="1.1"/>
<line x1="190.85" y1="836.85" x2="200.05" y2="836.85" stroke="#e23a36" stroke-width="1.1"/>
<line x1="195.45" y1="905.70" x2="195.45" y2="909.20" stroke="#111" stroke-width="1.0"/>
<text x="199.45" y="916.30" font-size="8.1" text-anchor="end" transform="rotate(-45 199.45 916.30)">si-NC</text>
<rect x="212.50" y="890.58" width="16.30" height="15.12" fill="url(#pChk)" stroke="#2b4fb5" stroke-width="1.2"/>
<line x1="220.65" y1="890.58" x2="220.65" y2="889.93" stroke="#2b4fb5" stroke-width="1.1"/>
<line x1="216.05" y1="889.93" x2="225.25" y2="889.93" stroke="#2b4fb5" stroke-width="1.1"/>
<line x1="220.65" y1="905.70" x2="220.65" y2="909.20" stroke="#111" stroke-width="1.0"/>
<text x="224.65" y="916.30" font-size="8.1" text-anchor="end" transform="rotate(-45 224.65 916.30)">si-MEX3A#1</text>
<rect x="237.70" y="892.19" width="16.30" height="13.51" fill="url(#pStr)" stroke="#3d7ac6" stroke-width="1.2"/>
<line x1="245.85" y1="892.19" x2="245.85" y2="889.61" stroke="#3d7ac6" stroke-width="1.1"/>
<line x1="241.25" y1="889.61" x2="250.45" y2="889.61" stroke="#3d7ac6" stroke-width="1.1"/>
<line x1="245.85" y1="905.70" x2="245.85" y2="909.20" stroke="#111" stroke-width="1.0"/>
<text x="249.85" y="916.30" font-size="8.1" text-anchor="end" transform="rotate(-45 249.85 916.30)">si-MEX3A#2</text>
<path d="M195.10 836.20V816.9H245.50V886.40" stroke="#111" stroke-width="1.1" fill="none"/>
<path d="M195.10 828.4H220.30V881.89" stroke="#111" stroke-width="1.1" fill="none"/>
<text x="220.60" y="816.30" font-size="8.6" text-anchor="middle">**</text>
<text x="208.70" y="827.80" font-size="8.6" text-anchor="middle">**</text>
<text x="302.90" y="804.60" font-size="14.2">J</text>
<defs><filter id="bl" x="-30%" y="-80%" width="160%" height="260%"><feGaussianBlur stdDeviation="1.3"/></filter><filter id="bl2" x="-30%" y="-80%" width="160%" height="260%"><feGaussianBlur stdDeviation="0.6"/></filter></defs>
<rect x="373.20" y="853.40" width="85.40" height="28.00" fill="#c3c3c3" rx="1" stroke="#2a2a2a" stroke-width="1.1"/>
<rect x="373.20" y="884.20" width="85.40" height="27.20" fill="#d5d5d5" rx="1" stroke="#2a2a2a" stroke-width="1.1"/>
<line x1="373.20" y1="913.80" x2="458.60" y2="913.80" stroke="#1a1a1a" stroke-width="1.3"/>
<text x="415.90" y="925.00" font-size="10.8" text-anchor="middle">HEY</text>
<text x="388.50" y="852.30" font-size="9.6" transform="rotate(-45 388.50 852.30)">si-NC</text>
<text x="416.90" y="852.30" font-size="9.6" transform="rotate(-45 416.90 852.30)">si-MEX3A#1</text>
<text x="444.90" y="852.30" font-size="9.6" transform="rotate(-45 444.90 852.30)">si-MEX3A#2</text>
<rect x="461.30" y="853.40" width="85.00" height="28.00" fill="#d8d8d8" rx="1" stroke="#2a2a2a" stroke-width="1.1"/>
<rect x="461.30" y="884.20" width="85.00" height="27.20" fill="#d0d0d0" rx="1" stroke="#2a2a2a" stroke-width="1.1"/>
<line x1="461.30" y1="913.80" x2="546.30" y2="913.80" stroke="#1a1a1a" stroke-width="1.3"/>
<text x="503.80" y="925.00" font-size="10.8" text-anchor="middle">SKOV3</text>
<text x="481.60" y="852.30" font-size="9.6" transform="rotate(-45 481.60 852.30)">si-NC</text>
<text x="510.80" y="852.30" font-size="9.6" transform="rotate(-45 510.80 852.30)">si-MEX3A#1</text>
<text x="538.50" y="852.30" font-size="9.6" transform="rotate(-45 538.50 852.30)">si-MEX3A#2</text>
<rect x="549.40" y="853.40" width="84.90" height="28.00" fill="#d5d5d5" rx="1" stroke="#2a2a2a" stroke-width="1.1"/>
<rect x="549.40" y="884.20" width="84.90" height="27.20" fill="#c9c9c9" rx="1" stroke="#2a2a2a" stroke-width="1.1"/>
<line x1="549.40" y1="913.80" x2="634.30" y2="913.80" stroke="#1a1a1a" stroke-width="1.3"/>
<text x="591.85" y="925.00" font-size="10.8" text-anchor="middle">A2780</text>
<text x="566.50" y="852.30" font-size="9.6" transform="rotate(-45 566.50 852.30)">si-NC</text>
<text x="595.70" y="852.30" font-size="9.6" transform="rotate(-45 595.70 852.30)">si-MEX3A#1</text>
<text x="623.40" y="852.30" font-size="9.6" transform="rotate(-45 623.40 852.30)">si-MEX3A#2</text>
<rect x="379.80" y="863.00" width="21.90" height="6.60" rx="3.30" fill="#060606" filter="url(#bl2)"/>
<rect x="408.00" y="864.60" width="19.00" height="3.40" rx="1.70" fill="#505050" filter="url(#bl2)"/>
<rect x="434.00" y="865.30" width="18.00" height="3.00" rx="1.50" fill="#a5a5a5" filter="url(#bl2)"/>
<rect x="466.00" y="862.70" width="23.30" height="9.00" rx="3.50" fill="#060606" filter="url(#bl2)"/>
<rect x="468.00" y="866.90" width="19.00" height="1.00" rx="0.50" fill="#3a3a3a" filter="url(#bl2)"/>
<rect x="495.10" y="864.40" width="17.60" height="2.00" rx="1.00" fill="#9a9a9a" filter="url(#bl2)"/>
<rect x="495.10" y="868.50" width="17.60" height="2.60" rx="1.30" fill="#555" filter="url(#bl2)"/>
<rect x="520.70" y="868.50" width="18.30" height="2.60" rx="1.30" fill="#666" filter="url(#bl2)"/>
<rect x="555.00" y="866.50" width="21.00" height="5.00" rx="2.50" fill="#a8a8a8" filter="url(#bl2)"/>
<rect x="554.00" y="860.30" width="22.80" height="6.60" rx="3.30" fill="#040404" filter="url(#bl2)"/>
<rect x="582.20" y="861.30" width="19.00" height="3.00" rx="1.50" fill="#6a6a6a" filter="url(#bl2)"/>
<rect x="582.50" y="861.10" width="6.00" height="3.40" rx="1.70" fill="#222" filter="url(#bl2)"/>
<rect x="608.00" y="861.10" width="20.20" height="3.40" rx="1.70" fill="#555" filter="url(#bl2)"/>
<rect x="608.00" y="866.25" width="14.00" height="2.50" rx="1.25" fill="#b0b0b0" filter="url(#bl2)"/>
<rect x="378.90" y="896.60" width="22.80" height="6.00" rx="3.00" fill="#080808" filter="url(#bl2)"/>
<rect x="403.50" y="896.60" width="23.50" height="6.00" rx="3.00" fill="#080808" filter="url(#bl2)"/>
<rect x="429.00" y="896.60" width="23.50" height="6.00" rx="3.00" fill="#080808" filter="url(#bl2)"/>
<rect x="466.50" y="895.60" width="24.00" height="5.40" rx="2.70" fill="#080808" filter="url(#bl2)"/>
<rect x="493.00" y="895.60" width="22.50" height="5.40" rx="2.70" fill="#080808" filter="url(#bl2)"/>
<rect x="518.00" y="895.60" width="23.00" height="5.40" rx="2.70" fill="#080808" filter="url(#bl2)"/>
<rect x="555.50" y="895.50" width="22.50" height="5.60" rx="2.80" fill="#080808" filter="url(#bl2)"/>
<rect x="581.00" y="895.50" width="23.00" height="5.60" rx="2.80" fill="#080808" filter="url(#bl2)"/>
<rect x="606.50" y="895.50" width="23.50" height="5.60" rx="2.80" fill="#080808" filter="url(#bl2)"/>
<text x="321.00" y="871.80" font-size="9.7">TIMELESS</text>
<text x="320.40" y="905.30" font-size="9.8">β-actin</text>
<text x="643.00" y="872.30" font-size="10.65">140 kDa</text>
<text x="643.00" y="901.80" font-size="10.65">43 kDa</text></svg></body></html>
